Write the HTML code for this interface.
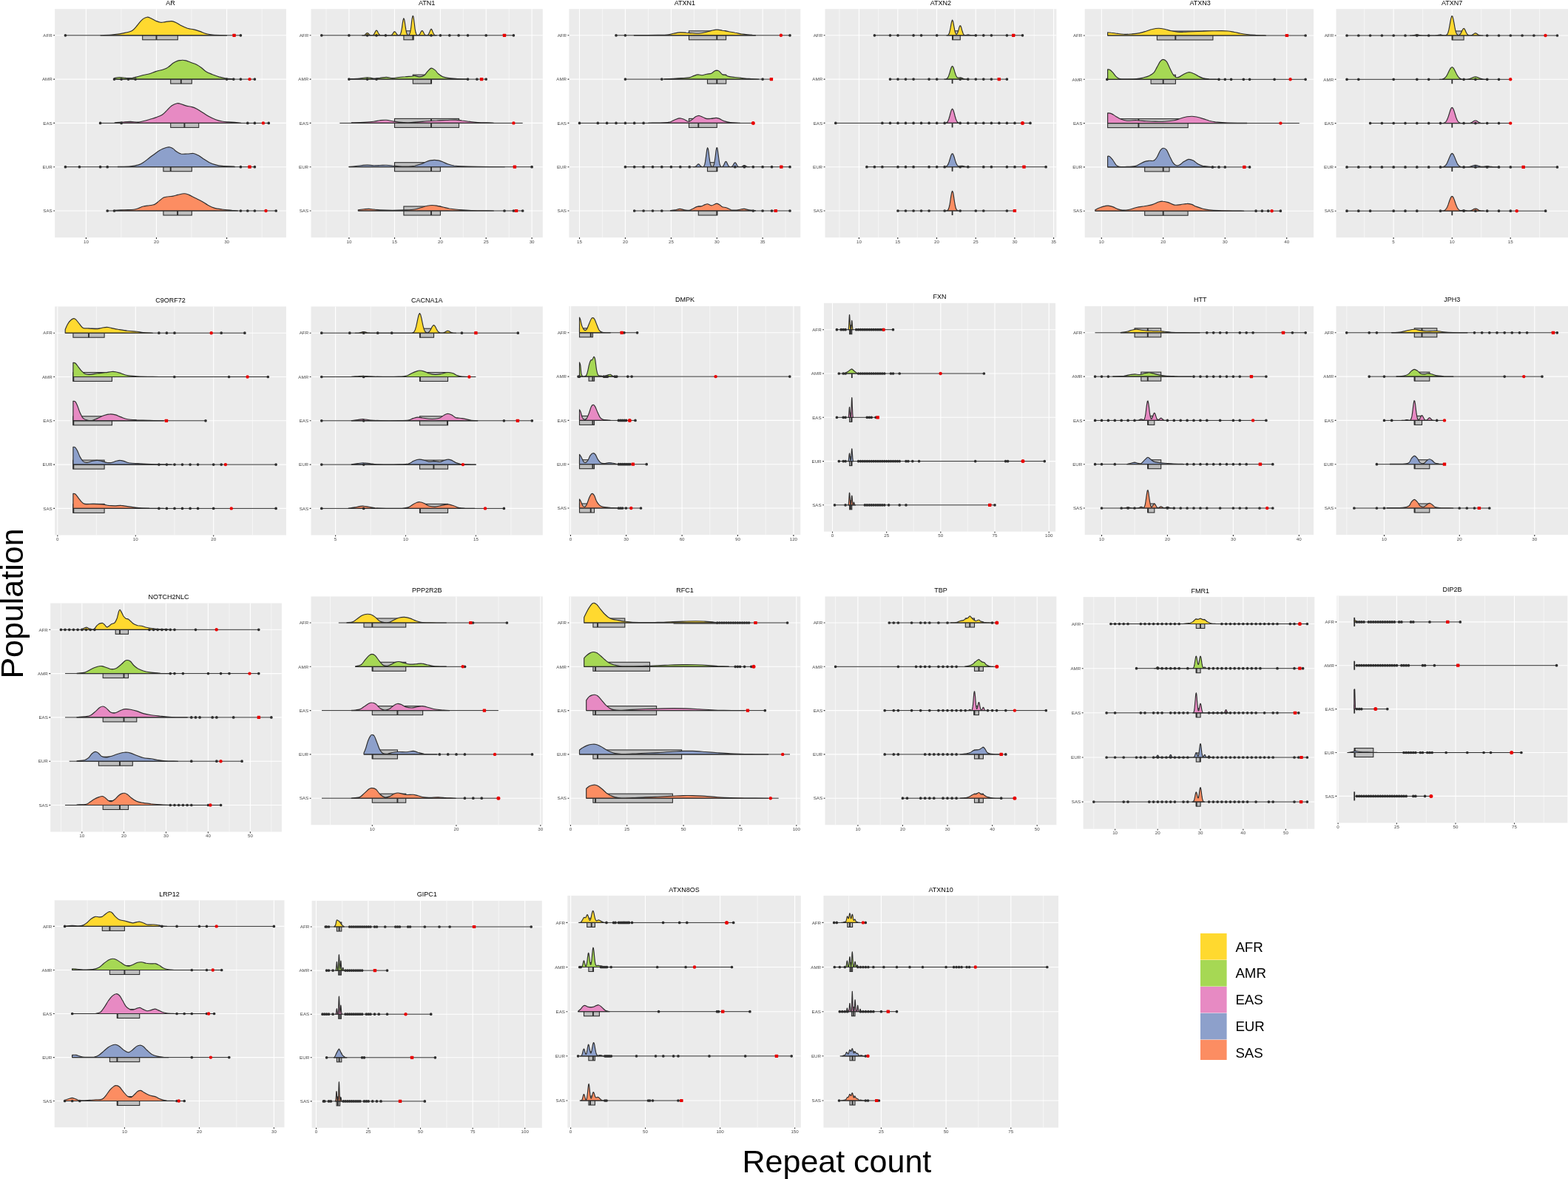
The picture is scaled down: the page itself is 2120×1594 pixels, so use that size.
<!DOCTYPE html>
<html lang="en"><head><meta charset="utf-8"><title>Repeat count by population</title>
<style>html,body{margin:0;padding:0;background:#fff}svg{display:block}</style></head>
<body>
<svg width="2120" height="1594" viewBox="0 0 2120 1594" font-family="'Liberation Sans', Arial, Helvetica, sans-serif">
<rect width="2120" height="1594" fill="#fff"/>
<g>
<rect x="74.1" y="12.2" width="312.9" height="308.9" fill="#EBEBEB"/>
<path d="M163.9 12.2V321.1M259 12.2V321.1M354.2 12.2V321.1" stroke="#fff" stroke-opacity=".9" stroke-width=".6" fill="none"/>
<path d="M116.4 12.2V321.1M211.5 12.2V321.1M306.6 12.2V321.1M74.1 47.8H387M74.1 107.1H387M74.1 166.4H387M74.1 225.7H387M74.1 285H387" stroke="#fff" stroke-width="1.1" fill="none"/>
<path d="M116.4 321.1v1.8M211.5 321.1v1.8M306.6 321.1v1.8M74.1 47.8h-1.8M74.1 107.1h-1.8M74.1 166.4h-1.8M74.1 225.7h-1.8M74.1 285h-1.8" stroke="#2E2E2E" stroke-width="1.1" fill="none"/>
<g font-size="6.2" fill="#4D4D4D" text-anchor="middle">
<text x="116.4" y="328.7">10</text>
<text x="211.5" y="328.7">20</text>
<text x="306.6" y="328.7">30</text>
</g>
<g font-size="6.2" fill="#4D4D4D" text-anchor="end">
<text x="70.7" y="50">AFR</text>
<text x="70.7" y="109.3">AMR</text>
<text x="70.7" y="168.6">EAS</text>
<text x="70.7" y="227.9">EUR</text>
<text x="70.7" y="287.2">SAS</text>
</g>
<text x="230.6" y="7" font-size="9" text-anchor="middle" fill="#000">AR</text>
<rect x="192.7" y="41.8" width="47.6" height="12" fill="#BEBEBE" stroke="#2E2E2E" stroke-width="1.1"/>
<path d="M211.5 41.8v12" stroke="#2E2E2E" stroke-width="1.9"/>
<path d="M136 47.8L136 47.8C138.8 47.6 147.7 47.2 153 46.7C158.4 46.2 163.7 45.5 168 44.6C172.2 43.7 175.8 43 178.6 41.4C181.5 39.8 183.3 36.9 185 35C186.8 33 187.9 31.2 189.3 29.6C190.7 28 192 26.4 193.6 25.4C195.2 24.3 197.1 23.4 198.9 23.2C200.7 23.1 202.3 23.9 204.2 24.7C206.2 25.6 208.5 27.2 210.6 28.2C212.8 29.1 214.9 30 217 30.3C219.2 30.5 220.9 29.9 223.4 29.6C225.9 29.4 229.5 28.4 232 28.6C234.4 28.8 236.2 29.7 238.4 30.7C240.5 31.7 242.3 33.3 244.8 34.6C247.2 35.8 250.4 37.3 253.3 38.2C256.1 39.1 259 39.2 261.8 39.9C264.7 40.6 267.5 41.5 270.4 42.4C273.2 43.4 276 44.9 278.9 45.6C281.7 46.4 282.8 46.8 287.4 47.1C292 47.5 303.4 47.7 306.6 47.8L306.6 47.8Z" fill="#FFD92F" stroke="#2E2E2E" stroke-width="1.15" stroke-linejoin="round"/>
<path d="M88.4 47.8H325.4" stroke="#2E2E2E" stroke-width="1"/>
<path d="M88.4 47.8h0M325.4 47.8h0" stroke="#2E2E2E" stroke-width="3.7" stroke-linecap="round" fill="none"/>
<rect x="314.4" y="45.7" width="4.4" height="4.2" rx=".6" fill="#EA0000"/>
<rect x="230.7" y="101.1" width="28.6" height="12" fill="#BEBEBE" stroke="#2E2E2E" stroke-width="1.1"/>
<path d="M244.8 101.1v12" stroke="#2E2E2E" stroke-width="1.9"/>
<path d="M154.5 107.1L154.5 105.6C155.7 105.4 159 104.5 161.6 104.5C164.2 104.5 167.3 105.2 170.1 105.4C172.9 105.5 176.1 105.8 178.6 105.6C181.1 105.3 182.5 104.5 185 103.9C187.5 103.2 190.7 102.2 193.6 101.5C196.4 100.8 199.3 100.6 202.1 99.8C204.9 99 207.4 97.6 210.6 96.6C213.8 95.6 218.5 94.8 221.3 93.8C224.1 92.9 225.6 92.1 227.7 90.6C229.8 89.2 232 86.7 234.1 85.3C236.2 83.9 238.5 82.8 240.5 82.1C242.4 81.4 244 81.3 245.8 81.3C247.6 81.2 249.2 81.4 251.2 81.9C253.1 82.4 255.1 83.3 257.6 84.2C260 85.2 263.6 86.2 266.1 87.4C268.6 88.7 270.4 90.1 272.5 91.7C274.6 93.3 276.4 95.6 278.9 97C281.4 98.5 284.6 99.5 287.4 100.7C290.3 101.8 293.1 103 295.9 103.9C298.8 104.7 301.3 105.3 304.5 105.8C307.7 106.3 313.4 106.7 315.1 106.9L315.1 107.1Z" fill="#A6D854" stroke="#2E2E2E" stroke-width="1.15" stroke-linejoin="round"/>
<path d="M154.5 107.1H344.4" stroke="#2E2E2E" stroke-width="1"/>
<path d="M154.5 107.1h0M164.1 107.1h0M173.5 107.1h0M183.1 107.1h0M306.6 107.1h0M315.8 107.1h0M325.4 107.1h0M344.4 107.1h0" stroke="#2E2E2E" stroke-width="3.7" stroke-linecap="round" fill="none"/>
<circle cx="337.5" cy="107.1" r="2.2" fill="#EA0000"/>
<rect x="230.7" y="160.4" width="38" height="12" fill="#BEBEBE" stroke="#2E2E2E" stroke-width="1.1"/>
<path d="M249.4 160.4v12" stroke="#2E2E2E" stroke-width="1.9"/>
<path d="M155.2 166.4L155.2 165.9C157.3 165.7 164.4 164.9 168 164.7C171.5 164.4 173.3 164.4 176.5 164.4C179.7 164.5 184.3 165.2 187.2 165.1C190 165 191.1 164.4 193.6 163.8C196.1 163.2 199.3 162.3 202.1 161.5C204.9 160.6 207.8 159.9 210.6 158.9C213.5 157.9 216.7 156.9 219.2 155.3C221.7 153.7 223.4 151.4 225.6 149.3C227.7 147.2 229.6 144.5 232 142.9C234.3 141.3 237.3 140.1 239.4 139.7C241.6 139.3 242.8 140 244.8 140.6C246.7 141.1 248.7 142.2 251.2 142.9C253.6 143.6 257.2 143.9 259.7 144.6C262.2 145.3 263.6 145.9 266.1 147.2C268.6 148.5 271.8 150.7 274.6 152.5C277.5 154.3 280.3 156.3 283.1 157.8C286 159.4 288.8 160.6 291.7 161.7C294.5 162.7 297.4 163.5 300.2 164C303.1 164.6 305.9 164.7 308.7 164.9C311.6 165.1 314.4 165.1 317.3 165.3C320.1 165.5 324.4 166 325.8 166.2L325.8 166.4Z" fill="#E78AC3" stroke="#2E2E2E" stroke-width="1.15" stroke-linejoin="round"/>
<path d="M135.6 166.4H363.3" stroke="#2E2E2E" stroke-width="1"/>
<path d="M135.6 166.4h0M164.1 166.4h0M334.8 166.4h0M344.4 166.4h0M363.3 166.4h0" stroke="#2E2E2E" stroke-width="3.7" stroke-linecap="round" fill="none"/>
<circle cx="355.9" cy="166.4" r="2.2" fill="#EA0000"/>
<rect x="220.9" y="219.7" width="38.4" height="12" fill="#BEBEBE" stroke="#2E2E2E" stroke-width="1.1"/>
<path d="M230.7 219.7v12" stroke="#2E2E2E" stroke-width="1.9"/>
<path d="M159.4 225.7L159.4 225.4C162.3 225.3 171.9 225.2 176.5 224.8C181.1 224.4 184.3 223.7 187.2 222.9C190 222 191.1 221.3 193.6 219.7C196.1 218.1 199.3 215.4 202.1 213.3C204.9 211.2 207.8 208.8 210.6 206.9C213.5 204.9 216.7 202.8 219.2 201.6C221.7 200.3 223.8 199.6 225.6 199.2C227.3 198.8 228.4 198.7 229.8 199C231.2 199.3 232.7 200 234.1 200.9C235.5 201.9 236.6 203.6 238.4 204.8C240.1 205.9 242.3 207.4 244.8 208C247.2 208.5 250.4 208 253.3 208C256.1 207.9 259.3 207.2 261.8 207.5C264.3 207.9 266.1 209 268.2 210.1C270.4 211.2 272.1 212.8 274.6 214.4C277.1 216 280.3 218.3 283.1 219.7C286 221.1 288.8 222.1 291.7 222.9C294.5 223.7 295.9 224 300.2 224.4C304.5 224.8 314.4 225.1 317.3 225.2L317.3 225.7Z" fill="#8DA0CB" stroke="#2E2E2E" stroke-width="1.15" stroke-linejoin="round"/>
<path d="M88.4 225.7H344.4" stroke="#2E2E2E" stroke-width="1"/>
<path d="M88.4 225.7h0M107.4 225.7h0M135.6 225.7h0M145.2 225.7h0M325.4 225.7h0M344.4 225.7h0" stroke="#2E2E2E" stroke-width="3.7" stroke-linecap="round" fill="none"/>
<rect x="335.3" y="223.6" width="4.4" height="4.2" rx=".6" fill="#EA0000"/>
<rect x="220.9" y="279" width="38.4" height="12" fill="#BEBEBE" stroke="#2E2E2E" stroke-width="1.1"/>
<path d="M240.1 279v12" stroke="#2E2E2E" stroke-width="1.9"/>
<path d="M155.2 285L155.2 284.3C157.3 284.2 163.7 283.9 168 283.7C172.2 283.5 177.6 283.6 180.8 283.2C184 282.9 185 282.3 187.2 281.5C189.3 280.8 191.1 279.6 193.6 279C196.1 278.3 199.6 278.1 202.1 277.7C204.6 277.3 206.4 277.6 208.5 276.6C210.6 275.7 212.8 273.5 214.9 271.9C217 270.3 219.2 268.1 221.3 267C223.4 266 225.6 266.1 227.7 265.8C229.8 265.4 232 265.5 234.1 265.1C236.2 264.7 238 264 240.5 263.4C243 262.8 246.5 261.7 249 261.7C251.5 261.7 252.9 262.4 255.4 263.4C257.9 264.4 261.1 266.3 264 267.7C266.8 269.1 269.6 270.3 272.5 271.9C275.3 273.5 278.2 275.7 281 277.3C283.9 278.8 286.3 280.2 289.5 281.1C292.7 282.1 296.3 282.5 300.2 283C304.1 283.6 309.5 284 313 284.3C316.6 284.6 320.1 284.8 321.5 285L321.5 285Z" fill="#FC8D62" stroke="#2E2E2E" stroke-width="1.15" stroke-linejoin="round"/>
<path d="M145.2 285H373.2" stroke="#2E2E2E" stroke-width="1"/>
<path d="M145.2 285h0M154.5 285h0M325.4 285h0M334.8 285h0M344.4 285h0M373.2 285h0" stroke="#2E2E2E" stroke-width="3.7" stroke-linecap="round" fill="none"/>
<circle cx="359.5" cy="285" r="2.2" fill="#EA0000"/>
</g>
<g>
<rect x="420.5" y="12.2" width="313.3" height="308.9" fill="#EBEBEB"/>
<path d="M441 12.2V321.1M502.6 12.2V321.1M564.5 12.2V321.1M626.3 12.2V321.1M688.2 12.2V321.1" stroke="#fff" stroke-opacity=".9" stroke-width=".6" fill="none"/>
<path d="M471.9 12.2V321.1M533.5 12.2V321.1M595.4 12.2V321.1M657.2 12.2V321.1M719.1 12.2V321.1M420.5 47.8H733.8M420.5 107.1H733.8M420.5 166.4H733.8M420.5 225.7H733.8M420.5 285H733.8" stroke="#fff" stroke-width="1.1" fill="none"/>
<path d="M471.9 321.1v1.8M533.5 321.1v1.8M595.4 321.1v1.8M657.2 321.1v1.8M719.1 321.1v1.8M420.5 47.8h-1.8M420.5 107.1h-1.8M420.5 166.4h-1.8M420.5 225.7h-1.8M420.5 285h-1.8" stroke="#2E2E2E" stroke-width="1.1" fill="none"/>
<g font-size="6.2" fill="#4D4D4D" text-anchor="middle">
<text x="471.9" y="328.7">10</text>
<text x="533.5" y="328.7">15</text>
<text x="595.4" y="328.7">20</text>
<text x="657.2" y="328.7">25</text>
<text x="719.1" y="328.7">30</text>
</g>
<g font-size="6.2" fill="#4D4D4D" text-anchor="end">
<text x="417.1" y="50">AFR</text>
<text x="417.1" y="109.3">AMR</text>
<text x="417.1" y="168.6">EAS</text>
<text x="417.1" y="227.9">EUR</text>
<text x="417.1" y="287.2">SAS</text>
</g>
<text x="577.2" y="7" font-size="9" text-anchor="middle" fill="#000">ATN1</text>
<rect x="545.9" y="41.8" width="13.2" height="12" fill="#BEBEBE" stroke="#2E2E2E" stroke-width="1.1"/>
<path d="M558.3 41.8v12" stroke="#2E2E2E" stroke-width="1.9"/>
<path d="M489.7 47.8L489.7 47.8L490.5 47.8L491.3 47.7L492 47.6L492.8 47.3L493.6 46.9L494.3 46.2L495.1 45.5L495.9 44.8L496.6 44.6L497.4 44.8L498.2 45.5L498.9 46.2L499.7 46.9L500.5 47.3L501.3 47.6L502 47.7L502.8 47.7L503.6 47.7L504.3 47.4L505.1 46.9L505.9 46L506.6 44.6L507.4 43L508.2 41.6L508.9 41L509.7 41.4L510.5 42.6L511.2 44.3L512 45.7L512.8 46.8L513.5 47.4L514.3 47.6L515.1 47.7L527.4 47.7L528.1 47.7L528.9 47.5L529.7 47.1L530.4 46.4L531.2 45.4L532 44.1L532.7 43.1L533.5 42.7L534.3 43L535 44L535.8 45.2L536.6 46.3L537.3 47.1L538.1 47.5L538.9 47.6L539.6 47.6L540.4 47.4L541.2 46.7L541.9 45.1L542.7 42L543.5 37.4L544.2 32L545 27.1L545.8 24.8L546.6 26L547.3 30.2L548.1 35.7L548.9 40.7L549.6 44.2L550.4 46.3L551.2 47.2L551.9 47.5L552.7 47.3L553.5 46.6L554.2 44.9L555 41.6L555.8 36.5L556.5 30.2L557.3 24.4L558.1 21.3L558.8 22.2L559.6 26.7L560.4 33L561.1 39L561.9 43.3L562.7 45.8L563.4 47.1L564.2 47.5L565 47.6L565.7 47.5L566.5 47.1L567.3 46.4L568.1 45.2L568.8 43.7L569.6 42.3L570.4 41.5L571.1 41.6L571.9 42.6L572.7 44.1L573.4 45.5L574.2 46.6L575 47.3L575.7 47.6L576.5 47.7L577.3 47.7L578 47.5L578.8 47L579.6 46.1L580.3 44.6L581.1 42.6L581.9 40.7L582.6 39.4L583.4 39.4L584.2 40.7L584.9 42.6L585.7 44.6L586.5 46.1L587.2 47L588 47.5L588.8 47.7L589.6 47.8L590.3 47.8L590.3 47.8Z" fill="#FFD92F" stroke="#2E2E2E" stroke-width="1.15" stroke-linejoin="round"/>
<path d="M434.8 47.8H694.4" stroke="#2E2E2E" stroke-width="1"/>
<path d="M434.8 47.8h0M471.9 47.8h0M496.6 47.8h0M509 47.8h0M521.4 47.8h0M583 47.8h0M595.4 47.8h0M607.8 47.8h0M620.1 47.8h0M632.5 47.8h0M657.2 47.8h0M694.4 47.8h0" stroke="#2E2E2E" stroke-width="3.7" stroke-linecap="round" fill="none"/>
<rect x="679.8" y="45.7" width="4.4" height="4.2" rx=".6" fill="#EA0000"/>
<rect x="558.3" y="101.1" width="25.2" height="12" fill="#BEBEBE" stroke="#2E2E2E" stroke-width="1.1"/>
<path d="M583 101.1v12" stroke="#2E2E2E" stroke-width="1.9"/>
<path d="M473.2 107.1L473.2 106.6C475 106.6 479.9 106.5 483.8 106.2C487.8 105.9 493.1 104.8 496.6 104.7C500.2 104.7 502.3 105.9 505.2 106C508 106.1 510.9 105.6 513.7 105.4C516.6 105.1 519.4 104.3 522.2 104.3C525.1 104.3 527.9 105.5 530.8 105.6C533.6 105.6 536.5 104.8 539.3 104.5C542.1 104.2 545 103.9 547.8 103.7C550.7 103.4 554.2 103.4 556.4 103.2C558.5 103 558.9 102.3 560.6 102.4C562.4 102.5 564.9 103.9 567 103.9C569.2 103.8 571.7 103.1 573.4 102C575.2 100.8 576.1 98.7 577.7 97C579.3 95.4 581.2 92.5 583 92.1C584.8 91.8 586.8 93.6 588.4 94.9C590 96.2 590.8 98.3 592.6 99.8C594.4 101.3 596.9 102.9 599 103.9C601.2 104.8 602.6 105 605.4 105.4C608.3 105.8 611.5 106 616.1 106.2C620.7 106.5 630.3 106.8 633.1 106.9L633.1 107.1Z" fill="#A6D854" stroke="#2E2E2E" stroke-width="1.15" stroke-linejoin="round"/>
<path d="M471.9 107.1H657.2" stroke="#2E2E2E" stroke-width="1"/>
<path d="M471.9 107.1h0M496.6 107.1h0M509 107.1h0M632.5 107.1h0M644.9 107.1h0M657.2 107.1h0" stroke="#2E2E2E" stroke-width="3.7" stroke-linecap="round" fill="none"/>
<rect x="648.9" y="105" width="4.4" height="4.2" rx=".6" fill="#EA0000"/>
<rect x="533.5" y="160.4" width="87" height="12" fill="#BEBEBE" stroke="#2E2E2E" stroke-width="1.1"/>
<path d="M583 160.4v12" stroke="#2E2E2E" stroke-width="1.9"/>
<path d="M475.3 166.4L475.3 165.9C478.2 165.8 487.4 165.6 492.4 165.3C497.4 165 501.6 164.7 505.2 164.2C508.7 163.8 510.9 163.1 513.7 162.7C516.6 162.4 519.4 162.1 522.2 162.3C525.1 162.5 527.9 163.3 530.8 163.8C533.6 164.3 535.7 164.8 539.3 165.1C542.9 165.4 547.8 165.8 552.1 165.7C556.4 165.7 560.6 165.2 564.9 164.9C569.2 164.6 573.4 164.1 577.7 163.8C582 163.5 586.2 163.2 590.5 163C594.8 162.7 599 162.7 603.3 162.5C607.6 162.4 612.5 162 616.1 162.1C619.6 162.2 621.4 162.6 624.6 163C627.8 163.3 631.7 164 635.3 164.4C638.8 164.9 640.6 165.2 645.9 165.5C651.3 165.8 663.7 166 667.3 166.2L667.3 166.4Z" fill="#E78AC3" stroke="#2E2E2E" stroke-width="1.15" stroke-linejoin="round"/>
<path d="M459.3 166.4H706.7" stroke="#2E2E2E" stroke-width="1"/>
<circle cx="694.4" cy="166.4" r="2.2" fill="#EA0000"/>
<rect x="533.5" y="219.7" width="61.9" height="12" fill="#BEBEBE" stroke="#2E2E2E" stroke-width="1.1"/>
<path d="M583 219.7v12" stroke="#2E2E2E" stroke-width="1.9"/>
<path d="M471.9 225.7L471.9 225.4C473.2 225.3 476.9 225.1 479.6 224.8C482.3 224.5 485.3 224 488.1 223.7C491 223.5 493.8 223.1 496.6 223.1C499.5 223.1 502.3 223.7 505.2 223.7C508 223.8 510.9 223.6 513.7 223.5C516.6 223.5 519.4 223.2 522.2 223.3C525.1 223.4 527.9 223.7 530.8 224C533.6 224.2 535.7 224.6 539.3 224.8C542.9 225 548.5 225.1 552.1 225C555.7 224.9 557.8 224.7 560.6 224.2C563.5 223.6 566.7 222.7 569.2 221.8C571.7 221 573.4 219.9 575.6 219C577.7 218.2 580 217.4 582 216.9C583.9 216.5 585.5 216.3 587.3 216.3C589.1 216.3 590.7 216.5 592.6 216.9C594.6 217.4 596.9 218.2 599 219C601.2 219.9 602.9 221 605.4 221.8C607.9 222.6 610.8 223.5 614 224C617.2 224.4 619.3 224.6 624.6 224.8C629.9 225 636.3 225.1 645.9 225.2C655.5 225.4 676.2 225.6 682.2 225.7L682.2 225.7Z" fill="#8DA0CB" stroke="#2E2E2E" stroke-width="1.15" stroke-linejoin="round"/>
<path d="M471.9 225.7H719.1" stroke="#2E2E2E" stroke-width="1"/>
<path d="M719.1 225.7h0" stroke="#2E2E2E" stroke-width="3.7" stroke-linecap="round" fill="none"/>
<rect x="693.7" y="223.6" width="4.4" height="4.2" rx=".6" fill="#EA0000"/>
<rect x="545.9" y="279" width="49.5" height="12" fill="#BEBEBE" stroke="#2E2E2E" stroke-width="1.1"/>
<path d="M583 279v12" stroke="#2E2E2E" stroke-width="1.9"/>
<path d="M484.3 285L484.3 283.7C485.6 283.5 490 283 492.4 282.8C494.8 282.6 496.6 282.4 498.8 282.4C500.9 282.4 502.7 282.8 505.2 283C507.7 283.3 509.4 283.7 513.7 283.9C518 284.1 525.1 284.3 530.8 284.3C536.5 284.3 542.9 284.1 547.8 283.9C552.8 283.7 557.1 283.6 560.6 283C564.2 282.5 566.3 281.5 569.2 280.7C572 279.9 575.2 278.9 577.7 278.3C580.2 277.8 582 277.5 584.1 277.5C586.2 277.5 588 277.7 590.5 278.1C593 278.6 596.2 279.4 599 280C601.9 280.7 604 281.4 607.6 282C611.1 282.5 615.4 283 620.4 283.5C625.3 283.9 629.6 284.3 637.4 284.5C645.2 284.8 662.3 284.9 667.3 285L667.3 285Z" fill="#FC8D62" stroke="#2E2E2E" stroke-width="1.15" stroke-linejoin="round"/>
<path d="M484.3 285H706.7" stroke="#2E2E2E" stroke-width="1"/>
<path d="M682 285h0M694.4 285h0M706.7 285h0" stroke="#2E2E2E" stroke-width="3.7" stroke-linecap="round" fill="none"/>
<rect x="695.8" y="282.9" width="4.4" height="4.2" rx=".6" fill="#EA0000"/>
</g>
<g>
<rect x="769.4" y="12.2" width="312.9" height="308.9" fill="#EBEBEB"/>
<path d="M814.4 12.2V321.1M876.5 12.2V321.1M938.4 12.2V321.1M1000.2 12.2V321.1M1062.1 12.2V321.1" stroke="#fff" stroke-opacity=".9" stroke-width=".6" fill="none"/>
<path d="M783.5 12.2V321.1M845.4 12.2V321.1M907.4 12.2V321.1M969.3 12.2V321.1M1031.1 12.2V321.1M769.4 47.8H1082.3M769.4 107.1H1082.3M769.4 166.4H1082.3M769.4 225.7H1082.3M769.4 285H1082.3" stroke="#fff" stroke-width="1.1" fill="none"/>
<path d="M783.5 321.1v1.8M845.4 321.1v1.8M907.4 321.1v1.8M969.3 321.1v1.8M1031.1 321.1v1.8M769.4 47.8h-1.8M769.4 107.1h-1.8M769.4 166.4h-1.8M769.4 225.7h-1.8M769.4 285h-1.8" stroke="#2E2E2E" stroke-width="1.1" fill="none"/>
<g font-size="6.2" fill="#4D4D4D" text-anchor="middle">
<text x="783.5" y="328.7">15</text>
<text x="845.4" y="328.7">20</text>
<text x="907.4" y="328.7">25</text>
<text x="969.3" y="328.7">30</text>
<text x="1031.1" y="328.7">35</text>
</g>
<g font-size="6.2" fill="#4D4D4D" text-anchor="end">
<text x="766" y="50">AFR</text>
<text x="766" y="109.3">AMR</text>
<text x="766" y="168.6">EAS</text>
<text x="766" y="227.9">EUR</text>
<text x="766" y="287.2">SAS</text>
</g>
<text x="925.9" y="7" font-size="9" text-anchor="middle" fill="#000">ATXN1</text>
<rect x="931.5" y="41.8" width="50.1" height="12" fill="#BEBEBE" stroke="#2E2E2E" stroke-width="1.1"/>
<path d="M969.3 41.8v12" stroke="#2E2E2E" stroke-width="1.9"/>
<path d="M857.3 47.8L857.3 47.6C862.6 47.5 881.5 47.5 889.3 47.3C897.1 47.2 900.7 47.1 904.2 46.7C907.8 46.4 908.1 45.7 910.6 45.2C913.1 44.8 916.3 44.1 919.2 43.9C922 43.8 924.8 44 927.7 44.2C930.5 44.3 933.4 44.6 936.2 44.8C939.1 45 941.9 45.4 944.8 45.2C947.6 45 950.4 44.4 953.3 43.7C956.1 43.1 959.2 42 961.8 41.4C964.5 40.8 966.8 40.1 969.3 40.1C971.8 40.1 974.1 40.7 976.7 41.2C979.4 41.6 982.4 42.2 985.3 42.7C988.1 43.2 991 43.6 993.8 44.2C996.7 44.7 999.5 45.4 1002.3 45.9C1005.2 46.3 1007.7 46.6 1010.9 46.9C1014.1 47.2 1019.8 47.5 1021.5 47.6L1021.5 47.8Z" fill="#FFD92F" stroke="#2E2E2E" stroke-width="1.15" stroke-linejoin="round"/>
<path d="M833 47.8H1068" stroke="#2E2E2E" stroke-width="1"/>
<path d="M833 47.8h0M845.4 47.8h0M1068 47.8h0" stroke="#2E2E2E" stroke-width="3.7" stroke-linecap="round" fill="none"/>
<circle cx="1055.9" cy="47.8" r="2.2" fill="#EA0000"/>
<rect x="956.5" y="101.1" width="25.2" height="12" fill="#BEBEBE" stroke="#2E2E2E" stroke-width="1.1"/>
<path d="M969.3 101.1v12" stroke="#2E2E2E" stroke-width="1.9"/>
<path d="M897.8 107.1L897.8 106.9C900 106.8 906.7 106.4 910.6 106.2C914.5 106 917.7 105.8 921.3 105.6C924.8 105.4 929.1 105.5 932 104.9C934.8 104.4 936.4 103.1 938.4 102.4C940.3 101.7 941.9 101 943.7 100.9C945.5 100.8 947.1 101.8 949 101.7C951 101.6 953.3 100.7 955.4 100.2C957.6 99.8 960 99.9 961.8 99.2C963.6 98.5 964.8 96.7 966.1 96C967.3 95.3 968.2 95.1 969.3 95.1C970.4 95.2 971.2 95.5 972.5 96.4C973.7 97.3 975.3 99.8 976.7 100.7C978.2 101.5 979.6 101.1 981 101.5C982.4 102 983.1 102.9 985.3 103.4C987.4 103.9 991 104.2 993.8 104.5C996.7 104.8 999.1 105 1002.3 105.4C1005.5 105.7 1009.1 106.1 1013 106.4C1016.9 106.7 1023.7 107 1025.8 107.1L1025.8 107.1Z" fill="#A6D854" stroke="#2E2E2E" stroke-width="1.15" stroke-linejoin="round"/>
<path d="M845.4 107.1H1043.5" stroke="#2E2E2E" stroke-width="1"/>
<path d="M845.4 107.1h0M894.8 107.1h0M1031.1 107.1h0" stroke="#2E2E2E" stroke-width="3.7" stroke-linecap="round" fill="none"/>
<rect x="1040.7" y="105" width="4.4" height="4.2" rx=".6" fill="#EA0000"/>
<rect x="931.5" y="160.4" width="37.8" height="12" fill="#BEBEBE" stroke="#2E2E2E" stroke-width="1.1"/>
<path d="M944.3 160.4v12" stroke="#2E2E2E" stroke-width="1.9"/>
<path d="M876.5 166.4L876.5 166.2C880.1 166.1 892.9 166 897.8 165.7C902.8 165.5 903.9 165.3 906.4 164.7C908.9 164 910.6 162.5 912.8 161.7C914.9 160.9 917 159.8 919.2 159.8C921.3 159.8 923.6 160.9 925.6 161.7C927.5 162.4 929.3 164.2 930.9 164.2C932.5 164.3 933.6 163.2 935.2 162.1C936.8 161 938.9 158.8 940.5 157.8C942.1 156.9 943.2 156.3 944.8 156.3C946.4 156.4 948.3 157.5 950.1 158.3C951.9 159 953.5 160.3 955.4 160.6C957.4 161 959.7 160.6 961.8 160.4C964 160.2 966.4 159.3 968.2 159.3C970 159.3 970.7 159.7 972.5 160.4C974.3 161.1 976.4 162.7 978.9 163.6C981.4 164.4 983.9 165.1 987.4 165.5C991 165.9 998.1 166 1000.2 166.2L1000.2 166.4Z" fill="#E78AC3" stroke="#2E2E2E" stroke-width="1.15" stroke-linejoin="round"/>
<path d="M783.5 166.4H1018.3" stroke="#2E2E2E" stroke-width="1"/>
<path d="M783.5 166.4h0M808.3 166.4h0M820.6 166.4h0M833 166.4h0M845.4 166.4h0M857.7 166.4h0M870.1 166.4h0" stroke="#2E2E2E" stroke-width="3.7" stroke-linecap="round" fill="none"/>
<circle cx="1018.3" cy="166.4" r="2.5" fill="#EA0000"/>
<rect x="956.5" y="219.7" width="13.2" height="12" fill="#BEBEBE" stroke="#2E2E2E" stroke-width="1.1"/>
<path d="M969.3 219.7v12" stroke="#2E2E2E" stroke-width="1.9"/>
<path d="M937.4 225.7L937.4 225.7L938.2 225.6L939 225.6L939.7 225.4L940.5 225.1L941.3 224.6L942 223.8L942.8 222.9L943.6 222.1L944.3 221.8L945.1 222.1L945.9 222.9L946.6 223.8L947.4 224.6L948.2 225.1L948.9 225.4L949.7 225.5L950.5 225.5L951.2 225.2L952 224.3L952.8 222.4L953.5 218.9L954.3 213.7L955.1 207.4L955.8 202.1L956.6 199.7L957.4 201.2L958.2 206.1L958.9 212.3L959.7 217.9L960.5 221.8L961.2 224L962 225.1L962.8 225.4L963.5 225.3L964.3 224.7L965.1 223.3L965.8 220.4L966.6 215.7L967.4 209.6L968.1 203.6L968.9 199.7L969.7 199.7L970.4 203.6L971.2 209.6L972 215.7L972.7 220.4L973.5 223.3L974.3 224.8L975 225.3L975.8 225.5L976.6 225.3L977.3 224.9L978.1 224L978.9 222.6L979.7 220.8L980.4 219.2L981.2 218.3L982 218.5L982.7 219.7L983.5 221.4L984.3 223.1L985 224.4L985.8 225.1L986.6 225.4L987.3 225.6L988.1 225.6L988.9 225.4L989.6 225.1L990.4 224.4L991.2 223.3L991.9 222L992.7 220.6L993.5 219.8L994.2 219.8L995 220.7L995.8 222.1L996.5 223.5L997.3 224.5L998.1 225.2L998.8 225.5L999.6 225.6L1000.4 225.6L1001.1 225.6L1001.9 225.5L1002.7 225.3L1003.5 225L1004.2 224.5L1005 224L1005.8 223.6L1006.5 223.5L1007.3 223.7L1008.1 224.2L1008.8 224.7L1009.6 225.1L1010.4 225.4L1011.1 225.6L1011.9 225.6L1013.4 225.7L1013.4 225.7Z" fill="#8DA0CB" stroke="#2E2E2E" stroke-width="1.15" stroke-linejoin="round"/>
<path d="M845.4 225.7H1068" stroke="#2E2E2E" stroke-width="1"/>
<path d="M845.4 225.7h0M857.7 225.7h0M870.1 225.7h0M882.5 225.7h0M894.8 225.7h0M907.4 225.7h0M919.8 225.7h0M932.2 225.7h0M993.8 225.7h0M1006.4 225.7h0M1018.3 225.7h0M1031.1 225.7h0M1043.5 225.7h0M1068 225.7h0" stroke="#2E2E2E" stroke-width="3.7" stroke-linecap="round" fill="none"/>
<rect x="1054.1" y="223.6" width="4.4" height="4.2" rx=".6" fill="#EA0000"/>
<rect x="944.3" y="279" width="25.4" height="12" fill="#BEBEBE" stroke="#2E2E2E" stroke-width="1.1"/>
<path d="M969.3 279v12" stroke="#2E2E2E" stroke-width="1.9"/>
<path d="M906.4 285L906.4 284.7C907.4 284.6 910.6 284.3 912.8 283.9C914.9 283.5 917 282.4 919.2 282.4C921.3 282.4 923.4 283.4 925.6 283.7C927.7 284 930 284.6 932 284.3C933.9 284 935.5 282.8 937.3 282C939.1 281.1 940.8 279.9 942.6 279.4C944.4 278.9 946.2 279.4 948 279C949.7 278.5 951.8 277.2 953.3 276.6C954.7 276.1 955.3 275.6 956.7 275.8C958.1 276 960.3 277.8 961.8 277.9C963.4 278 964.8 276.7 966.1 276.2C967.3 275.7 968 275 969.3 275.1C970.5 275.3 972.3 276.5 973.6 277.3C974.8 278.1 975.3 279.3 976.7 279.8C978.2 280.4 980.1 280 982.1 280.7C984 281.3 986.2 283.1 988.5 283.7C990.8 284.2 993.6 284.2 995.9 284.1C998.3 284 1000.6 283.1 1002.3 282.8C1004.1 282.5 1004.8 282.2 1006.6 282.4C1008.4 282.6 1010.5 283.5 1013 283.9C1015.5 284.3 1020.1 284.6 1021.5 284.7L1021.5 285Z" fill="#FC8D62" stroke="#2E2E2E" stroke-width="1.15" stroke-linejoin="round"/>
<path d="M857.7 285H1068" stroke="#2E2E2E" stroke-width="1"/>
<path d="M857.7 285h0M870.1 285h0M882.5 285h0M894.8 285h0M1018.3 285h0M1031.1 285h0M1043.5 285h0M1068 285h0" stroke="#2E2E2E" stroke-width="3.7" stroke-linecap="round" fill="none"/>
<rect x="1046.6" y="282.9" width="4.4" height="4.2" rx=".6" fill="#EA0000"/>
</g>
<g>
<rect x="1115.5" y="12.2" width="312.9" height="308.9" fill="#EBEBEB"/>
<path d="M1134.9 12.2V321.1M1187.6 12.2V321.1M1240.3 12.2V321.1M1293 12.2V321.1M1345.6 12.2V321.1M1398.3 12.2V321.1" stroke="#fff" stroke-opacity=".9" stroke-width=".6" fill="none"/>
<path d="M1161.4 12.2V321.1M1213.8 12.2V321.1M1266.5 12.2V321.1M1319.2 12.2V321.1M1371.9 12.2V321.1M1424.6 12.2V321.1M1115.5 47.8H1428.4M1115.5 107.1H1428.4M1115.5 166.4H1428.4M1115.5 225.7H1428.4M1115.5 285H1428.4" stroke="#fff" stroke-width="1.1" fill="none"/>
<path d="M1161.4 321.1v1.8M1213.8 321.1v1.8M1266.5 321.1v1.8M1319.2 321.1v1.8M1371.9 321.1v1.8M1424.6 321.1v1.8M1115.5 47.8h-1.8M1115.5 107.1h-1.8M1115.5 166.4h-1.8M1115.5 225.7h-1.8M1115.5 285h-1.8" stroke="#2E2E2E" stroke-width="1.1" fill="none"/>
<g font-size="6.2" fill="#4D4D4D" text-anchor="middle">
<text x="1161.4" y="328.7">10</text>
<text x="1213.8" y="328.7">15</text>
<text x="1266.5" y="328.7">20</text>
<text x="1319.2" y="328.7">25</text>
<text x="1371.9" y="328.7">30</text>
<text x="1424.6" y="328.7">35</text>
</g>
<g font-size="6.2" fill="#4D4D4D" text-anchor="end">
<text x="1112.1" y="50">AFR</text>
<text x="1112.1" y="109.3">AMR</text>
<text x="1112.1" y="168.6">EAS</text>
<text x="1112.1" y="227.9">EUR</text>
<text x="1112.1" y="287.2">SAS</text>
</g>
<text x="1271.9" y="7" font-size="9" text-anchor="middle" fill="#000">ATXN2</text>
<rect x="1287.6" y="41.8" width="10.7" height="12" fill="#BEBEBE" stroke="#2E2E2E" stroke-width="1.1"/>
<path d="M1288.1 41.8v12" stroke="#2E2E2E" stroke-width="1.9"/>
<path d="M1279.9 47.8L1279.9 47.7L1280.8 47.7L1281.7 47.4L1282.5 46.6L1283.4 45L1284.2 42L1285.1 37.7L1285.9 32.8L1286.8 28.7L1287.6 27.1L1288.5 28.7L1289.3 32.8L1290.2 37.7L1291 42L1291.9 44.8L1292.7 46.2L1293.6 46.2L1294.4 45L1295.3 42.8L1296.2 39.7L1297 36.7L1297.9 34.8L1298.7 34.8L1299.6 36.7L1300.4 39.8L1301.3 42.8L1302.1 45.2L1303 46.6L1303.8 47.3L1304.7 47.5L1305.5 47.5L1306.4 47.4L1307.2 47.2L1308.1 47L1309 46.9L1309.8 47L1310.7 47.2L1311.5 47.4L1312.4 47.5L1313.2 47.7L1314.1 47.7L1317.5 47.8L1317.5 47.8Z" fill="#FFD92F" stroke="#2E2E2E" stroke-width="1.15" stroke-linejoin="round"/>
<path d="M1182.3 47.8H1382.5" stroke="#2E2E2E" stroke-width="1"/>
<path d="M1182.4 47.8h0M1203.5 47.8h0M1214 47.8h0M1235.1 47.8h0M1245.6 47.8h0M1266.7 47.8h0M1319.3 47.8h0M1329.8 47.8h0M1340.4 47.8h0M1361.4 47.8h0M1382.5 47.8h0" stroke="#2E2E2E" stroke-width="3.7" stroke-linecap="round" fill="none"/>
<rect x="1368" y="45.7" width="4.4" height="4.2" rx=".6" fill="#EA0000"/>
<path d="M1287.6 101.1v12" stroke="#2E2E2E" stroke-width="1.8"/>
<path d="M1276.9 107.1L1276.9 107L1278.1 107L1279.3 106.7L1280.5 106.1L1281.7 104.7L1282.8 102.1L1284 98.5L1285.2 94.2L1286.4 90.7L1287.6 89.4L1288.8 90.7L1290 94.2L1291.2 98.3L1292.4 101.8L1293.6 104.1L1294.8 105L1296 105.1L1297.2 105L1298.4 104.9L1299.6 105.1L1300.8 105.6L1302 106.1L1303.2 106.5L1304.3 106.8L1305.5 107L1306.7 107L1309.1 107.1L1309.1 107.1Z" fill="#A6D854" stroke="#2E2E2E" stroke-width="1.15" stroke-linejoin="round"/>
<path d="M1203.4 107.1H1361.4" stroke="#2E2E2E" stroke-width="1"/>
<path d="M1203.5 107.1h0M1214 107.1h0M1224.5 107.1h0M1235.1 107.1h0M1256.1 107.1h0M1266.7 107.1h0M1298.2 107.1h0M1308.8 107.1h0M1319.3 107.1h0M1329.8 107.1h0M1340.4 107.1h0M1361.4 107.1h0" stroke="#2E2E2E" stroke-width="3.7" stroke-linecap="round" fill="none"/>
<rect x="1348.6" y="105" width="4.4" height="4.2" rx=".6" fill="#EA0000"/>
<path d="M1287.6 160.4v12" stroke="#2E2E2E" stroke-width="1.8"/>
<path d="M1276.9 166.4L1276.9 166.3L1278.1 166.2L1279.3 166L1280.5 165.3L1281.7 163.8L1282.8 161L1284 157L1285.2 152.4L1286.4 148.6L1287.6 147.2L1288.8 148.6L1290 152.4L1291.2 157L1292.4 161L1293.6 163.8L1294.8 165.3L1296 166L1297.2 166.2L1298.4 166.3L1298.4 166.4Z" fill="#E78AC3" stroke="#2E2E2E" stroke-width="1.15" stroke-linejoin="round"/>
<path d="M1129.6 166.4H1393" stroke="#2E2E2E" stroke-width="1"/>
<path d="M1129.8 166.4h0M1192.9 166.4h0M1203.5 166.4h0M1214 166.4h0M1224.5 166.4h0M1235.1 166.4h0M1245.6 166.4h0M1256.1 166.4h0M1266.7 166.4h0M1277.2 166.4h0M1298.2 166.4h0M1308.8 166.4h0M1319.3 166.4h0M1329.8 166.4h0M1340.4 166.4h0M1350.9 166.4h0M1361.4 166.4h0M1372 166.4h0M1393 166.4h0" stroke="#2E2E2E" stroke-width="3.7" stroke-linecap="round" fill="none"/>
<circle cx="1382.5" cy="166.4" r="2.5" fill="#EA0000"/>
<path d="M1287.6 219.7v12" stroke="#2E2E2E" stroke-width="1.8"/>
<path d="M1276.1 225.7L1276.1 225.6L1277.3 225.6L1278.5 225.3L1279.7 224.8L1280.9 223.7L1282.1 221.6L1283.3 218.5L1284.5 214.5L1285.7 210.6L1286.9 208L1288.1 207.7L1289.2 209.7L1290.4 213.3L1291.6 217.4L1292.8 220.8L1294 223.1L1295.2 224.3L1296.4 224.7L1297.6 224.7L1298.8 224.5L1300 224.4L1301.2 224.4L1302.4 224.6L1303.6 224.9L1304.8 225.2L1306 225.4L1307.2 225.6L1308.4 225.6L1311.9 225.7L1311.9 225.7Z" fill="#8DA0CB" stroke="#2E2E2E" stroke-width="1.15" stroke-linejoin="round"/>
<path d="M1171.6 225.7H1414.1" stroke="#2E2E2E" stroke-width="1"/>
<path d="M1171.9 225.7h0M1182.4 225.7h0M1192.9 225.7h0M1214 225.7h0M1224.5 225.7h0M1235.1 225.7h0M1256.1 225.7h0M1266.7 225.7h0M1277.2 225.7h0M1298.2 225.7h0M1308.8 225.7h0M1329.8 225.7h0M1340.4 225.7h0M1361.4 225.7h0M1372 225.7h0M1414.1 225.7h0" stroke="#2E2E2E" stroke-width="3.7" stroke-linecap="round" fill="none"/>
<rect x="1382.3" y="223.6" width="4.4" height="4.2" rx=".6" fill="#EA0000"/>
<path d="M1287.6 279v12" stroke="#2E2E2E" stroke-width="1.8"/>
<path d="M1279.2 285L1279.2 284.9L1280.1 284.8L1281.1 284.4L1282 283.5L1282.9 281.3L1283.9 277.5L1284.8 272L1285.7 265.6L1286.7 260.3L1287.6 258.3L1288.6 260.3L1289.5 265.6L1290.4 272L1291.4 277.5L1292.3 281.3L1293.3 283.5L1294.2 284.4L1295.1 284.8L1296.1 284.9L1296.1 285Z" fill="#FC8D62" stroke="#2E2E2E" stroke-width="1.15" stroke-linejoin="round"/>
<path d="M1213.8 285H1371.9" stroke="#2E2E2E" stroke-width="1"/>
<path d="M1214 285h0M1224.5 285h0M1235.1 285h0M1245.6 285h0M1256.1 285h0M1277.2 285h0M1298.2 285h0M1319.3 285h0M1329.8 285h0M1361.4 285h0" stroke="#2E2E2E" stroke-width="3.7" stroke-linecap="round" fill="none"/>
<rect x="1369.7" y="282.9" width="4.4" height="4.2" rx=".6" fill="#EA0000"/>
</g>
<g>
<rect x="1466.7" y="12.2" width="309.3" height="308.9" fill="#EBEBEB"/>
<path d="M1531.1 12.2V321.1M1614.5 12.2V321.1M1698.1 12.2V321.1" stroke="#fff" stroke-opacity=".9" stroke-width=".6" fill="none"/>
<path d="M1489.3 12.2V321.1M1572.7 12.2V321.1M1656.3 12.2V321.1M1739.7 12.2V321.1M1466.7 48H1776M1466.7 107.3H1776M1466.7 166.6H1776M1466.7 225.9H1776M1466.7 285.2H1776" stroke="#fff" stroke-width="1.1" fill="none"/>
<path d="M1489.3 321.1v1.8M1572.7 321.1v1.8M1656.3 321.1v1.8M1739.7 321.1v1.8M1466.7 48h-1.8M1466.7 107.3h-1.8M1466.7 166.6h-1.8M1466.7 225.9h-1.8M1466.7 285.2h-1.8" stroke="#2E2E2E" stroke-width="1.1" fill="none"/>
<g font-size="6.2" fill="#4D4D4D" text-anchor="middle">
<text x="1489.3" y="328.7">10</text>
<text x="1572.7" y="328.7">20</text>
<text x="1656.3" y="328.7">30</text>
<text x="1739.7" y="328.7">40</text>
</g>
<g font-size="6.2" fill="#4D4D4D" text-anchor="end">
<text x="1463.3" y="50.2">AFR</text>
<text x="1463.3" y="109.5">AMR</text>
<text x="1463.3" y="168.8">EAS</text>
<text x="1463.3" y="228.1">EUR</text>
<text x="1463.3" y="287.4">SAS</text>
</g>
<text x="1622.7" y="7" font-size="9" text-anchor="middle" fill="#000">ATXN3</text>
<rect x="1564.4" y="42" width="75.5" height="12" fill="#BEBEBE" stroke="#2E2E2E" stroke-width="1.1"/>
<path d="M1589.3 42v12" stroke="#2E2E2E" stroke-width="1.9"/>
<path d="M1497.6 48L1497.6 43.9C1498.4 44 1500.3 43.9 1502.5 44.2C1504.8 44.4 1508.2 45.1 1511 45.4C1513.9 45.8 1516.4 46.2 1519.6 46.3C1522.8 46.4 1526.7 46.1 1530.2 45.9C1533.8 45.6 1537.7 45.2 1540.9 44.6C1544.1 44 1546.6 43.1 1549.4 42.2C1552.3 41.4 1555.1 40.1 1558 39.5C1560.8 38.8 1563.7 38.2 1566.5 38.2C1569.3 38.2 1572.2 38.9 1575 39.5C1577.9 40.1 1580.7 41.2 1583.6 41.8C1586.4 42.4 1589.3 42.8 1592.1 43.1C1594.9 43.3 1597.1 43.4 1600.6 43.3C1604.2 43.2 1609.2 42.8 1613.4 42.7C1617.7 42.5 1622 42.4 1626.2 42.2C1630.5 42.1 1634.8 41.9 1639 41.8C1643.3 41.7 1648.3 41.6 1651.8 41.6C1655.4 41.6 1657.5 41.7 1660.4 42C1663.2 42.3 1666 43 1668.9 43.5C1671.7 44 1674.6 44.7 1677.4 45.2C1680.3 45.7 1682.7 46.1 1685.9 46.5C1689.1 46.9 1692.3 47.1 1696.6 47.3C1700.9 47.6 1709.1 47.9 1711.5 48L1711.5 48Z" fill="#FFD92F" stroke="#2E2E2E" stroke-width="1.15" stroke-linejoin="round"/>
<path d="M1497.6 48H1765.1" stroke="#2E2E2E" stroke-width="1"/>
<path d="M1765.1 48h0" stroke="#2E2E2E" stroke-width="3.7" stroke-linecap="round" fill="none"/>
<rect x="1737.7" y="45.9" width="4.4" height="4.2" rx=".6" fill="#EA0000"/>
<rect x="1556.1" y="101.3" width="33.3" height="12" fill="#BEBEBE" stroke="#2E2E2E" stroke-width="1.1"/>
<path d="M1572.7 101.3v12" stroke="#2E2E2E" stroke-width="1.9"/>
<path d="M1497.6 107.3L1497.6 93.8C1498.1 93.9 1499.2 93.6 1500.4 94.3C1501.6 95 1503.2 96.6 1504.7 98.1C1506.1 99.6 1507.5 102.1 1508.9 103.4C1510.3 104.8 1511 105.6 1513.2 106.2C1515.3 106.8 1517.8 106.8 1521.7 106.9C1525.6 106.9 1532.7 106.9 1536.6 106.6C1540.6 106.4 1542.3 105.9 1545.2 105.2C1548 104.4 1551.2 103.6 1553.7 102.4C1556.2 101.2 1558.3 100.1 1560.1 98.1C1561.9 96.2 1562.9 93.1 1564.4 90.6C1565.8 88.2 1567.3 84.9 1568.6 83.2C1570 81.5 1571.1 80.4 1572.5 80.4C1573.9 80.4 1575.7 81.3 1577.2 83.2C1578.7 85.1 1580 88.9 1581.4 91.7C1582.9 94.6 1584.3 98.1 1585.7 100.2C1587.1 102.4 1588.5 103.9 1590 104.5C1591.4 105.2 1592.5 104.8 1594.2 104.1C1596 103.4 1598.5 101.3 1600.6 100.2C1602.8 99.2 1604.9 97.9 1607 97.7C1609.2 97.5 1611.3 98.3 1613.4 99.2C1615.6 100 1617.7 101.7 1619.8 102.8C1622 103.9 1623.7 104.9 1626.2 105.6C1628.7 106.3 1631.2 106.6 1634.8 106.9C1638.3 107.1 1645.4 107.2 1647.6 107.3L1647.6 107.3Z" fill="#A6D854" stroke="#2E2E2E" stroke-width="1.15" stroke-linejoin="round"/>
<path d="M1497.6 107.3H1765.1" stroke="#2E2E2E" stroke-width="1"/>
<path d="M1496.8 107.3h0M1648 107.3h0M1656.3 107.3h0M1664.6 107.3h0M1681.3 107.3h0M1689.6 107.3h0M1723.1 107.3h0M1765.1 107.3h0" stroke="#2E2E2E" stroke-width="3.7" stroke-linecap="round" fill="none"/>
<circle cx="1744.6" cy="107.3" r="2.2" fill="#EA0000"/>
<rect x="1497.6" y="160.6" width="108.6" height="12" fill="#BEBEBE" stroke="#2E2E2E" stroke-width="1.1"/>
<path d="M1539.4 160.6v12" stroke="#2E2E2E" stroke-width="1.9"/>
<path d="M1497.6 166.6L1497.6 152.7C1498.4 152.9 1500.6 152.8 1502.5 153.6C1504.4 154.3 1506.8 156.2 1508.9 157.4C1511 158.7 1512.8 160.1 1515.3 161C1517.8 162 1520.3 162.9 1523.8 163.2C1527.4 163.4 1532.4 162.6 1536.6 162.7C1540.9 162.8 1545.2 163.5 1549.4 163.8C1553.7 164.1 1558 164.4 1562.2 164.4C1566.5 164.5 1570.8 164.5 1575 164.2C1579.3 163.9 1584.3 163.4 1587.8 162.7C1591.4 162 1593.5 160.8 1596.4 160C1599.2 159.1 1602.4 158.3 1604.9 157.8C1607.4 157.4 1609.2 157.2 1611.3 157.2C1613.4 157.2 1615.2 157.5 1617.7 158C1620.2 158.6 1623.4 159.5 1626.2 160.4C1629.1 161.2 1631.9 162.4 1634.8 163.2C1637.6 163.9 1639.7 164.4 1643.3 164.9C1646.8 165.3 1649 165.5 1656.1 165.7C1663.2 166 1681 166.3 1685.9 166.4L1685.9 166.6Z" fill="#E78AC3" stroke="#2E2E2E" stroke-width="1.15" stroke-linejoin="round"/>
<path d="M1497.6 166.6H1756.8" stroke="#2E2E2E" stroke-width="1"/>
<circle cx="1731.4" cy="166.6" r="2.2" fill="#EA0000"/>
<rect x="1547.7" y="219.9" width="33.3" height="12" fill="#BEBEBE" stroke="#2E2E2E" stroke-width="1.1"/>
<path d="M1572.7 219.9v12" stroke="#2E2E2E" stroke-width="1.9"/>
<path d="M1497.6 225.9L1497.6 211.2C1498.1 211.2 1499.2 210.7 1500.4 211.6C1501.6 212.5 1503.2 214.6 1504.7 216.5C1506.1 218.4 1507.5 221.4 1508.9 222.9C1510.3 224.3 1510.7 224.8 1513.2 225.2C1515.7 225.7 1520.3 225.6 1523.8 225.4C1527.4 225.3 1531.7 225.2 1534.5 224.6C1537.4 224 1538.8 222.8 1540.9 221.8C1543 220.8 1545.2 219.4 1547.3 218.6C1549.4 217.9 1551.6 217.6 1553.7 217.3C1555.8 217.1 1558.3 218 1560.1 217.1C1561.9 216.3 1562.9 214.5 1564.4 212.2C1565.8 210 1567.3 205.7 1568.6 203.7C1570 201.7 1571.1 200.5 1572.5 200.3C1573.9 200.1 1575.7 200.8 1577.2 202.6C1578.7 204.4 1580 208.3 1581.4 211.2C1582.9 214 1584.3 217.6 1585.7 219.7C1587.1 221.7 1588.5 222.9 1590 223.5C1591.4 224.1 1592.5 224.1 1594.2 223.3C1596 222.5 1598.5 219.9 1600.6 218.6C1602.8 217.3 1604.9 215.7 1607 215.4C1609.2 215.2 1611.3 216.1 1613.4 217.1C1615.6 218.2 1617.7 220.6 1619.8 221.8C1622 223 1623.7 223.8 1626.2 224.4C1628.7 224.9 1631.9 225 1634.8 225.2C1637.6 225.5 1641.9 225.8 1643.3 225.9L1643.3 225.9Z" fill="#8DA0CB" stroke="#2E2E2E" stroke-width="1.15" stroke-linejoin="round"/>
<path d="M1497.6 225.9H1689.6" stroke="#2E2E2E" stroke-width="1"/>
<path d="M1639.4 225.9h0M1648 225.9h0M1656.3 225.9h0M1689.6 225.9h0" stroke="#2E2E2E" stroke-width="3.7" stroke-linecap="round" fill="none"/>
<rect x="1680.1" y="223.8" width="4.4" height="4.2" rx=".6" fill="#EA0000"/>
<rect x="1547.7" y="279.2" width="58.4" height="12" fill="#BEBEBE" stroke="#2E2E2E" stroke-width="1.1"/>
<path d="M1572.7 279.2v12" stroke="#2E2E2E" stroke-width="1.9"/>
<path d="M1480.8 285.2L1480.8 283.7C1481.9 283.1 1485.4 281.3 1487.6 280.5C1489.8 279.6 1492.2 278.9 1494 278.6C1495.8 278.2 1496.5 277.9 1498.3 278.1C1500 278.3 1502.5 278.9 1504.7 279.6C1506.8 280.4 1508.9 281.9 1511 282.6C1513.2 283.4 1515 284 1517.4 284.1C1519.9 284.2 1522.8 284.1 1526 283.5C1529.2 282.9 1533.1 281.3 1536.6 280.5C1540.2 279.7 1543.8 279.4 1547.3 278.8C1550.9 278.1 1554.8 277.6 1558 276.6C1561.2 275.7 1564.1 273.8 1566.5 273C1568.9 272.3 1570.3 272 1572.5 272.2C1574.6 272.3 1576.7 272.8 1579.3 273.6C1581.9 274.5 1585 276.6 1587.8 277.1C1590.7 277.6 1593.5 276.9 1596.4 276.6C1599.2 276.3 1602.4 275.4 1604.9 275.4C1607.4 275.3 1609.2 275.7 1611.3 276.4C1613.4 277.1 1615.2 278.4 1617.7 279.4C1620.2 280.4 1623.4 281.5 1626.2 282.2C1629.1 282.9 1631.2 283.3 1634.8 283.7C1638.3 284.1 1639.7 284.3 1647.6 284.5C1655.4 284.8 1676 285.1 1681.7 285.2L1681.7 285.2Z" fill="#FC8D62" stroke="#2E2E2E" stroke-width="1.15" stroke-linejoin="round"/>
<path d="M1480.8 285.2H1731.4" stroke="#2E2E2E" stroke-width="1"/>
<path d="M1698.1 285.2h0M1706.4 285.2h0M1714.7 285.2h0M1731.4 285.2h0" stroke="#2E2E2E" stroke-width="3.7" stroke-linecap="round" fill="none"/>
<circle cx="1719.6" cy="285.2" r="2.2" fill="#EA0000"/>
</g>
<g>
<rect x="1806.5" y="12.2" width="313.5" height="308.9" fill="#EBEBEB"/>
<path d="M1844.7 12.2V321.1M1923.6 12.2V321.1M2002.7 12.2V321.1M2081.6 12.2V321.1" stroke="#fff" stroke-opacity=".9" stroke-width=".6" fill="none"/>
<path d="M1884.1 12.2V321.1M1963.3 12.2V321.1M2042.2 12.2V321.1M1806.5 48H2120M1806.5 107.3H2120M1806.5 166.6H2120M1806.5 225.9H2120M1806.5 285.2H2120" stroke="#fff" stroke-width="1.1" fill="none"/>
<path d="M1884.1 321.1v1.8M1963.3 321.1v1.8M2042.2 321.1v1.8M1806.5 48h-1.8M1806.5 107.3h-1.8M1806.5 166.6h-1.8M1806.5 225.9h-1.8M1806.5 285.2h-1.8" stroke="#2E2E2E" stroke-width="1.1" fill="none"/>
<g font-size="6.2" fill="#4D4D4D" text-anchor="middle">
<text x="1884.1" y="328.7">5</text>
<text x="1963.3" y="328.7">10</text>
<text x="2042.2" y="328.7">15</text>
</g>
<g font-size="6.2" fill="#4D4D4D" text-anchor="end">
<text x="1803.1" y="50.2">AFR</text>
<text x="1803.1" y="109.5">AMR</text>
<text x="1803.1" y="168.8">EAS</text>
<text x="1803.1" y="228.1">EUR</text>
<text x="1803.1" y="287.4">SAS</text>
</g>
<text x="1963.2" y="7" font-size="9" text-anchor="middle" fill="#000">ATXN7</text>
<rect x="1963.3" y="42" width="15.8" height="12" fill="#BEBEBE" stroke="#2E2E2E" stroke-width="1.1"/>
<path d="M1963.7 42v12" stroke="#2E2E2E" stroke-width="1.9"/>
<path d="M1906.5 48L1906.5 48L1908.5 48L1909.6 47.9L1910.6 47.8L1911.6 47.6L1912.6 47.4L1913.7 47.1L1914.7 46.8L1915.7 46.7L1916.7 46.8L1917.7 47.1L1918.8 47.4L1919.8 47.6L1920.8 47.8L1921.8 47.9L1922.9 48L1940.3 48L1941.3 47.9L1942.3 47.8L1943.3 47.7L1944.4 47.4L1945.4 47.2L1946.4 47L1947.4 46.9L1948.5 47L1949.5 47.3L1950.5 47.5L1951.5 47.7L1952.6 47.8L1953.6 47.9L1954.6 47.8L1955.6 47.4L1956.7 46.4L1957.7 44.5L1958.7 41.1L1959.7 36.2L1960.7 30.3L1961.8 24.9L1962.8 21.7L1963.8 21.9L1964.8 25.3L1965.9 30.8L1966.9 36.7L1967.9 41.5L1968.9 44.7L1970 46.5L1971 47.4L1972 47.6L1973 47.3L1974.1 46.5L1975.1 45.1L1976.1 43L1977.1 40.7L1978.2 39L1979.2 38.4L1980.2 39.3L1981.2 41.3L1982.2 43.6L1983.3 45.5L1984.3 46.8L1985.3 47.5L1986.3 47.8L1987.4 47.9L1988.4 47.8L1989.4 47.6L1990.4 47.3L1991.5 46.6L1992.5 45.9L1993.5 45.2L1994.5 44.8L1995.6 44.9L1996.6 45.5L1997.6 46.2L1998.6 46.9L1999.7 47.4L2000.7 47.8L2001.7 47.9L2002.7 48L2004.8 48L2004.8 48Z" fill="#FFD92F" stroke="#2E2E2E" stroke-width="1.15" stroke-linejoin="round"/>
<path d="M1821 48H2105.3" stroke="#2E2E2E" stroke-width="1"/>
<path d="M1821 48h0M1836.8 48h0M1852.6 48h0M1868.4 48h0M1884.2 48h0M1900 48h0M1915.8 48h0M1931.7 48h0M2010.7 48h0M2026.5 48h0M2042.3 48h0M2058.1 48h0M2073.9 48h0M2105.5 48h0" stroke="#2E2E2E" stroke-width="3.7" stroke-linecap="round" fill="none"/>
<circle cx="2089.5" cy="48" r="2.2" fill="#EA0000"/>
<path d="M1963.3 101.3v12" stroke="#2E2E2E" stroke-width="1.8"/>
<path d="M1946.4 107.3L1946.4 107.3L1948.2 107.2L1950.1 107L1952 106.3L1953.9 105L1955.8 102.7L1957.6 99.2L1959.5 95.2L1961.4 91.9L1963.3 90.6L1965.1 91.9L1967 95.2L1968.9 99.2L1970.8 102.7L1972.6 105L1974.5 106.3L1976.4 107L1978.3 107.2L1980.2 107.2L1982 107.2L1983.9 107.1L1985.8 106.8L1987.7 106.2L1989.5 105.5L1991.4 104.7L1993.3 104L1995.2 103.9L1997 104.2L1998.9 105L2000.8 105.8L2002.7 106.4L2004.6 106.9L2006.4 107.1L2008.3 107.2L2010.2 107.3L2012.1 107.3L2012.1 107.3Z" fill="#A6D854" stroke="#2E2E2E" stroke-width="1.15" stroke-linejoin="round"/>
<path d="M1821 107.3H2042.2" stroke="#2E2E2E" stroke-width="1"/>
<path d="M1821 107.3h0M1836.8 107.3h0M1884.2 107.3h0M1915.8 107.3h0M1931.7 107.3h0M1979.1 107.3h0M1994.9 107.3h0M2010.7 107.3h0M2026.5 107.3h0" stroke="#2E2E2E" stroke-width="3.7" stroke-linecap="round" fill="none"/>
<circle cx="2042.2" cy="107.3" r="2.2" fill="#EA0000"/>
<path d="M1963.3 160.6v12" stroke="#2E2E2E" stroke-width="1.8"/>
<path d="M1949.4 166.6L1949.4 166.5L1950.7 166.5L1952 166.3L1953.3 165.9L1954.6 164.9L1955.8 163.3L1957.1 160.6L1958.4 157L1959.7 152.8L1961 148.8L1962.2 146L1963.5 145.3L1964.8 146.9L1966.1 150.3L1967.4 154.5L1968.6 158.6L1969.9 161.8L1971.2 164.1L1972.5 165.4L1973.8 166.1L1975 166.4L1976.3 166.5L1977.6 166.6L1985.3 166.5L1986.6 166.5L1987.8 166.2L1989.1 165.8L1990.4 165.2L1991.7 164.3L1993 163.5L1994.2 163L1995.5 163L1996.8 163.6L1998.1 164.4L1999.4 165.2L2000.6 165.9L2001.9 166.3L2003.2 166.5L2004.5 166.5L2007 166.6L2007 166.6Z" fill="#E78AC3" stroke="#2E2E2E" stroke-width="1.15" stroke-linejoin="round"/>
<path d="M1852.6 166.6H2042.2" stroke="#2E2E2E" stroke-width="1"/>
<path d="M1852.6 166.6h0M1868.4 166.6h0M1884.2 166.6h0M1900 166.6h0M1915.8 166.6h0M1931.7 166.6h0M1947.5 166.6h0M1979.1 166.6h0M1994.9 166.6h0M2010.7 166.6h0M2026.5 166.6h0" stroke="#2E2E2E" stroke-width="3.7" stroke-linecap="round" fill="none"/>
<circle cx="2042.2" cy="166.6" r="2.2" fill="#EA0000"/>
<path d="M1963.3 219.9v12" stroke="#2E2E2E" stroke-width="1.8"/>
<path d="M1947.9 225.9L1947.9 225.8L1949.6 225.8L1951.3 225.5L1953 224.8L1954.7 223.4L1956.4 220.7L1958.1 216.8L1959.9 212.4L1961.6 208.7L1963.3 207.3L1965 208.7L1966.7 212.4L1968.4 216.8L1970.1 220.7L1971.8 223.4L1973.5 224.8L1975.2 225.5L1976.9 225.8L1978.6 225.8L1982 225.8L1983.7 225.8L1985.4 225.6L1987.2 225.4L1988.9 224.9L1990.6 224.3L1992.3 223.7L1994 223.4L1995.7 223.4L1997.4 223.7L1999.1 224.3L2000.8 224.8L2002.5 225.2L2004.2 225.3L2005.9 225.2L2007.6 225L2009.3 224.8L2011 224.8L2012.7 224.9L2014.5 225.2L2016.2 225.4L2017.9 225.6L2019.6 225.8L2021.3 225.8L2026.4 225.9L2026.4 225.9Z" fill="#8DA0CB" stroke="#2E2E2E" stroke-width="1.15" stroke-linejoin="round"/>
<path d="M1821 225.9H2105.3" stroke="#2E2E2E" stroke-width="1"/>
<path d="M1821 225.9h0M1836.8 225.9h0M1852.6 225.9h0M1868.4 225.9h0M1884.2 225.9h0M1900 225.9h0M1915.8 225.9h0M1931.7 225.9h0M1947.5 225.9h0M1979.1 225.9h0M1994.9 225.9h0M2010.7 225.9h0M2026.5 225.9h0M2042.3 225.9h0M2105.5 225.9h0" stroke="#2E2E2E" stroke-width="3.7" stroke-linecap="round" fill="none"/>
<rect x="2057.5" y="223.8" width="4.4" height="4.2" rx=".6" fill="#EA0000"/>
<path d="M1963.3 279.2v12" stroke="#2E2E2E" stroke-width="1.8"/>
<path d="M1948.7 285.2L1948.7 285.1L1949.7 285.1L1950.7 285L1951.7 284.8L1952.8 284.5L1953.8 283.9L1954.8 282.9L1955.8 281.5L1956.9 279.5L1957.9 276.9L1958.9 274L1959.9 271L1961 268.3L1962 266.3L1963 265.4L1964 265.7L1965.1 267.2L1966.1 269.6L1967.1 272.5L1968.1 275.5L1969.2 278.3L1970.2 280.5L1971.2 282.2L1972.2 283.4L1973.2 284.1L1974.3 284.5L1975.3 284.6L1976.3 284.5L1977.3 284.3L1978.4 284.1L1979.4 284.1L1980.4 284.2L1981.4 284.5L1982.5 284.7L1983.5 284.9L1984.5 285L1985.5 285.1L1986.6 285L1987.6 284.9L1988.6 284.7L1989.6 284.3L1990.6 283.8L1991.7 283.2L1992.7 282.6L1993.7 282.2L1994.7 282L1995.8 282.1L1996.8 282.5L1997.8 283.1L1998.8 283.7L1999.9 284.2L2000.9 284.6L2001.9 284.9L2002.9 285L2004 285.1L2005 285.1L2007 285.2L2007 285.2Z" fill="#FC8D62" stroke="#2E2E2E" stroke-width="1.15" stroke-linejoin="round"/>
<path d="M1821 285.2H2089.5" stroke="#2E2E2E" stroke-width="1"/>
<path d="M1821 285.2h0M1836.8 285.2h0M1852.6 285.2h0M1884.2 285.2h0M1900 285.2h0M1915.8 285.2h0M1947.5 285.2h0M1979.1 285.2h0M1994.9 285.2h0M2010.7 285.2h0M2026.5 285.2h0M2042.3 285.2h0M2089.7 285.2h0" stroke="#2E2E2E" stroke-width="3.7" stroke-linecap="round" fill="none"/>
<circle cx="2050.7" cy="285.2" r="2.2" fill="#EA0000"/>
</g>
<g>
<rect x="74.1" y="414.4" width="312.9" height="309.1" fill="#EBEBEB"/>
<path d="M130.4 414.4V723.5M236 414.4V723.5M341.4 414.4V723.5" stroke="#fff" stroke-opacity=".9" stroke-width=".6" fill="none"/>
<path d="M77.8 414.4V723.5M183.3 414.4V723.5M288.7 414.4V723.5M74.1 450.2H387M74.1 509.5H387M74.1 568.8H387M74.1 628.1H387M74.1 687.4H387" stroke="#fff" stroke-width="1.1" fill="none"/>
<path d="M77.8 723.5v1.8M183.3 723.5v1.8M288.7 723.5v1.8M74.1 450.2h-1.8M74.1 509.5h-1.8M74.1 568.8h-1.8M74.1 628.1h-1.8M74.1 687.4h-1.8" stroke="#2E2E2E" stroke-width="1.1" fill="none"/>
<g font-size="6.2" fill="#4D4D4D" text-anchor="middle">
<text x="77.8" y="731.1">0</text>
<text x="183.3" y="731.1">10</text>
<text x="288.7" y="731.1">20</text>
</g>
<g font-size="6.2" fill="#4D4D4D" text-anchor="end">
<text x="70.7" y="452.4">AFR</text>
<text x="70.7" y="511.7">AMR</text>
<text x="70.7" y="571">EAS</text>
<text x="70.7" y="630.3">EUR</text>
<text x="70.7" y="689.6">SAS</text>
</g>
<text x="230.6" y="409" font-size="9" text-anchor="middle" fill="#000">C9ORF72</text>
<rect x="98.9" y="444.2" width="42.2" height="12" fill="#BEBEBE" stroke="#2E2E2E" stroke-width="1.1"/>
<path d="M120 444.2v12" stroke="#2E2E2E" stroke-width="1.9"/>
<path d="M88.2 450.2L88.2 445.5C88.7 444.4 90 440.8 91.2 438.7C92.4 436.6 94 434.3 95.5 433C96.9 431.6 98.5 430.7 99.7 430.6C101 430.5 101.7 431.2 102.9 432.3C104.2 433.5 105.6 435.8 107.2 437.7C108.8 439.5 110.2 442.3 112.5 443.4C114.8 444.5 117.9 443.8 121 444.1C124.2 444.3 128.9 444.8 131.7 444.7C134.6 444.6 136 443.6 138.1 443.2C140.2 442.8 142.4 442.3 144.5 442.3C146.6 442.4 148.4 443.1 150.9 443.6C153.4 444.1 155.9 444.7 159.4 445.3C163 445.9 168 446.8 172.2 447.3C176.5 447.8 181.5 447.9 185 448.3C188.6 448.7 190 449.3 193.6 449.6C197.1 449.9 204.2 450.1 206.4 450.2L206.4 450.2Z" fill="#FFD92F" stroke="#2E2E2E" stroke-width="1.15" stroke-linejoin="round"/>
<path d="M88.2 450.2H330.5" stroke="#2E2E2E" stroke-width="1"/>
<path d="M214.9 450.2h0M225.4 450.2h0M236 450.2h0M299.2 450.2h0M330.9 450.2h0" stroke="#2E2E2E" stroke-width="3.7" stroke-linecap="round" fill="none"/>
<circle cx="285.7" cy="450.2" r="2.2" fill="#EA0000"/>
<rect x="98.9" y="503.5" width="52.5" height="12" fill="#BEBEBE" stroke="#2E2E2E" stroke-width="1.1"/>
<path d="M99.3 503.5v12" stroke="#2E2E2E" stroke-width="1.9"/>
<path d="M98.9 509.5L98.9 490.3C99.4 490.4 100.6 490 101.9 491C103.1 492 104.7 494.5 106.1 496.3C107.5 498.1 109 500.2 110.4 501.6C111.8 503.1 112.9 504.5 114.7 505.3C116.4 506.1 118.2 506.4 121 506.3C123.9 506.3 128.2 505.3 131.7 504.8C135.3 504.4 139.2 504.2 142.4 503.8C145.6 503.4 148.6 502.7 150.9 502.5C153.2 502.3 154.1 502.3 156.2 502.7C158.4 503.1 161 504 163.7 504.8C166.4 505.7 168.7 507 172.2 507.6C175.8 508.3 179.3 508.4 185 508.7C190.7 509 199.3 509.2 206.4 509.3C213.5 509.5 224.1 509.5 227.7 509.5L227.7 509.5Z" fill="#A6D854" stroke="#2E2E2E" stroke-width="1.15" stroke-linejoin="round"/>
<path d="M98.9 509.5H362.3" stroke="#2E2E2E" stroke-width="1"/>
<path d="M235.8 509.5h0M309.6 509.5h0M362.3 509.5h0" stroke="#2E2E2E" stroke-width="3.7" stroke-linecap="round" fill="none"/>
<circle cx="334.6" cy="509.5" r="2.2" fill="#EA0000"/>
<rect x="98.9" y="562.8" width="52.5" height="12" fill="#BEBEBE" stroke="#2E2E2E" stroke-width="1.1"/>
<path d="M99.3 562.8v12" stroke="#2E2E2E" stroke-width="1.9"/>
<path d="M98.9 568.8L98.9 542.2C99.4 542.3 100.8 542 101.9 543.2C102.9 544.5 104 547.1 105.1 549.6C106.1 552.1 107 555.5 108.3 558.2C109.5 560.8 110.7 564 112.5 565.6C114.3 567.3 116.8 567.8 118.9 568.2C121 568.6 123.2 568.6 125.3 568.2C127.4 567.8 129.2 566.7 131.7 565.6C134.2 564.6 137.4 562.8 140.2 561.8C143.1 560.8 146.1 560 148.8 559.9C151.4 559.7 153.8 560.3 156.2 560.9C158.7 561.6 161 563 163.7 563.9C166.4 564.9 168.7 566.1 172.2 566.7C175.8 567.3 180.1 567.5 185 567.8C190 568 196.1 568.2 202.1 568.4C208.1 568.6 218.1 568.8 221.3 568.8L221.3 568.8Z" fill="#E78AC3" stroke="#2E2E2E" stroke-width="1.15" stroke-linejoin="round"/>
<path d="M98.9 568.8H278" stroke="#2E2E2E" stroke-width="1"/>
<path d="M278 568.8h0" stroke="#2E2E2E" stroke-width="3.7" stroke-linecap="round" fill="none"/>
<rect x="222.7" y="566.7" width="4.4" height="4.2" rx=".6" fill="#EA0000"/>
<rect x="98.9" y="622.1" width="42.2" height="12" fill="#BEBEBE" stroke="#2E2E2E" stroke-width="1.1"/>
<path d="M99.3 622.1v12" stroke="#2E2E2E" stroke-width="1.9"/>
<path d="M98.9 628.1L98.9 604.2C99.4 604.4 100.8 604.1 101.9 605.1C102.9 606.1 104 608.3 105.1 610.4C106.1 612.6 107 615.6 108.3 617.9C109.5 620.1 110.9 622.6 112.5 623.9C114.1 625.1 115.7 625.5 117.9 625.4C120 625.2 123 623.7 125.3 623.2C127.6 622.7 129.6 622.3 131.7 622.4C133.8 622.4 136 623.1 138.1 623.6C140.2 624.1 142.4 625.1 144.5 625.4C146.6 625.6 148.8 625.7 150.9 625.4C153 625 155.4 623.7 157.3 623.2C159.3 622.7 160.9 622.3 162.6 622.4C164.4 622.4 166 623.1 168 623.6C169.9 624.2 170.8 625.2 174.4 625.8C177.9 626.3 183.3 626.5 189.3 626.8C195.3 627.2 203.5 627.5 210.6 627.7C217.7 627.9 228.4 628.1 232 628.1L232 628.1Z" fill="#8DA0CB" stroke="#2E2E2E" stroke-width="1.15" stroke-linejoin="round"/>
<path d="M98.9 628.1H372.7" stroke="#2E2E2E" stroke-width="1"/>
<path d="M214.9 628.1h0M225.4 628.1h0M236 628.1h0M246.5 628.1h0M257.1 628.1h0M267.6 628.1h0M288.7 628.1h0M299.2 628.1h0M373.1 628.1h0" stroke="#2E2E2E" stroke-width="3.7" stroke-linecap="round" fill="none"/>
<circle cx="304.9" cy="628.1" r="2.2" fill="#EA0000"/>
<rect x="98.9" y="681.4" width="42.2" height="12" fill="#BEBEBE" stroke="#2E2E2E" stroke-width="1.1"/>
<path d="M99.3 681.4v12" stroke="#2E2E2E" stroke-width="1.9"/>
<path d="M98.9 687.4L98.9 667.2C99.4 667.3 100.6 667 101.9 668C103.1 669 104.7 671.6 106.1 673.3C107.5 675.1 109 677.3 110.4 678.7C111.8 680 112.2 681 114.7 681.4C117.1 681.9 121.4 681.4 125.3 681.4C129.2 681.5 134.6 681.6 138.1 681.9C141.7 682.2 143.8 683 146.6 683.4C149.5 683.7 152.3 683.8 155.2 683.8C158 683.8 160.9 683.2 163.7 683.4C166.6 683.5 168.7 684.1 172.2 684.6C175.8 685.1 180.1 685.9 185 686.4C190 686.8 196.1 687 202.1 687.2C208.1 687.4 218.1 687.4 221.3 687.4L221.3 687.4Z" fill="#FC8D62" stroke="#2E2E2E" stroke-width="1.15" stroke-linejoin="round"/>
<path d="M98.9 687.4H372.7" stroke="#2E2E2E" stroke-width="1"/>
<path d="M214.9 687.4h0M225.4 687.4h0M236 687.4h0M246.5 687.4h0M257.1 687.4h0M267.6 687.4h0M288.7 687.4h0M373.1 687.4h0" stroke="#2E2E2E" stroke-width="3.7" stroke-linecap="round" fill="none"/>
<circle cx="312.8" cy="687.4" r="2.2" fill="#EA0000"/>
</g>
<g>
<rect x="420.5" y="414.4" width="313.3" height="309.1" fill="#EBEBEB"/>
<path d="M501.1 414.4V723.5M596 414.4V723.5M690.9 414.4V723.5" stroke="#fff" stroke-opacity=".9" stroke-width=".6" fill="none"/>
<path d="M453.6 414.4V723.5M548.5 414.4V723.5M643.4 414.4V723.5M420.5 450.2H733.8M420.5 509.5H733.8M420.5 568.8H733.8M420.5 628.1H733.8M420.5 687.4H733.8" stroke="#fff" stroke-width="1.1" fill="none"/>
<path d="M453.6 723.5v1.8M548.5 723.5v1.8M643.4 723.5v1.8M420.5 450.2h-1.8M420.5 509.5h-1.8M420.5 568.8h-1.8M420.5 628.1h-1.8M420.5 687.4h-1.8" stroke="#2E2E2E" stroke-width="1.1" fill="none"/>
<g font-size="6.2" fill="#4D4D4D" text-anchor="middle">
<text x="453.6" y="731.1">5</text>
<text x="548.5" y="731.1">10</text>
<text x="643.4" y="731.1">15</text>
</g>
<g font-size="6.2" fill="#4D4D4D" text-anchor="end">
<text x="417.1" y="452.4">AFR</text>
<text x="417.1" y="511.7">AMR</text>
<text x="417.1" y="571">EAS</text>
<text x="417.1" y="630.3">EUR</text>
<text x="417.1" y="689.6">SAS</text>
</g>
<text x="577.2" y="409" font-size="9" text-anchor="middle" fill="#000">CACNA1A</text>
<rect x="567.5" y="444.2" width="19" height="12" fill="#BEBEBE" stroke="#2E2E2E" stroke-width="1.1"/>
<path d="M567.9 444.2v12" stroke="#2E2E2E" stroke-width="1.9"/>
<path d="M480.2 450.2L480.2 450.2L482.6 450.2L483.8 450.2L485 450.1L486.2 449.9L487.4 449.6L488.6 449.2L489.8 448.8L491 448.6L492.2 448.6L493.4 448.7L494.6 449.1L495.7 449.5L496.9 449.8L498.1 450L499.3 450.1L500.5 450.2L555.5 450.2L556.7 450.2L557.9 449.9L559.1 449.4L560.2 448.1L561.4 445.7L562.6 441.7L563.8 436.2L565 430.3L566.2 425.5L567.4 423.6L568.6 425.3L569.8 429.9L571 435.8L572.2 441.3L573.4 445.5L574.6 448L575.8 449.3L577 449.8L578.2 449.8L579.4 449.3L580.6 448.3L581.7 446.6L582.9 444.4L584.1 442L585.3 440.2L586.5 439.6L587.7 440.4L588.9 442.3L590.1 444.7L591.3 446.9L592.5 448.5L593.7 449.4L594.9 449.9L596.1 450.1L597.3 450.1L598.5 450L599.7 449.8L600.9 449.3L602.1 448.7L603.2 448L604.4 447.4L605.6 447.3L606.8 447.6L608 448.2L609.2 448.9L610.4 449.5L611.6 449.9L612.8 450.1L614 450.2L616.4 450.2L616.4 450.2Z" fill="#FFD92F" stroke="#2E2E2E" stroke-width="1.15" stroke-linejoin="round"/>
<path d="M434.8 450.2H700.3" stroke="#2E2E2E" stroke-width="1"/>
<path d="M434.8 450.2h0M472.8 450.2h0M491.7 450.2h0M510.7 450.2h0M529.7 450.2h0M624.4 450.2h0M700.3 450.2h0" stroke="#2E2E2E" stroke-width="3.7" stroke-linecap="round" fill="none"/>
<rect x="641.2" y="448.1" width="4.4" height="4.2" rx=".6" fill="#EA0000"/>
<rect x="567.5" y="503.5" width="38" height="12" fill="#BEBEBE" stroke="#2E2E2E" stroke-width="1.1"/>
<path d="M567.9 503.5v12" stroke="#2E2E2E" stroke-width="1.9"/>
<path d="M475.3 509.5L475.3 509.3C476.7 509.2 481.1 508.9 483.8 508.7C486.6 508.5 488.9 508.2 491.7 508.3C494.6 508.3 496.5 508.7 500.9 508.9C505.3 509.1 511.6 509.3 518 509.3C524.4 509.4 534 509.3 539.3 509.1C544.6 508.9 547.1 508.8 550 508C552.8 507.3 554.2 505.8 556.4 504.8C558.5 503.8 560.9 502.7 562.8 502.1C564.6 501.4 565.7 501 567.5 501C569.2 501 571.4 501.4 573.4 502.1C575.5 502.7 577.3 504.1 579.8 504.8C582.3 505.6 585.5 506.3 588.4 506.3C591.2 506.4 594.4 505.7 596.9 505.3C599.4 504.8 601.5 504.1 603.3 503.8C605.1 503.5 606 503.4 607.6 503.6C609.2 503.7 611.1 504.2 612.9 504.8C614.7 505.5 616.3 506.9 618.2 507.6C620.2 508.3 621.8 508.8 624.6 509.1C627.5 509.4 633.5 509.5 635.3 509.5L635.3 509.5Z" fill="#A6D854" stroke="#2E2E2E" stroke-width="1.15" stroke-linejoin="round"/>
<path d="M434.8 509.5H643.4" stroke="#2E2E2E" stroke-width="1"/>
<path d="M434.8 509.5h0M491.7 509.5h0" stroke="#2E2E2E" stroke-width="3.7" stroke-linecap="round" fill="none"/>
<circle cx="634.4" cy="509.5" r="2.2" fill="#EA0000"/>
<rect x="567.5" y="562.8" width="38" height="12" fill="#BEBEBE" stroke="#2E2E2E" stroke-width="1.1"/>
<path d="M605 562.8v12" stroke="#2E2E2E" stroke-width="1.9"/>
<path d="M475.3 568.8L475.3 568.6C476.7 568.4 481.1 567.9 483.8 567.5C486.6 567.2 488.9 566.6 491.7 566.7C494.6 566.8 497.2 567.7 500.9 568C504.6 568.3 507.3 568.5 513.7 568.6C520.1 568.7 532.9 568.7 539.3 568.6C545.7 568.5 548.9 568.5 552.1 568C555.3 567.5 556.4 566.3 558.5 565.6C560.6 565 562.8 564.2 564.9 564.1C567 564 568.8 564.6 571.3 565C573.8 565.3 577 566.1 579.8 566.3C582.7 566.5 585.9 566.5 588.4 566.3C590.8 566.1 592.8 565.8 594.8 565C596.7 564.2 598.3 562.3 600.1 561.4C601.9 560.4 603.6 559.3 605.4 559.2C607.2 559.2 609 560 610.8 560.9C612.5 561.8 613.8 563.8 616.1 564.6C618.4 565.3 622.1 565.2 624.6 565.6C627.1 566 628.9 566.4 631 566.9C633.1 567.4 634.9 568.1 637.4 568.4C639.9 568.7 644.5 568.8 645.9 568.8L645.9 568.8Z" fill="#E78AC3" stroke="#2E2E2E" stroke-width="1.15" stroke-linejoin="round"/>
<path d="M434.8 568.8H719.3" stroke="#2E2E2E" stroke-width="1"/>
<path d="M434.8 568.8h0M491.7 568.8h0M681.4 568.8h0M719.3 568.8h0" stroke="#2E2E2E" stroke-width="3.7" stroke-linecap="round" fill="none"/>
<rect x="697.7" y="566.7" width="4.4" height="4.2" rx=".6" fill="#EA0000"/>
<rect x="567.5" y="622.1" width="38" height="12" fill="#BEBEBE" stroke="#2E2E2E" stroke-width="1.1"/>
<path d="M586.4 622.1v12" stroke="#2E2E2E" stroke-width="1.9"/>
<path d="M475.3 628.1L475.3 627.9C476.7 627.7 481.1 627 483.8 626.6C486.6 626.3 488.9 625.7 491.7 625.8C494.6 625.8 497.6 626.5 500.9 626.8C504.2 627.2 505.2 627.7 511.6 627.9C518 628.1 532.5 628.1 539.3 627.9C546.1 627.8 548.9 627.8 552.1 627.1C555.3 626.3 556.5 624.6 558.5 623.6C560.5 622.7 562.3 621.9 563.8 621.5C565.3 621.1 565.9 621 567.5 621.1C569.1 621.2 571.4 621.7 573.4 622.2C575.5 622.6 577.3 623.8 579.8 624.1C582.3 624.3 585.9 623.6 588.4 623.6C590.8 623.7 592.6 624.7 594.8 624.5C596.9 624.2 599.4 622.7 601.2 622.2C602.9 621.6 604 621.1 605.4 621.1C606.8 621 607.9 621.2 609.7 621.9C611.5 622.6 614 624.5 616.1 625.4C618.2 626.2 619.6 626.8 622.5 627.3C625.3 627.7 629.7 627.8 633.1 627.9C636.6 628.1 641.7 628.1 643.4 628.1L643.4 628.1Z" fill="#8DA0CB" stroke="#2E2E2E" stroke-width="1.15" stroke-linejoin="round"/>
<path d="M434.8 628.1H643.4" stroke="#2E2E2E" stroke-width="1"/>
<path d="M434.8 628.1h0M491.7 628.1h0" stroke="#2E2E2E" stroke-width="3.7" stroke-linecap="round" fill="none"/>
<circle cx="625.9" cy="628.1" r="2.2" fill="#EA0000"/>
<rect x="567.5" y="681.4" width="38" height="12" fill="#BEBEBE" stroke="#2E2E2E" stroke-width="1.1"/>
<path d="M567.9 681.4v12" stroke="#2E2E2E" stroke-width="1.9"/>
<path d="M471 687.4L471 687.2C472.5 687 477.1 686.4 479.6 685.9C482.1 685.5 484 684.9 486 684.6C488 684.4 489.6 684.1 491.7 684.2C493.9 684.3 496.2 684.9 498.8 685.3C501.4 685.7 503.4 686.4 507.3 686.8C511.2 687.1 516.2 687.3 522.2 687.4C528.3 687.4 538.6 687.4 543.6 687.2C548.5 687 549.6 686.8 552.1 685.9C554.6 685 556.5 683 558.5 681.9C560.5 680.8 562.3 679.8 563.8 679.3C565.3 678.8 565.9 678.5 567.5 678.7C569.1 678.9 571.4 679.5 573.4 680.4C575.5 681.3 577.3 683.2 579.8 684C582.3 684.8 585.5 685.2 588.4 685.1C591.2 685 594.4 683.9 596.9 683.4C599.4 682.9 601.5 682.3 603.3 682.1C605.1 681.9 605.8 681.8 607.6 682.1C609.3 682.4 611.8 683.3 614 684C616.1 684.7 617.9 685.8 620.4 686.4C622.8 686.9 625.3 687 628.9 687.2C632.4 687.4 639.5 687.4 641.7 687.4L641.7 687.4Z" fill="#FC8D62" stroke="#2E2E2E" stroke-width="1.15" stroke-linejoin="round"/>
<path d="M434.8 687.4H681.4" stroke="#2E2E2E" stroke-width="1"/>
<path d="M434.8 687.4h0M491.7 687.4h0M681.4 687.4h0" stroke="#2E2E2E" stroke-width="3.7" stroke-linecap="round" fill="none"/>
<circle cx="656" cy="687.4" r="2.2" fill="#EA0000"/>
</g>
<g>
<rect x="769.4" y="414" width="312.9" height="309.1" fill="#EBEBEB"/>
<path d="M808.9 414V723.1M884.4 414V723.1M959.7 414V723.1M1035.2 414V723.1" stroke="#fff" stroke-opacity=".9" stroke-width=".6" fill="none"/>
<path d="M771.4 414V723.1M846.6 414V723.1M922.1 414V723.1M997.4 414V723.1M1072.9 414V723.1M769.4 449.8H1082.3M769.4 509.1H1082.3M769.4 568.4H1082.3M769.4 627.7H1082.3M769.4 687H1082.3" stroke="#fff" stroke-width="1.1" fill="none"/>
<path d="M771.4 723.1v1.8M846.6 723.1v1.8M922.1 723.1v1.8M997.4 723.1v1.8M1072.9 723.1v1.8M769.4 449.8h-1.8M769.4 509.1h-1.8M769.4 568.4h-1.8M769.4 627.7h-1.8M769.4 687h-1.8" stroke="#2E2E2E" stroke-width="1.1" fill="none"/>
<g font-size="6.2" fill="#4D4D4D" text-anchor="middle">
<text x="771.4" y="730.7">0</text>
<text x="846.6" y="730.7">30</text>
<text x="922.1" y="730.7">60</text>
<text x="997.4" y="730.7">90</text>
<text x="1072.9" y="730.7">120</text>
</g>
<g font-size="6.2" fill="#4D4D4D" text-anchor="end">
<text x="766" y="452">AFR</text>
<text x="766" y="511.3">AMR</text>
<text x="766" y="570.6">EAS</text>
<text x="766" y="629.9">EUR</text>
<text x="766" y="689.2">SAS</text>
</g>
<text x="925.9" y="408" font-size="9" text-anchor="middle" fill="#000">DMPK</text>
<rect x="783.5" y="443.8" width="17.9" height="12" fill="#BEBEBE" stroke="#2E2E2E" stroke-width="1.1"/>
<path d="M798.7 443.8v12" stroke="#2E2E2E" stroke-width="1.9"/>
<path d="M783.5 449.8L783.5 429.1C783.7 429.7 784.2 430.4 784.8 432.3C785.4 434.3 786 438.5 786.9 440.9C787.8 443.2 789.1 445.5 790.1 446.2C791.2 446.9 792.3 446.5 793.3 445.1C794.4 443.7 795.5 440 796.5 437.7C797.5 435.3 798.5 432.6 799.3 431.3C800.1 429.9 800.6 429.5 801.4 429.6C802.2 429.6 803 430 804 431.7C804.9 433.4 806.1 437.3 807.2 439.8C808.3 442.3 809.1 445.3 810.4 446.8C811.6 448.4 812.2 448.7 814.7 449.2C817.1 449.7 823.5 449.7 825.3 449.8L825.3 449.8Z" fill="#FFD92F" stroke="#2E2E2E" stroke-width="1.15" stroke-linejoin="round"/>
<path d="M783.5 449.8H861.6" stroke="#2E2E2E" stroke-width="1"/>
<path d="M843.9 449.8h0M861.6 449.8h0" stroke="#2E2E2E" stroke-width="3.7" stroke-linecap="round" fill="none"/>
<rect x="838.5" y="447.7" width="4.4" height="4.2" rx=".6" fill="#EA0000"/>
<rect x="796.1" y="503.1" width="7.5" height="12" fill="#BEBEBE" stroke="#2E2E2E" stroke-width="1.1"/>
<path d="M801.4 503.1v12" stroke="#2E2E2E" stroke-width="1.9"/>
<path d="M783.5 509.1L783.5 489.9C783.7 490.6 784.4 491.5 784.8 494.2C785.2 496.8 785.5 503.5 786.1 505.9C786.6 508.3 787 508.3 788 508.7C789 509 791.2 509 792.3 508C793.3 507 793.7 505.2 794.4 502.7C795.1 500.2 795.8 495.7 796.5 493.1C797.2 490.5 797.9 488.3 798.7 487.1C799.4 486 800.1 487.1 800.8 486.3C801.5 485.5 802.3 482.6 802.9 482.4C803.6 482.3 804 482.8 804.6 485.6C805.2 488.5 805.9 496 806.5 499.5C807.2 503.1 807.7 505.6 808.7 507C809.7 508.4 811 507.8 812.5 508C814 508.3 816.3 508.7 817.9 508.5C819.4 508.3 820.9 507.1 822.1 506.8C823.4 506.4 824.4 506.1 825.3 506.3C826.3 506.5 826.8 507.6 827.9 508C828.9 508.5 831.1 508.8 831.7 508.9L831.7 509.1Z" fill="#A6D854" stroke="#2E2E2E" stroke-width="1.15" stroke-linejoin="round"/>
<path d="M782 509.1H1067.8" stroke="#2E2E2E" stroke-width="1"/>
<path d="M782 509.1h0M783.5 509.1h0M816.4 509.1h0M818.9 509.1h0M821.5 509.1h0M831.3 509.1h0M833.8 509.1h0M848.8 509.1h0M854.1 509.1h0M1067.8 509.1h0" stroke="#2E2E2E" stroke-width="3.7" stroke-linecap="round" fill="none"/>
<circle cx="967.6" cy="509.1" r="2.2" fill="#EA0000"/>
<rect x="783.5" y="562.4" width="20" height="12" fill="#BEBEBE" stroke="#2E2E2E" stroke-width="1.1"/>
<path d="M801.4 562.4v12" stroke="#2E2E2E" stroke-width="1.9"/>
<path d="M783.5 568.4L783.5 553.9C783.8 554.4 784.6 555.3 785.2 557.1C785.9 558.9 786.5 562.9 787.3 564.6C788.2 566.3 789.1 567.2 790.1 567.3C791.1 567.5 792.3 567.2 793.3 565.6C794.4 564.1 795.5 560.8 796.5 558.2C797.5 555.6 798.4 551.9 799.3 550.1C800.2 548.2 801 547.1 801.9 547.1C802.7 547 803.6 548 804.6 549.6C805.6 551.3 806.7 554.6 807.8 557.1C809 559.6 810.1 562.9 811.5 564.6C812.8 566.3 813.4 566.7 815.7 567.3C818 567.9 823.7 568 825.3 568.2L825.3 568.4Z" fill="#E78AC3" stroke="#2E2E2E" stroke-width="1.15" stroke-linejoin="round"/>
<path d="M783.5 568.4H859" stroke="#2E2E2E" stroke-width="1"/>
<path d="M836.4 568.4h0M839 568.4h0M841.5 568.4h0M844.1 568.4h0M846.6 568.4h0M859 568.4h0" stroke="#2E2E2E" stroke-width="3.7" stroke-linecap="round" fill="none"/>
<circle cx="851.3" cy="568.4" r="2.5" fill="#EA0000"/>
<rect x="783.5" y="621.7" width="20" height="12" fill="#BEBEBE" stroke="#2E2E2E" stroke-width="1.1"/>
<path d="M801.4 621.7v12" stroke="#2E2E2E" stroke-width="1.9"/>
<path d="M783.5 627.7L783.5 614.3C783.9 614.9 784.9 616.2 785.9 617.9C786.8 619.6 788.1 623 789.1 624.3C790.1 625.5 790.8 625.7 791.8 625.4C792.8 625 794 623.8 795 622.2C796.1 620.6 796.9 617.4 798 615.8C799.2 614.2 800.7 612.7 801.9 612.6C803 612.4 804 613.3 805.1 614.7C806.1 616.1 807 619.2 808.3 621.1C809.5 622.9 811.1 624.9 812.5 625.8C813.9 626.7 815 626.7 816.8 626.6C818.6 626.6 821.4 625.7 823.2 625.6C825 625.5 825.7 625.7 827.4 626C829.2 626.3 832.8 627.1 833.8 627.3L833.8 627.7Z" fill="#8DA0CB" stroke="#2E2E2E" stroke-width="1.15" stroke-linejoin="round"/>
<path d="M783.5 627.7H874.2" stroke="#2E2E2E" stroke-width="1"/>
<path d="M836.4 627.7h0M839 627.7h0M841.5 627.7h0M844.1 627.7h0M846.6 627.7h0M849.2 627.7h0M851.8 627.7h0M874.2 627.7h0" stroke="#2E2E2E" stroke-width="3.7" stroke-linecap="round" fill="none"/>
<rect x="853.6" y="625.6" width="4.4" height="4.2" rx=".6" fill="#EA0000"/>
<rect x="783.5" y="681" width="20" height="12" fill="#BEBEBE" stroke="#2E2E2E" stroke-width="1.1"/>
<path d="M798.7 681v12" stroke="#2E2E2E" stroke-width="1.9"/>
<path d="M783.5 687L783.5 674.8C783.8 675.3 784.5 676.1 785.2 677.6C786 679.1 787.1 682.8 788 684C788.9 685.2 789.9 685.4 790.8 685.1C791.7 684.7 792.4 683.8 793.3 681.9C794.3 679.9 795.6 675.6 796.5 673.3C797.5 671.1 798.3 669.4 799.1 668.4C799.8 667.4 800.3 667.1 801 667.4C801.7 667.7 802.6 668.4 803.6 670.1C804.5 671.8 805.4 675.5 806.5 677.6C807.7 679.7 809 681.7 810.4 682.9C811.7 684.2 812.2 684.5 814.7 685.1C817.1 685.6 821.8 686 825.3 686.4C828.9 686.7 834.2 686.9 836 687L836 687Z" fill="#FC8D62" stroke="#2E2E2E" stroke-width="1.15" stroke-linejoin="round"/>
<path d="M783.5 687H866.5" stroke="#2E2E2E" stroke-width="1"/>
<path d="M836.4 687h0M839 687h0M841.5 687h0M846.4 687h0M866.5 687h0" stroke="#2E2E2E" stroke-width="3.7" stroke-linecap="round" fill="none"/>
<circle cx="853.3" cy="687" r="2.2" fill="#EA0000"/>
</g>
<g>
<rect x="1114" y="409.8" width="313.1" height="308.9" fill="#EBEBEB"/>
<path d="M1162 409.8V718.7M1235.2 409.8V718.7M1308.3 409.8V718.7M1381.5 409.8V718.7" stroke="#fff" stroke-opacity=".9" stroke-width=".6" fill="none"/>
<path d="M1125.5 409.8V718.7M1198.7 409.8V718.7M1271.8 409.8V718.7M1345 409.8V718.7M1418.2 409.8V718.7M1114 445.7H1427.1M1114 505H1427.1M1114 564.3H1427.1M1114 623.6H1427.1M1114 682.8H1427.1" stroke="#fff" stroke-width="1.1" fill="none"/>
<path d="M1125.5 718.7v1.8M1198.7 718.7v1.8M1271.8 718.7v1.8M1345 718.7v1.8M1418.2 718.7v1.8M1114 445.7h-1.8M1114 505h-1.8M1114 564.3h-1.8M1114 623.6h-1.8M1114 682.8h-1.8" stroke="#2E2E2E" stroke-width="1.1" fill="none"/>
<g font-size="6.2" fill="#4D4D4D" text-anchor="middle">
<text x="1125.5" y="726.3">0</text>
<text x="1198.7" y="726.3">25</text>
<text x="1271.8" y="726.3">50</text>
<text x="1345" y="726.3">75</text>
<text x="1418.2" y="726.3">100</text>
</g>
<g font-size="6.2" fill="#4D4D4D" text-anchor="end">
<text x="1110.6" y="447.9">AFR</text>
<text x="1110.6" y="507.2">AMR</text>
<text x="1110.6" y="566.5">EAS</text>
<text x="1110.6" y="625.8">EUR</text>
<text x="1110.6" y="685">SAS</text>
</g>
<text x="1270.6" y="404" font-size="9" text-anchor="middle" fill="#000">FXN</text>
<rect x="1148.6" y="439.7" width="3.2" height="12" fill="#BEBEBE" stroke="#2E2E2E" stroke-width="1.1"/>
<path d="M1150.1 439.7v12" stroke="#2E2E2E" stroke-width="1.9"/>
<path d="M1146.6 445.7L1146.6 445.6L1146.8 445.6L1147 445.3L1147.2 444.8L1147.4 443.5L1147.6 441.3L1147.8 437.9L1148 433.6L1148.2 429.2L1148.4 426.2L1148.6 425.5L1148.8 427.5L1149 431.3L1149.2 435.8L1149.4 439.8L1149.6 442.6L1149.8 444.2L1150 445.1L1150.2 445.3L1150.5 445.1L1150.7 444.4L1150.9 443L1151.1 440.7L1151.3 437.8L1151.5 435L1151.7 433.4L1151.9 433.7L1152.1 435.7L1152.3 438.5L1152.5 441.3L1152.7 443.4L1152.9 444.7L1153.1 445.3L1153.3 445.5L1153.5 445.6L1153.7 445.7L1153.7 445.7Z" fill="#FFD92F" stroke="#2E2E2E" stroke-width="1.15" stroke-linejoin="round"/>
<path d="M1131.3 445.7H1207.4" stroke="#2E2E2E" stroke-width="1"/>
<path d="M1131.4 445.7h0M1137.2 445.7h0M1140.2 445.7h0M1143.1 445.7h0M1157.7 445.7h0M1160.6 445.7h0M1163.6 445.7h0M1166.5 445.7h0M1169.4 445.7h0M1172.3 445.7h0M1175.3 445.7h0M1178.2 445.7h0M1181.1 445.7h0M1184.1 445.7h0M1187 445.7h0M1189.9 445.7h0M1192.8 445.7h0M1207.5 445.7h0" stroke="#2E2E2E" stroke-width="3.7" stroke-linecap="round" fill="none"/>
<circle cx="1194.8" cy="445.7" r="2.2" fill="#EA0000"/>
<path d="M1151.8 499v12" stroke="#2E2E2E" stroke-width="1.8"/>
<path d="M1142.6 505L1142.6 505C1142.9 504.7 1146.1 502.5 1146.9 502C1147.6 501.5 1150.8 498.8 1151.5 498.8C1152.3 498.8 1154.7 501.5 1155.4 502C1156.1 502.5 1159.3 504.7 1159.7 505L1159.7 505Z" fill="#A6D854" stroke="#2E2E2E" stroke-width="1.15" stroke-linejoin="round"/>
<path d="M1134.1 505H1330.3" stroke="#2E2E2E" stroke-width="1"/>
<path d="M1134.3 505h0M1140.2 505h0M1143.1 505h0M1160.6 505h0M1163.6 505h0M1166.5 505h0M1169.4 505h0M1172.3 505h0M1175.3 505h0M1178.2 505h0M1181.1 505h0M1184.1 505h0M1187 505h0M1189.9 505h0M1192.8 505h0M1195.8 505h0M1204.5 505h0M1207.5 505h0M1216.2 505h0M1330.4 505h0" stroke="#2E2E2E" stroke-width="3.7" stroke-linecap="round" fill="none"/>
<circle cx="1271.6" cy="505" r="2.2" fill="#EA0000"/>
<rect x="1148.6" y="558.3" width="3.2" height="12" fill="#BEBEBE" stroke="#2E2E2E" stroke-width="1.1"/>
<path d="M1151.3 558.3v12" stroke="#2E2E2E" stroke-width="1.9"/>
<path d="M1146.6 564.3L1146.6 564.2L1146.8 564.2L1147 564L1147.2 563.5L1147.5 562.4L1147.7 560.4L1147.9 557.5L1148.1 554.2L1148.3 551.5L1148.6 550.4L1148.8 551.5L1149 554.2L1149.2 557.5L1149.4 560.4L1149.7 562.4L1149.9 563.4L1150.1 563.7L1150.3 563.2L1150.6 561.7L1150.8 558.6L1151 553.6L1151.2 547.3L1151.4 541.2L1151.7 537.6L1151.9 537.9L1152.1 542.1L1152.3 548.3L1152.6 554.5L1152.8 559.2L1153 562L1153.2 563.4L1153.4 564L1153.7 564.2L1153.9 564.2L1153.9 564.3Z" fill="#E78AC3" stroke="#2E2E2E" stroke-width="1.15" stroke-linejoin="round"/>
<path d="M1131.3 564.3H1187.4" stroke="#2E2E2E" stroke-width="1"/>
<path d="M1131.4 564.3h0M1140.2 564.3h0M1143.1 564.3h0M1172.3 564.3h0M1175.3 564.3h0M1178.2 564.3h0M1184.1 564.3h0" stroke="#2E2E2E" stroke-width="3.7" stroke-linecap="round" fill="none"/>
<rect x="1184.5" y="562.2" width="4.4" height="4.2" rx=".6" fill="#EA0000"/>
<rect x="1148.6" y="617.6" width="3.2" height="12" fill="#BEBEBE" stroke="#2E2E2E" stroke-width="1.1"/>
<path d="M1151.3 617.6v12" stroke="#2E2E2E" stroke-width="1.9"/>
<path d="M1146.3 623.6L1146.3 623.5L1146.5 623.5L1146.8 623.3L1147 623L1147.3 622.1L1147.5 620.6L1147.8 618.4L1148 615.8L1148.3 613.7L1148.6 612.9L1148.8 613.7L1149.1 615.8L1149.3 618.3L1149.6 620.5L1149.8 621.9L1150.1 622.4L1150.4 621.8L1150.6 620.1L1150.9 617.1L1151.1 613.2L1151.4 609.3L1151.6 606.8L1151.9 606.8L1152.1 609.3L1152.4 613.2L1152.7 617.1L1152.9 620.2L1153.2 622L1153.4 623L1153.7 623.4L1153.9 623.5L1154.2 623.5L1154.2 623.6Z" fill="#8DA0CB" stroke="#2E2E2E" stroke-width="1.15" stroke-linejoin="round"/>
<path d="M1134.1 623.6H1412.6" stroke="#2E2E2E" stroke-width="1"/>
<path d="M1134.3 623.6h0M1140.2 623.6h0M1143.1 623.6h0M1160.6 623.6h0M1163.6 623.6h0M1166.5 623.6h0M1169.4 623.6h0M1172.3 623.6h0M1175.3 623.6h0M1178.2 623.6h0M1181.1 623.6h0M1184.1 623.6h0M1187 623.6h0M1189.9 623.6h0M1192.8 623.6h0M1195.8 623.6h0M1198.7 623.6h0M1201.6 623.6h0M1204.5 623.6h0M1207.5 623.6h0M1210.4 623.6h0M1213.3 623.6h0M1216.2 623.6h0M1225 623.6h0M1227.9 623.6h0M1233.8 623.6h0M1242.6 623.6h0M1318.7 623.6h0M1359.6 623.6h0M1362.6 623.6h0M1412.3 623.6h0" stroke="#2E2E2E" stroke-width="3.7" stroke-linecap="round" fill="none"/>
<circle cx="1383" cy="623.6" r="2.5" fill="#EA0000"/>
<rect x="1148.6" y="676.8" width="3.2" height="12" fill="#BEBEBE" stroke="#2E2E2E" stroke-width="1.1"/>
<path d="M1150.1 676.8v12" stroke="#2E2E2E" stroke-width="1.9"/>
<path d="M1146.4 682.8L1146.4 682.8L1146.6 682.8L1146.8 682.6L1147 682.2L1147.3 681.3L1147.5 679.6L1147.7 677.1L1147.9 673.8L1148.1 670.2L1148.3 667.4L1148.5 666.2L1148.8 667.1L1149 669.7L1149.2 673.2L1149.4 676.6L1149.6 679.3L1149.8 681L1150 681.9L1150.2 682L1150.5 681.5L1150.7 680.3L1150.9 678.4L1151.1 675.9L1151.3 673.1L1151.5 671L1151.7 670.1L1152 670.7L1152.2 672.7L1152.4 675.4L1152.6 678L1152.8 680.1L1153 681.4L1153.2 682L1153.4 682.1L1153.7 681.8L1153.9 681L1154.1 680.1L1154.3 679.3L1154.5 679L1154.7 679.3L1154.9 680L1155.2 680.9L1155.4 681.7L1155.6 682.3L1155.8 682.6L1156 682.8L1156.2 682.8L1156.6 682.8L1156.6 682.8Z" fill="#FC8D62" stroke="#2E2E2E" stroke-width="1.15" stroke-linejoin="round"/>
<path d="M1128.3 682.8H1345" stroke="#2E2E2E" stroke-width="1"/>
<path d="M1128.5 682.8h0M1143.1 682.8h0M1169.4 682.8h0M1172.3 682.8h0M1175.3 682.8h0M1178.2 682.8h0M1181.1 682.8h0M1184.1 682.8h0M1187 682.8h0M1189.9 682.8h0M1192.8 682.8h0M1195.8 682.8h0M1201.6 682.8h0M1216.2 682.8h0M1225 682.8h0M1345 682.8h0" stroke="#2E2E2E" stroke-width="3.7" stroke-linecap="round" fill="none"/>
<rect x="1336" y="680.7" width="4.4" height="4.2" rx=".6" fill="#EA0000"/>
</g>
<g>
<rect x="1466.7" y="414" width="309.3" height="309.1" fill="#EBEBEB"/>
<path d="M1534.1 414V723.1M1623 414V723.1M1712 414V723.1" stroke="#fff" stroke-opacity=".9" stroke-width=".6" fill="none"/>
<path d="M1489.5 414V723.1M1578.4 414V723.1M1667.4 414V723.1M1756.3 414V723.1M1466.7 449.8H1776M1466.7 509.1H1776M1466.7 568.4H1776M1466.7 627.7H1776M1466.7 687H1776" stroke="#fff" stroke-width="1.1" fill="none"/>
<path d="M1489.5 723.1v1.8M1578.4 723.1v1.8M1667.4 723.1v1.8M1756.3 723.1v1.8M1466.7 449.8h-1.8M1466.7 509.1h-1.8M1466.7 568.4h-1.8M1466.7 627.7h-1.8M1466.7 687h-1.8" stroke="#2E2E2E" stroke-width="1.1" fill="none"/>
<g font-size="6.2" fill="#4D4D4D" text-anchor="middle">
<text x="1489.5" y="730.7">10</text>
<text x="1578.4" y="730.7">20</text>
<text x="1667.4" y="730.7">30</text>
<text x="1756.3" y="730.7">40</text>
</g>
<g font-size="6.2" fill="#4D4D4D" text-anchor="end">
<text x="1463.3" y="452">AFR</text>
<text x="1463.3" y="511.3">AMR</text>
<text x="1463.3" y="570.6">EAS</text>
<text x="1463.3" y="629.9">EUR</text>
<text x="1463.3" y="689.2">SAS</text>
</g>
<text x="1622.8" y="408" font-size="9" text-anchor="middle" fill="#000">HTT</text>
<rect x="1534.1" y="443.8" width="35.6" height="12" fill="#BEBEBE" stroke="#2E2E2E" stroke-width="1.1"/>
<path d="M1551.8 443.8v12" stroke="#2E2E2E" stroke-width="1.9"/>
<path d="M1515.3 449.8L1515.3 449.6C1516.7 449.4 1521.4 448.9 1523.8 448.3C1526.3 447.8 1528.1 446.7 1530.2 446.2C1532.4 445.7 1534.5 445.1 1536.6 445.1C1538.8 445.1 1540.9 445.9 1543 446.2C1545.2 446.5 1547 446.9 1549.4 447C1551.9 447.2 1555.1 447.2 1558 447.3C1560.8 447.3 1563.7 447.3 1566.5 447.5C1569.3 447.6 1572.2 448 1575 448.3C1577.9 448.6 1579.3 449 1583.6 449.2C1587.8 449.4 1594.2 449.5 1600.6 449.6C1607 449.7 1618.4 449.8 1622 449.8L1622 449.8Z" fill="#FFD92F" stroke="#2E2E2E" stroke-width="1.15" stroke-linejoin="round"/>
<path d="M1480.5 449.8H1765.3" stroke="#2E2E2E" stroke-width="1"/>
<path d="M1631.8 449.8h0M1640.7 449.8h0M1649.6 449.8h0M1658.5 449.8h0M1676.3 449.8h0M1685.2 449.8h0M1694.1 449.8h0M1747.4 449.8h0M1765.2 449.8h0" stroke="#2E2E2E" stroke-width="3.7" stroke-linecap="round" fill="none"/>
<rect x="1732.8" y="447.7" width="4.4" height="4.2" rx=".6" fill="#EA0000"/>
<rect x="1542.8" y="503.1" width="26.9" height="12" fill="#BEBEBE" stroke="#2E2E2E" stroke-width="1.1"/>
<path d="M1551.8 503.1v12" stroke="#2E2E2E" stroke-width="1.9"/>
<path d="M1504.7 509.1L1504.7 508.9C1507.1 508.8 1515.7 508.6 1519.6 508.3C1523.5 507.9 1525.6 506.9 1528.1 506.5C1530.6 506.2 1532.4 505.9 1534.5 505.9C1536.6 505.9 1538.8 506.7 1540.9 506.5C1543 506.4 1545.4 505.3 1547.3 504.8C1549.3 504.4 1550.9 503.8 1552.6 503.8C1554.4 503.7 1555.7 504.1 1558 504.6C1560.3 505.1 1563.7 506.2 1566.5 506.8C1569.3 507.3 1571.5 507.7 1575 508C1578.6 508.4 1581.8 508.5 1587.8 508.7C1593.9 508.9 1607.4 509 1611.3 509.1L1611.3 509.1Z" fill="#A6D854" stroke="#2E2E2E" stroke-width="1.15" stroke-linejoin="round"/>
<path d="M1480.5 509.1H1712" stroke="#2E2E2E" stroke-width="1"/>
<path d="M1480.6 509.1h0M1489.5 509.1h0M1498.4 509.1h0M1614 509.1h0M1622.9 509.1h0M1631.8 509.1h0M1640.7 509.1h0M1649.6 509.1h0M1658.5 509.1h0M1667.4 509.1h0M1676.3 509.1h0M1711.9 509.1h0" stroke="#2E2E2E" stroke-width="3.7" stroke-linecap="round" fill="none"/>
<rect x="1689.7" y="507" width="4.4" height="4.2" rx=".6" fill="#EA0000"/>
<rect x="1551.8" y="562.4" width="9" height="12" fill="#BEBEBE" stroke="#2E2E2E" stroke-width="1.1"/>
<path d="M1552.2 562.4v12" stroke="#2E2E2E" stroke-width="1.9"/>
<path d="M1535.9 568.4L1535.9 568.4L1537.5 568.4L1538.2 568.3L1539 568.2L1539.8 567.9L1540.5 567.6L1541.3 567.2L1542.1 566.8L1542.8 566.7L1543.6 566.8L1544.4 567.1L1545.1 567.5L1545.9 567.7L1546.7 567.4L1547.4 566.3L1548.2 563.7L1549 559.3L1549.7 553.3L1550.5 547.1L1551.3 542.7L1552 542L1552.8 545.3L1553.6 551.1L1554.3 557.4L1555.1 562.3L1555.9 565.3L1556.7 566.3L1557.4 565.8L1558.2 564.1L1559 561.8L1559.7 559.5L1560.5 558.3L1561.3 558.5L1562 560.2L1562.8 562.6L1563.6 564.9L1564.3 566.5L1565.1 567.4L1565.9 567.7L1566.6 567.4L1567.4 566.8L1568.2 566.1L1568.9 565.4L1569.7 565.2L1570.5 565.4L1571.2 566.1L1572 566.8L1572.8 567.5L1573.5 568L1574.3 568.2L1575.1 568.3L1575.8 568.4L1576.6 568.4L1576.6 568.4Z" fill="#E78AC3" stroke="#2E2E2E" stroke-width="1.15" stroke-linejoin="round"/>
<path d="M1480.5 568.4H1712" stroke="#2E2E2E" stroke-width="1"/>
<path d="M1480.6 568.4h0M1489.5 568.4h0M1498.4 568.4h0M1507.3 568.4h0M1516.2 568.4h0M1525.1 568.4h0M1534 568.4h0M1578.4 568.4h0M1587.3 568.4h0M1596.2 568.4h0M1605.1 568.4h0M1614 568.4h0M1622.9 568.4h0M1631.8 568.4h0M1649.6 568.4h0M1667.4 568.4h0M1676.3 568.4h0M1711.9 568.4h0" stroke="#2E2E2E" stroke-width="3.7" stroke-linecap="round" fill="none"/>
<circle cx="1694.1" cy="568.4" r="2.2" fill="#EA0000"/>
<rect x="1551.8" y="621.7" width="17.9" height="12" fill="#BEBEBE" stroke="#2E2E2E" stroke-width="1.1"/>
<path d="M1552.2 621.7v12" stroke="#2E2E2E" stroke-width="1.9"/>
<path d="M1523.8 627.7L1523.8 627.5C1524.7 627.3 1527.5 626.6 1529.2 626.2C1530.9 625.8 1532.5 625.1 1534.1 625.1C1535.7 625.2 1537.3 626.2 1538.8 626.4C1540.3 626.6 1541.6 627.1 1543 626.4C1544.5 625.7 1545.9 623.5 1547.3 622.2C1548.8 620.8 1550.4 618.5 1551.8 618.3C1553.2 618.1 1554.5 620.1 1555.8 621.1C1557.2 622 1558.3 623.4 1560.1 624.1C1561.9 624.8 1564 625 1566.5 625.4C1569 625.7 1572.2 626 1575 626.2C1577.9 626.5 1579.3 626.6 1583.6 626.8C1587.8 627.1 1597.8 627.4 1600.6 627.5L1600.6 627.7Z" fill="#8DA0CB" stroke="#2E2E2E" stroke-width="1.15" stroke-linejoin="round"/>
<path d="M1480.5 627.7H1720.7" stroke="#2E2E2E" stroke-width="1"/>
<path d="M1480.6 627.7h0M1489.5 627.7h0M1507.3 627.7h0M1605.1 627.7h0M1614 627.7h0M1622.9 627.7h0M1631.8 627.7h0M1640.7 627.7h0M1649.6 627.7h0M1658.5 627.7h0M1667.4 627.7h0M1676.3 627.7h0M1685.2 627.7h0M1720.8 627.7h0" stroke="#2E2E2E" stroke-width="3.7" stroke-linecap="round" fill="none"/>
<rect x="1701.7" y="625.6" width="4.4" height="4.2" rx=".6" fill="#EA0000"/>
<rect x="1551.8" y="681" width="9" height="12" fill="#BEBEBE" stroke="#2E2E2E" stroke-width="1.1"/>
<path d="M1552.2 681v12" stroke="#2E2E2E" stroke-width="1.9"/>
<path d="M1518.2 687L1518.2 687L1519.8 687L1520.5 686.9L1521.3 686.8L1522.1 686.6L1522.8 686.4L1523.6 686.1L1524.4 685.8L1525.1 685.7L1525.9 685.8L1526.7 686.1L1527.4 686.4L1528.2 686.6L1529 686.8L1529.7 686.9L1530.5 687L1537.4 687L1538.2 686.9L1538.9 686.8L1539.7 686.5L1540.5 686.2L1541.3 685.8L1542 685.4L1542.8 685.3L1543.6 685.4L1544.3 685.7L1545.1 686.1L1545.9 686.3L1546.6 686.1L1547.4 685.1L1548.2 682.8L1548.9 678.9L1549.7 673.4L1550.5 667.6L1551.2 663.5L1552 662.6L1552.8 665.5L1553.5 670.8L1554.3 676.6L1555.1 681.2L1555.8 684.1L1556.6 685.4L1557.4 685.4L1558.1 684.5L1558.9 683.2L1559.7 681.9L1560.4 681.1L1561.2 681.2L1562 682.1L1562.8 683.5L1563.5 684.9L1564.3 685.9L1565.1 686.4L1565.8 686.5L1566.6 686.4L1567.4 686L1568.1 685.5L1568.9 685L1569.7 684.9L1570.4 685L1571.2 685.4L1572 685.9L1572.7 686.4L1573.5 686.6L1574.3 686.7L1575 686.6L1575.8 686.3L1576.6 685.9L1577.3 685.5L1578.1 685.3L1578.9 685.3L1579.6 685.6L1580.4 686L1581.2 686.4L1581.9 686.7L1582.7 686.8L1583.5 686.9L1584.2 687L1585.8 687L1585.8 687Z" fill="#FC8D62" stroke="#2E2E2E" stroke-width="1.15" stroke-linejoin="round"/>
<path d="M1489.5 687H1720.7" stroke="#2E2E2E" stroke-width="1"/>
<path d="M1489.5 687h0M1516.2 687h0M1525.1 687h0M1534 687h0M1578.4 687h0M1587.3 687h0M1596.2 687h0M1605.1 687h0M1614 687h0M1622.9 687h0M1631.8 687h0M1649.6 687h0M1667.4 687h0M1676.3 687h0M1685.2 687h0M1703 687h0M1720.8 687h0" stroke="#2E2E2E" stroke-width="3.7" stroke-linecap="round" fill="none"/>
<circle cx="1713.2" cy="687" r="2.2" fill="#EA0000"/>
</g>
<g>
<rect x="1806.5" y="414" width="313.5" height="309.1" fill="#EBEBEB"/>
<path d="M1820.8 414V723.1M1922.5 414V723.1M2024.1 414V723.1" stroke="#fff" stroke-opacity=".9" stroke-width=".6" fill="none"/>
<path d="M1871.5 414V723.1M1973.3 414V723.1M2074.8 414V723.1M1806.5 449.8H2120M1806.5 509.1H2120M1806.5 568.4H2120M1806.5 627.7H2120M1806.5 687H2120" stroke="#fff" stroke-width="1.1" fill="none"/>
<path d="M1871.5 723.1v1.8M1973.3 723.1v1.8M2074.8 723.1v1.8M1806.5 449.8h-1.8M1806.5 509.1h-1.8M1806.5 568.4h-1.8M1806.5 627.7h-1.8M1806.5 687h-1.8" stroke="#2E2E2E" stroke-width="1.1" fill="none"/>
<g font-size="6.2" fill="#4D4D4D" text-anchor="middle">
<text x="1871.5" y="730.7">10</text>
<text x="1973.3" y="730.7">20</text>
<text x="2074.8" y="730.7">30</text>
</g>
<g font-size="6.2" fill="#4D4D4D" text-anchor="end">
<text x="1803.1" y="452">AFR</text>
<text x="1803.1" y="511.3">AMR</text>
<text x="1803.1" y="570.6">EAS</text>
<text x="1803.1" y="629.9">EUR</text>
<text x="1803.1" y="689.2">SAS</text>
</g>
<text x="1963.2" y="408" font-size="9" text-anchor="middle" fill="#000">JPH3</text>
<rect x="1912.3" y="443.8" width="30.5" height="12" fill="#BEBEBE" stroke="#2E2E2E" stroke-width="1.1"/>
<path d="M1922.5 443.8v12" stroke="#2E2E2E" stroke-width="1.9"/>
<path d="M1881.6 449.8L1881.6 449.6C1883.7 449.5 1890.8 449.2 1894.4 448.7C1897.9 448.3 1900.4 447.4 1902.9 446.8C1905.4 446.3 1907.5 445.8 1909.3 445.5C1911.1 445.3 1911.8 445.2 1913.6 445.3C1915.3 445.5 1917.5 446.2 1920 446.6C1922.5 447 1925.7 447.5 1928.5 447.7C1931.3 447.8 1934.5 447.5 1937 447.5C1939.5 447.4 1940.9 447.3 1943.4 447.5C1945.9 447.7 1948.4 448.4 1952 448.7C1955.5 449.1 1959.4 449.4 1964.8 449.6C1970.1 449.8 1980.8 449.8 1984 449.8L1984 449.8Z" fill="#FFD92F" stroke="#2E2E2E" stroke-width="1.15" stroke-linejoin="round"/>
<path d="M1820.8 449.8H2105.3" stroke="#2E2E2E" stroke-width="1"/>
<path d="M1820.7 449.8h0M1851.2 449.8h0M1861.4 449.8h0M1993.5 449.8h0M2003.7 449.8h0M2013.8 449.8h0M2024 449.8h0M2034.2 449.8h0M2044.3 449.8h0M2054.5 449.8h0M2064.6 449.8h0M2105.3 449.8h0" stroke="#2E2E2E" stroke-width="3.7" stroke-linecap="round" fill="none"/>
<rect x="2097.8" y="447.7" width="4.4" height="4.2" rx=".6" fill="#EA0000"/>
<rect x="1912.3" y="503.1" width="20.5" height="12" fill="#BEBEBE" stroke="#2E2E2E" stroke-width="1.1"/>
<path d="M1912.7 503.1v12" stroke="#2E2E2E" stroke-width="1.9"/>
<path d="M1888 509.1L1888 508.9C1889.8 508.8 1896 508.5 1898.6 508C1901.3 507.5 1902.4 507 1904 505.9C1905.6 504.8 1906.8 502.7 1908.2 501.6C1909.6 500.5 1910.9 499.3 1912.3 499.3C1913.7 499.3 1915.3 500.6 1916.8 501.6C1918.2 502.6 1919.4 504.6 1921 505.3C1922.6 506 1924.8 506 1926.4 505.9C1928 505.8 1929.2 504.9 1930.6 504.8C1932.1 504.8 1933.1 505 1934.9 505.5C1936.7 505.9 1938.5 507.1 1941.3 507.6C1944.1 508.1 1948 508.4 1952 508.7C1955.9 508.9 1962.6 509 1964.8 509.1L1964.8 509.1Z" fill="#A6D854" stroke="#2E2E2E" stroke-width="1.15" stroke-linejoin="round"/>
<path d="M1851.3 509.1H2085.1" stroke="#2E2E2E" stroke-width="1"/>
<path d="M1851.2 509.1h0M1871.5 509.1h0M2034.2 509.1h0M2085 509.1h0" stroke="#2E2E2E" stroke-width="3.7" stroke-linecap="round" fill="none"/>
<circle cx="2060.3" cy="509.1" r="2.2" fill="#EA0000"/>
<rect x="1912.3" y="562.4" width="10.2" height="12" fill="#BEBEBE" stroke="#2E2E2E" stroke-width="1.1"/>
<path d="M1912.7 562.4v12" stroke="#2E2E2E" stroke-width="1.9"/>
<path d="M1895.1 568.4L1895.1 568.4L1897.4 568.4L1898.2 568.3L1899 568.2L1899.7 568L1900.5 567.8L1901.3 567.6L1902 567.5L1902.8 567.6L1903.6 567.8L1904.4 568L1905.1 568.1L1905.9 568.2L1906.7 568L1907.4 567.3L1908.2 565.6L1909 562.4L1909.7 557.3L1910.5 550.9L1911.3 544.9L1912 541.6L1912.8 542.3L1913.6 546.7L1914.3 553.1L1915.1 559.2L1915.9 563.6L1916.6 566.3L1917.4 567.4L1918.2 567.6L1918.9 567.1L1919.7 566.1L1920.5 564.5L1921.2 562.9L1922 561.8L1922.8 561.6L1923.5 562.5L1924.3 564L1925.1 565.6L1925.9 566.9L1926.6 567.7L1927.4 568.1L1928.2 568.1L1928.9 567.9L1929.7 567.4L1930.5 566.6L1931.2 565.8L1932 565.1L1932.8 564.8L1933.5 565.1L1934.3 565.8L1935.1 566.6L1935.8 567.4L1936.6 567.9L1937.4 568.2L1938.1 568.3L1938.9 568.4L1939.7 568.4L1939.7 568.4Z" fill="#E78AC3" stroke="#2E2E2E" stroke-width="1.15" stroke-linejoin="round"/>
<path d="M1871.5 568.4H1953" stroke="#2E2E2E" stroke-width="1"/>
<path d="M1871.5 568.4h0M1881.7 568.4h0M1942.7 568.4h0" stroke="#2E2E2E" stroke-width="3.7" stroke-linecap="round" fill="none"/>
<circle cx="1953" cy="568.4" r="2.2" fill="#EA0000"/>
<rect x="1912.3" y="621.7" width="20.5" height="12" fill="#BEBEBE" stroke="#2E2E2E" stroke-width="1.1"/>
<path d="M1912.7 621.7v12" stroke="#2E2E2E" stroke-width="1.9"/>
<path d="M1879.4 627.7L1879.4 627.3C1882.3 627.3 1892.2 627.6 1896.5 627.3C1900.8 627 1903.1 626.6 1905 625.4C1907 624.1 1907 621.5 1908.2 620C1909.4 618.5 1910.9 616.5 1912.3 616.4C1913.6 616.3 1915.1 618.1 1916.3 619.6C1917.6 621.1 1918.5 624.2 1920 625.4C1921.5 626.5 1923.7 627 1925.3 626.4C1926.9 625.9 1928.3 623.1 1929.6 622.2C1930.8 621.2 1931.7 620.7 1932.8 620.7C1933.8 620.7 1934.7 621.3 1936 622.2C1937.2 623 1938.6 625.2 1940.2 626C1941.8 626.8 1943.4 626.8 1945.6 627.1C1947.7 627.3 1951.8 627.6 1953 627.7L1953 627.7Z" fill="#8DA0CB" stroke="#2E2E2E" stroke-width="1.15" stroke-linejoin="round"/>
<path d="M1861.5 627.7H1953" stroke="#2E2E2E" stroke-width="1"/>
<path d="M1861.4 627.7h0" stroke="#2E2E2E" stroke-width="3.7" stroke-linecap="round" fill="none"/>
<rect x="1950.8" y="625.6" width="4.4" height="4.2" rx=".6" fill="#EA0000"/>
<rect x="1912.3" y="681" width="20.5" height="12" fill="#BEBEBE" stroke="#2E2E2E" stroke-width="1.1"/>
<path d="M1912.7 681v12" stroke="#2E2E2E" stroke-width="1.9"/>
<path d="M1875.2 687L1875.2 686.6C1878.7 686.5 1891.5 686.8 1896.5 686.4C1901.5 685.9 1903.1 685.3 1905 684C1907 682.7 1907 680.1 1908.2 678.7C1909.4 677.2 1910.9 675.3 1912.3 675.3C1913.6 675.3 1915.1 677.2 1916.3 678.7C1917.6 680.1 1918.5 682.9 1920 684C1921.5 685.1 1923.7 685.4 1925.3 685.1C1926.9 684.7 1928.3 682.7 1929.6 681.9C1930.8 681.1 1931.7 680.4 1932.8 680.4C1933.8 680.4 1934.7 681 1936 681.9C1937.2 682.7 1938.3 684.7 1940.2 685.5C1942.2 686.3 1943.6 686.3 1947.7 686.6C1951.8 686.8 1961.9 686.9 1964.8 687L1964.8 687Z" fill="#FC8D62" stroke="#2E2E2E" stroke-width="1.15" stroke-linejoin="round"/>
<path d="M1831 687H2013.8" stroke="#2E2E2E" stroke-width="1"/>
<path d="M1830.9 687h0M1861.4 687h0M1871.5 687h0M1973.2 687h0M1983.3 687h0M1993.5 687h0M2013.8 687h0" stroke="#2E2E2E" stroke-width="3.7" stroke-linecap="round" fill="none"/>
<rect x="1997.7" y="684.9" width="4.4" height="4.2" rx=".6" fill="#EA0000"/>
</g>
<g>
<rect x="68.2" y="815.5" width="312.7" height="309.1" fill="#EBEBEB"/>
<path d="M82.4 815.5V1124.6M139.2 815.5V1124.6M196.1 815.5V1124.6M253.1 815.5V1124.6M310 815.5V1124.6M366.8 815.5V1124.6" stroke="#fff" stroke-opacity=".9" stroke-width=".6" fill="none"/>
<path d="M110.8 815.5V1124.6M167.5 815.5V1124.6M224.5 815.5V1124.6M281.4 815.5V1124.6M338.4 815.5V1124.6M68.2 851.3H380.8M68.2 910.6H380.8M68.2 969.9H380.8M68.2 1029.2H380.8M68.2 1088.5H380.8" stroke="#fff" stroke-width="1.1" fill="none"/>
<path d="M110.8 1124.6v1.8M167.5 1124.6v1.8M224.5 1124.6v1.8M281.4 1124.6v1.8M338.4 1124.6v1.8M68.2 851.3h-1.8M68.2 910.6h-1.8M68.2 969.9h-1.8M68.2 1029.2h-1.8M68.2 1088.5h-1.8" stroke="#2E2E2E" stroke-width="1.1" fill="none"/>
<g font-size="6.2" fill="#4D4D4D" text-anchor="middle">
<text x="110.8" y="1132.2">10</text>
<text x="167.5" y="1132.2">20</text>
<text x="224.5" y="1132.2">30</text>
<text x="281.4" y="1132.2">40</text>
<text x="338.4" y="1132.2">50</text>
</g>
<g font-size="6.2" fill="#4D4D4D" text-anchor="end">
<text x="64.8" y="853.5">AFR</text>
<text x="64.8" y="912.8">AMR</text>
<text x="64.8" y="972.1">EAS</text>
<text x="64.8" y="1031.4">EUR</text>
<text x="64.8" y="1090.7">SAS</text>
</g>
<text x="228" y="810" font-size="9" text-anchor="middle" fill="#000">NOTCH2NLC</text>
<rect x="156.2" y="845.3" width="17.3" height="12" fill="#BEBEBE" stroke="#2E2E2E" stroke-width="1.1"/>
<path d="M162 845.3v12" stroke="#2E2E2E" stroke-width="1.9"/>
<path d="M110.4 851.3L110.4 850.9C110.7 850.7 114.1 849 114.7 848.7C115.2 848.5 116.8 848 117.2 848.1C117.7 848.2 119.5 849.4 120 849.6C120.5 849.8 122.6 850.8 123.2 850.9C123.8 851 126.8 850.8 127.4 850.5C128.1 850.1 130.1 846.8 130.6 846.2C131.2 845.6 133.2 843.7 133.8 843.4C134.5 843.1 137.9 842.3 138.5 842.3C139.2 842.4 140.8 844 141.3 844.5C141.8 844.9 144 847.8 144.5 847.9C145 848 147.2 846.5 147.7 846.2C148.2 845.8 150.3 844 150.9 843.6C151.5 843.3 154.6 842.6 155.2 841.9C155.8 841.2 157.9 836.8 158.4 835.5C158.8 834.3 160.2 827.9 160.5 827C160.8 826.1 161.9 824.2 162.2 824.2C162.5 824.3 163.7 826.7 164.1 827.4C164.5 828.1 166.4 832.2 166.9 833C167.4 833.7 169.6 835.8 170.1 836.2C170.6 836.5 172.8 836.7 173.3 837C173.8 837.3 175.9 839.2 176.5 839.8C177.1 840.3 180 843.1 180.8 843.6C181.6 844.1 185.2 845.5 186.1 845.8C187 846 190.5 846 191.4 846.2C192.4 846.4 196.6 848 197.8 848.3C199.1 848.6 204.8 849.6 206.4 849.8C208 850 215.3 850.6 217 850.7C218.8 850.8 226.8 851.1 227.7 851.1L227.7 851.3Z" fill="#FFD92F" stroke="#2E2E2E" stroke-width="1.15" stroke-linejoin="round"/>
<path d="M82.4 851.3H349.7" stroke="#2E2E2E" stroke-width="1"/>
<path d="M82.4 851.3h0M88 851.3h0M93.7 851.3h0M99.4 851.3h0M105.1 851.3h0M110.8 851.3h0M116.5 851.3h0M122.2 851.3h0M127.9 851.3h0M201.9 851.3h0M207.6 851.3h0M213.2 851.3h0M218.9 851.3h0M224.6 851.3h0M230.3 851.3h0M236 851.3h0M264.5 851.3h0M349.8 851.3h0" stroke="#2E2E2E" stroke-width="3.7" stroke-linecap="round" fill="none"/>
<circle cx="292.7" cy="851.3" r="2.2" fill="#EA0000"/>
<rect x="139.2" y="904.6" width="34.3" height="12" fill="#BEBEBE" stroke="#2E2E2E" stroke-width="1.1"/>
<path d="M167.5 904.6v12" stroke="#2E2E2E" stroke-width="1.9"/>
<path d="M104 910.6L104 910.2C105.8 910 111.8 909.8 114.7 909.1C117.5 908.4 118.9 907 121 905.9C123.2 904.8 125.3 903.6 127.4 902.7C129.6 901.9 132.1 901.1 133.8 900.8C135.6 900.4 136.3 900.3 138.1 900.6C139.9 900.9 142.4 902 144.5 902.7C146.6 903.4 148.8 904.7 150.9 904.8C153 904.9 155.2 904.4 157.3 903.4C159.4 902.3 161.8 900.1 163.7 898.4C165.7 896.8 167.6 894.5 169 893.5C170.5 892.5 171 892.4 172.2 892.5C173.5 892.6 175.1 893 176.5 894.2C177.9 895.4 179.2 897.9 180.8 899.5C182.4 901.1 184 902.5 186.1 903.8C188.2 905 190.5 906.1 193.6 907C196.6 907.9 200.3 908.6 204.2 909.1C208.1 909.6 212.4 909.9 217 910.2C221.7 910.4 229.5 910.5 232 910.6L232 910.6Z" fill="#A6D854" stroke="#2E2E2E" stroke-width="1.15" stroke-linejoin="round"/>
<path d="M88 910.6H349.7" stroke="#2E2E2E" stroke-width="1"/>
<path d="M230.3 910.6h0M236 910.6h0M247.4 910.6h0M281.5 910.6h0M298.6 910.6h0M310 910.6h0M349.8 910.6h0" stroke="#2E2E2E" stroke-width="3.7" stroke-linecap="round" fill="none"/>
<circle cx="337.5" cy="910.6" r="2.2" fill="#EA0000"/>
<rect x="139.2" y="963.9" width="45.6" height="12" fill="#BEBEBE" stroke="#2E2E2E" stroke-width="1.1"/>
<path d="M167.5 963.9v12" stroke="#2E2E2E" stroke-width="1.9"/>
<path d="M104 969.9L104 969.5C106.1 969.3 113.6 969.1 116.8 968.6C120 968.2 121 967.9 123.2 966.7C125.3 965.5 127.6 963.1 129.6 961.4C131.5 959.7 133.3 957.5 134.9 956.5C136.5 955.4 137.8 954.9 139.2 955C140.6 955.1 141.8 955.9 143.4 957.1C145 958.3 147 961.3 148.8 962.4C150.6 963.6 152.3 964.1 154.1 964.1C155.9 964.1 157.7 963.2 159.4 962.4C161.2 961.7 163 960.3 164.8 959.7C166.6 959 168.2 958.7 170.1 958.6C172.1 958.5 174 958.8 176.5 959.2C179 959.7 182.2 960.5 185 961.4C187.9 962.3 190.4 963.7 193.6 964.6C196.8 965.5 200.3 966.1 204.2 966.7C208.1 967.3 212.4 967.7 217 968.2C221.7 968.7 225.9 969.2 232 969.5C238 969.8 249.7 969.8 253.3 969.9L253.3 969.9Z" fill="#E78AC3" stroke="#2E2E2E" stroke-width="1.15" stroke-linejoin="round"/>
<path d="M88 969.9H366.8" stroke="#2E2E2E" stroke-width="1"/>
<path d="M258.8 969.9h0M264.5 969.9h0M270.1 969.9h0M287.2 969.9h0M292.9 969.9h0M315.7 969.9h0M366.9 969.9h0" stroke="#2E2E2E" stroke-width="3.7" stroke-linecap="round" fill="none"/>
<rect x="347.7" y="967.8" width="4.4" height="4.2" rx=".6" fill="#EA0000"/>
<rect x="133.4" y="1023.2" width="45.9" height="12" fill="#BEBEBE" stroke="#2E2E2E" stroke-width="1.1"/>
<path d="M162 1023.2v12" stroke="#2E2E2E" stroke-width="1.9"/>
<path d="M104 1029.2L104 1028.8C105.8 1028.6 112 1028.2 114.7 1027.5C117.3 1026.7 118.4 1025.7 120 1024.3C121.6 1022.9 122.8 1020.3 124.2 1019C125.7 1017.6 127.1 1016.6 128.5 1016.4C129.9 1016.2 131.4 1016.9 132.8 1017.9C134.2 1018.8 135.4 1021.2 137 1022.2C138.6 1023.1 140.4 1023.8 142.4 1023.9C144.3 1024 146.3 1023.4 148.8 1022.8C151.3 1022.2 154.6 1020.9 157.3 1020C160 1019.2 162.6 1018.2 164.8 1017.7C166.9 1017.2 168.2 1017 170.1 1017C172.1 1017.1 174 1017.4 176.5 1018.1C179 1018.8 182.2 1020.4 185 1021.5C187.9 1022.6 190.4 1023.8 193.6 1024.5C196.8 1025.2 201 1025.3 204.2 1025.8C207.4 1026.3 209.6 1027 212.8 1027.5C216 1028 218.8 1028.5 223.4 1028.8C228 1029 237.6 1029.1 240.5 1029.2L240.5 1029.2Z" fill="#8DA0CB" stroke="#2E2E2E" stroke-width="1.15" stroke-linejoin="round"/>
<path d="M93.7 1029.2H326.9" stroke="#2E2E2E" stroke-width="1"/>
<path d="M258.8 1029.2h0M292.9 1029.2h0M327.1 1029.2h0" stroke="#2E2E2E" stroke-width="3.7" stroke-linecap="round" fill="none"/>
<circle cx="298.5" cy="1029.2" r="2.2" fill="#EA0000"/>
<rect x="139.2" y="1082.5" width="34.3" height="12" fill="#BEBEBE" stroke="#2E2E2E" stroke-width="1.1"/>
<path d="M162 1082.5v12" stroke="#2E2E2E" stroke-width="1.9"/>
<path d="M104 1088.5L104 1088.1C106.1 1087.9 113.8 1087.9 116.8 1087.2C119.8 1086.5 120.3 1085.1 122.1 1084C123.9 1082.9 125.5 1081.4 127.4 1080.4C129.4 1079.3 132 1078.2 133.8 1077.6C135.7 1077 137.1 1076.4 138.5 1076.5C140 1076.7 141 1077.7 142.4 1078.7C143.7 1079.7 145.3 1081.7 146.6 1082.5C148 1083.3 149.1 1083.9 150.5 1083.6C151.9 1083.3 153.5 1082.2 155.2 1080.8C156.8 1079.5 158.9 1076.8 160.5 1075.5C162.1 1074.2 163.5 1073.4 164.8 1072.9C166 1072.4 166.7 1072.1 168 1072.3C169.2 1072.5 170.6 1072.9 172.2 1074C173.8 1075 175.6 1077.2 177.6 1078.7C179.5 1080.2 181.7 1081.9 184 1082.9C186.3 1084 188.1 1084.4 191.4 1085.1C194.8 1085.7 200 1086.3 204.2 1086.8C208.5 1087.2 212.4 1087.6 217 1087.8C221.7 1088.1 229.5 1088.4 232 1088.5L232 1088.5Z" fill="#FC8D62" stroke="#2E2E2E" stroke-width="1.15" stroke-linejoin="round"/>
<path d="M88 1088.5H298.5" stroke="#2E2E2E" stroke-width="1"/>
<path d="M230.3 1088.5h0M236 1088.5h0M241.7 1088.5h0M247.4 1088.5h0M253.1 1088.5h0M258.8 1088.5h0M281.5 1088.5h0M298.6 1088.5h0" stroke="#2E2E2E" stroke-width="3.7" stroke-linecap="round" fill="none"/>
<circle cx="284.4" cy="1088.5" r="2.2" fill="#EA0000"/>
</g>
<g>
<rect x="420.5" y="806.4" width="313.3" height="308.9" fill="#EBEBEB"/>
<path d="M446.5 806.4V1115.3M560.2 806.4V1115.3M673.9 806.4V1115.3" stroke="#fff" stroke-opacity=".9" stroke-width=".6" fill="none"/>
<path d="M503.3 806.4V1115.3M616.9 806.4V1115.3M730.8 806.4V1115.3M420.5 842H733.8M420.5 901.3H733.8M420.5 960.6H733.8M420.5 1019.9H733.8M420.5 1079.2H733.8" stroke="#fff" stroke-width="1.1" fill="none"/>
<path d="M503.3 1115.3v1.8M616.9 1115.3v1.8M730.8 1115.3v1.8M420.5 842h-1.8M420.5 901.3h-1.8M420.5 960.6h-1.8M420.5 1019.9h-1.8M420.5 1079.2h-1.8" stroke="#2E2E2E" stroke-width="1.1" fill="none"/>
<g font-size="6.2" fill="#4D4D4D" text-anchor="middle">
<text x="503.3" y="1122.9">10</text>
<text x="616.9" y="1122.9">20</text>
<text x="730.8" y="1122.9">30</text>
</g>
<g font-size="6.2" fill="#4D4D4D" text-anchor="end">
<text x="417.1" y="844.2">AFR</text>
<text x="417.1" y="903.5">AMR</text>
<text x="417.1" y="962.8">EAS</text>
<text x="417.1" y="1022.1">EUR</text>
<text x="417.1" y="1081.4">SAS</text>
</g>
<text x="577.2" y="801" font-size="9" text-anchor="middle" fill="#000">PPP2R2B</text>
<rect x="492" y="836" width="56.7" height="12" fill="#BEBEBE" stroke="#2E2E2E" stroke-width="1.1"/>
<path d="M503.3 836v12" stroke="#2E2E2E" stroke-width="1.9"/>
<path d="M468.9 842L468.9 841.8C470.3 841.6 475 841.5 477.4 840.5C479.9 839.6 481.7 837.3 483.8 835.9C486 834.4 488.1 832.7 490.2 831.8C492.4 830.9 494.7 830.5 496.6 830.3C498.6 830.2 500.2 830.3 502 831C503.8 831.6 505.4 832.8 507.3 834.4C509.3 835.9 511.6 838.9 513.7 840.1C515.8 841.3 518 841.4 520.1 841.6C522.2 841.8 524.4 841.8 526.5 841.2C528.6 840.6 530.8 839 532.9 838C535 837 537 835.8 539.3 835.2C541.6 834.6 544.3 834.3 546.8 834.4C549.3 834.5 551.9 835.1 554.2 835.9C556.5 836.6 558.1 837.7 560.6 838.6C563.1 839.5 565.6 840.7 569.2 841.2C572.7 841.7 576.3 841.7 582 841.8C587.6 842 599.7 842 603.3 842L603.3 842Z" fill="#FFD92F" stroke="#2E2E2E" stroke-width="1.15" stroke-linejoin="round"/>
<path d="M457.8 842H685.4" stroke="#2E2E2E" stroke-width="1"/>
<path d="M639.5 842h0M685.4 842h0" stroke="#2E2E2E" stroke-width="3.7" stroke-linecap="round" fill="none"/>
<rect x="634.1" y="839.9" width="4.4" height="4.2" rx=".6" fill="#EA0000"/>
<rect x="503.3" y="895.3" width="45.4" height="12" fill="#BEBEBE" stroke="#2E2E2E" stroke-width="1.1"/>
<path d="M503.7 895.3v12" stroke="#2E2E2E" stroke-width="1.9"/>
<path d="M480.6 901.3L480.6 900.9C481.9 900.6 486 900.2 488.1 898.8C490.2 897.4 491.7 894.4 493.4 892.4C495.2 890.3 497.2 887.8 498.8 886.4C500.4 885.1 501.6 884.3 503 884.3C504.5 884.3 505.7 884.9 507.3 886.4C508.9 887.9 510.9 891.3 512.6 893.4C514.4 895.6 516.2 898.1 518 899.2C519.8 900.3 521.5 900.4 523.3 900.3C525.1 900.1 526.9 899.1 528.6 898.4C530.4 897.6 532.2 896.2 534 895.6C535.7 894.9 537.3 894.4 539.3 894.5C541.3 894.6 543.2 895.6 545.7 896.2C548.2 896.8 551.4 897.9 554.2 898.1C557.1 898.4 560.1 897.9 562.8 897.7C565.4 897.5 567.7 896.9 570.2 897.1C572.7 897.2 575 898.2 577.7 898.8C580.4 899.3 582 900.1 586.2 900.5C590.5 900.9 600.4 901 603.3 901.1L603.3 901.3Z" fill="#A6D854" stroke="#2E2E2E" stroke-width="1.15" stroke-linejoin="round"/>
<path d="M480.6 901.3H628.5" stroke="#2E2E2E" stroke-width="1"/>
<path d="M628.5 901.3h0" stroke="#2E2E2E" stroke-width="3.7" stroke-linecap="round" fill="none"/>
<circle cx="625.7" cy="901.3" r="2.2" fill="#EA0000"/>
<rect x="503.3" y="954.6" width="68.3" height="12" fill="#BEBEBE" stroke="#2E2E2E" stroke-width="1.1"/>
<path d="M537.4 954.6v12" stroke="#2E2E2E" stroke-width="1.9"/>
<path d="M475.3 960.6L475.3 960.4C477.1 960.2 483.1 960 486 959.1C488.8 958.3 490.2 956.6 492.4 955.3C494.5 953.9 497 951.9 498.8 951C500.6 950.1 501.7 949.8 503.3 950C504.9 950.1 506.6 950.9 508.4 952.1C510.1 953.3 511.8 956.1 513.7 957.4C515.7 958.7 518 959.8 520.1 960C522.2 960.2 524.5 959.5 526.5 958.5C528.5 957.5 530.1 955.4 531.8 954.2C533.6 953.1 535.4 951.7 537.2 951.5C538.9 951.2 540.5 951.8 542.5 952.5C544.5 953.3 546.6 955.2 548.9 955.9C551.2 956.7 554.1 957 556.4 957C558.7 957 560.5 956.3 562.8 955.9C565.1 955.5 567.9 954.7 570.2 954.7C572.5 954.6 574 955.1 576.6 955.7C579.3 956.4 582.8 957.8 586.2 958.5C589.6 959.2 593.3 959.4 596.9 959.8C600.4 960.1 605.8 960.5 607.6 960.6L607.6 960.6Z" fill="#E78AC3" stroke="#2E2E2E" stroke-width="1.15" stroke-linejoin="round"/>
<path d="M435 960.6H673.9" stroke="#2E2E2E" stroke-width="1"/>
<rect x="652.7" y="958.5" width="4.4" height="4.2" rx=".6" fill="#EA0000"/>
<rect x="503.3" y="1013.9" width="34.1" height="12" fill="#BEBEBE" stroke="#2E2E2E" stroke-width="1.1"/>
<path d="M503.7 1013.9v12" stroke="#2E2E2E" stroke-width="1.9"/>
<path d="M492 1019.9L492 1017.8C492.4 1016.8 493.6 1014.6 494.5 1011.8C495.5 1009 496.6 1004 497.7 1001.2C498.8 998.3 500 996.1 500.9 994.8C501.8 993.4 502.4 993.2 503.3 993.3C504.1 993.3 505.2 993.5 506.2 995.2C507.3 996.9 508.2 1000.2 509.4 1003.3C510.7 1006.4 512.3 1011.4 513.7 1014C515.1 1016.5 516.2 1017.8 518 1018.6C519.8 1019.5 522.1 1019.3 524.4 1019.1C526.7 1018.8 529.3 1017.6 531.8 1017.2C534.3 1016.7 536.3 1016.6 539.3 1016.5C542.3 1016.4 546.8 1016.9 550 1016.7C553.2 1016.5 556 1015.4 558.5 1015.4C561 1015.5 562.4 1016.5 564.9 1017.2C567.4 1017.8 569.2 1018.8 573.4 1019.3C577.7 1019.7 587.6 1019.8 590.5 1019.9L590.5 1019.9Z" fill="#8DA0CB" stroke="#2E2E2E" stroke-width="1.15" stroke-linejoin="round"/>
<path d="M492 1019.9H719.5" stroke="#2E2E2E" stroke-width="1"/>
<path d="M594.3 1019.9h0M605.7 1019.9h0M617 1019.9h0M628.4 1019.9h0M719.5 1019.9h0" stroke="#2E2E2E" stroke-width="3.7" stroke-linecap="round" fill="none"/>
<circle cx="669" cy="1019.9" r="2.2" fill="#EA0000"/>
<rect x="503.3" y="1073.2" width="45.4" height="12" fill="#BEBEBE" stroke="#2E2E2E" stroke-width="1.1"/>
<path d="M537.4 1073.2v12" stroke="#2E2E2E" stroke-width="1.9"/>
<path d="M475.3 1079.2L475.3 1079C477.1 1078.8 483.1 1079 486 1077.9C488.8 1076.9 490.2 1074.5 492.4 1072.6C494.5 1070.8 497 1068.1 498.8 1066.8C500.6 1065.6 501.7 1065.3 503.3 1065.4C504.9 1065.4 506.6 1065.9 508.4 1067.3C510.1 1068.7 511.8 1071.9 513.7 1073.7C515.7 1075.5 518 1077.4 520.1 1077.9C522.2 1078.5 524.4 1077.7 526.5 1076.9C528.6 1076.1 530.9 1074.1 532.9 1073.2C534.9 1072.4 536.5 1072 538.2 1072C540 1072 541.6 1072.8 543.6 1073.2C545.5 1073.7 547.5 1074.3 550 1074.5C552.5 1074.7 556 1074.1 558.5 1074.3C561 1074.5 562.4 1075.2 564.9 1075.8C567.4 1076.4 570.6 1077.5 573.4 1077.9C576.3 1078.3 578.8 1078.2 582 1078.2C585.2 1078.1 589.1 1077.7 592.6 1077.7C596.2 1077.8 599.4 1078.3 603.3 1078.6C607.2 1078.8 614 1079.1 616.1 1079.2L616.1 1079.2Z" fill="#FC8D62" stroke="#2E2E2E" stroke-width="1.15" stroke-linejoin="round"/>
<path d="M435 1079.2H673.9" stroke="#2E2E2E" stroke-width="1"/>
<path d="M628.4 1079.2h0M639.8 1079.2h0M651.2 1079.2h0" stroke="#2E2E2E" stroke-width="3.7" stroke-linecap="round" fill="none"/>
<circle cx="673.9" cy="1079.2" r="2.5" fill="#EA0000"/>
</g>
<g>
<rect x="769.4" y="806.4" width="312.9" height="308.9" fill="#EBEBEB"/>
<path d="M809.5 806.4V1115.3M885.9 806.4V1115.3M962.2 806.4V1115.3M1038.6 806.4V1115.3" stroke="#fff" stroke-opacity=".9" stroke-width=".6" fill="none"/>
<path d="M771.4 806.4V1115.3M847.7 806.4V1115.3M924.1 806.4V1115.3M1000.4 806.4V1115.3M1076.8 806.4V1115.3M769.4 842H1082.3M769.4 901.3H1082.3M769.4 960.6H1082.3M769.4 1019.9H1082.3M769.4 1079.2H1082.3" stroke="#fff" stroke-width="1.1" fill="none"/>
<path d="M771.4 1115.3v1.8M847.7 1115.3v1.8M924.1 1115.3v1.8M1000.4 1115.3v1.8M1076.8 1115.3v1.8M769.4 842h-1.8M769.4 901.3h-1.8M769.4 960.6h-1.8M769.4 1019.9h-1.8M769.4 1079.2h-1.8" stroke="#2E2E2E" stroke-width="1.1" fill="none"/>
<g font-size="6.2" fill="#4D4D4D" text-anchor="middle">
<text x="771.4" y="1122.9">0</text>
<text x="847.7" y="1122.9">25</text>
<text x="924.1" y="1122.9">50</text>
<text x="1000.4" y="1122.9">75</text>
<text x="1076.8" y="1122.9">100</text>
</g>
<g font-size="6.2" fill="#4D4D4D" text-anchor="end">
<text x="766" y="844.2">AFR</text>
<text x="766" y="903.5">AMR</text>
<text x="766" y="962.8">EAS</text>
<text x="766" y="1022.1">EUR</text>
<text x="766" y="1081.4">SAS</text>
</g>
<text x="925.9" y="801" font-size="9" text-anchor="middle" fill="#000">RFC1</text>
<rect x="801.9" y="836" width="42.9" height="12" fill="#BEBEBE" stroke="#2E2E2E" stroke-width="1.1"/>
<path d="M808 836v12" stroke="#2E2E2E" stroke-width="1.9"/>
<path d="M789.7 842L789.7 834.8C790.3 833.5 792 829.8 793.3 827.3C794.6 824.8 796.3 821.7 797.6 819.9C798.8 818 799.8 816.8 800.8 816C801.8 815.3 802.5 815.1 803.6 815.4C804.6 815.7 805.9 816.4 807.2 817.7C808.5 819 809.9 821.1 811.5 823.1C813.1 825 815 827.6 816.8 829.5C818.6 831.3 820.3 832.9 822.1 834.2C823.9 835.4 825.1 836.2 827.4 836.9C829.8 837.7 833.1 838.1 836 838.6C838.8 839.2 841.3 839.7 844.5 840.1C847.7 840.5 850.6 840.9 855.2 841.2C859.8 841.4 866.6 841.6 872.2 841.6C877.9 841.7 883.6 841.5 889.3 841.4C895 841.3 900.7 841 906.4 840.8C912.1 840.5 917.7 840.3 923.4 840.1C929.1 839.9 935.5 839.7 940.5 839.7C945.5 839.7 949 839.9 953.3 840.1C957.6 840.4 961.8 840.9 966.1 841.2C970.4 841.5 973.9 841.7 978.9 841.8C983.9 842 993.1 842 995.9 842L995.9 842Z" fill="#FFD92F" stroke="#2E2E2E" stroke-width="1.15" stroke-linejoin="round"/>
<path d="M789.7 842H1064.8" stroke="#2E2E2E" stroke-width="1"/>
<path d="M910.6 842.9H970.4" stroke="#2E2E2E" stroke-width="1.2"/>
<path d="M969.9 842h0M972.9 842h0M976 842h0M979 842h0M982.1 842h0M985.2 842h0M988.2 842h0M991.3 842h0M994.3 842h0M997.4 842h0M1000.4 842h0M1003.5 842h0M1006.5 842h0M1009.6 842h0M1012.6 842h0M1064.6 842h0" stroke="#2E2E2E" stroke-width="3.7" stroke-linecap="round" fill="none"/>
<rect x="1019.3" y="839.9" width="4.4" height="4.2" rx=".6" fill="#EA0000"/>
<rect x="801.9" y="895.3" width="76.6" height="12" fill="#BEBEBE" stroke="#2E2E2E" stroke-width="1.1"/>
<path d="M805.1 895.3v12" stroke="#2E2E2E" stroke-width="1.9"/>
<path d="M789.7 901.3L789.7 889.8C790.3 889.2 791.8 887.2 793.3 886C794.8 884.7 797.1 883.1 798.7 882.4C800.3 881.6 801.5 881.4 802.9 881.5C804.3 881.6 805.6 881.9 807.2 882.8C808.8 883.7 810.7 885.5 812.5 887C814.3 888.6 816.1 890.5 817.9 892C819.6 893.4 821.2 894.9 823.2 896C825.1 897.1 827.1 898 829.6 898.8C832.1 899.5 834.6 900.2 838.1 900.5C841.7 900.8 845.9 900.7 850.9 900.7C855.9 900.7 861.6 900.6 868 900.5C874.4 900.3 882.9 900.1 889.3 899.8C895.7 899.6 900.7 899.2 906.4 899C912.1 898.8 917.7 898.6 923.4 898.6C929.1 898.5 934.8 898.6 940.5 898.8C946.2 899 952.6 899.3 957.6 899.6C962.5 899.9 965.7 900.2 970.4 900.5C975 900.7 982.8 901 985.3 901.1L985.3 901.3Z" fill="#A6D854" stroke="#2E2E2E" stroke-width="1.15" stroke-linejoin="round"/>
<path d="M789.7 901.3H1019" stroke="#2E2E2E" stroke-width="1"/>
<path d="M994.2 901.3h0M997.4 901.3h0M1000.6 901.3h0M1006.6 901.3h0M1015.8 901.3h0" stroke="#2E2E2E" stroke-width="3.7" stroke-linecap="round" fill="none"/>
<circle cx="1019" cy="901.3" r="2.5" fill="#EA0000"/>
<rect x="801.9" y="954.6" width="85.7" height="12" fill="#BEBEBE" stroke="#2E2E2E" stroke-width="1.1"/>
<path d="M805.1 954.6v12" stroke="#2E2E2E" stroke-width="1.9"/>
<path d="M792.7 960.6L792.7 946.8C793.3 945.9 795.2 943 796.5 941.9C797.9 940.7 799.5 940.2 800.8 939.7C802 939.3 802.7 939.1 804 939.3C805.2 939.5 806.7 939.8 808.3 941C809.9 942.3 811.8 944.7 813.6 946.8C815.4 948.8 817.1 951.4 818.9 953.2C820.7 954.9 822.5 956.4 824.2 957.4C826 958.5 827.3 959.1 829.6 959.6C831.9 960.1 834.6 960.4 838.1 960.4C841.7 960.4 845.9 959.8 850.9 959.6C855.9 959.3 861.6 959 868 958.7C874.4 958.5 882.2 958.2 889.3 958.1C896.4 957.9 904.2 957.7 910.6 957.6C917 957.6 922 957.7 927.7 957.9C933.4 958 939.1 958.4 944.8 958.7C950.4 959 956.1 959.5 961.8 959.8C967.5 960.1 971.4 960.3 978.9 960.4C986.3 960.6 1002 960.6 1006.6 960.6L1006.6 960.6Z" fill="#E78AC3" stroke="#2E2E2E" stroke-width="1.15" stroke-linejoin="round"/>
<path d="M792.7 960.6H1034.3" stroke="#2E2E2E" stroke-width="1"/>
<path d="M1034.3 960.6h0" stroke="#2E2E2E" stroke-width="3.7" stroke-linecap="round" fill="none"/>
<rect x="1008.7" y="958.5" width="4.4" height="4.2" rx=".6" fill="#EA0000"/>
<rect x="801.9" y="1013.9" width="119.7" height="12" fill="#BEBEBE" stroke="#2E2E2E" stroke-width="1.1"/>
<path d="M808 1013.9v12" stroke="#2E2E2E" stroke-width="1.9"/>
<path d="M783.5 1019.9L783.5 1014C784.3 1013.4 786.2 1011.8 788 1010.8C789.8 1009.7 792.3 1008.3 794.4 1007.6C796.5 1006.8 798.8 1006.5 800.8 1006.3C802.7 1006.1 804.2 1006 806.1 1006.5C808.1 1007 810.4 1008.1 812.5 1009.3C814.7 1010.4 816.8 1012.1 818.9 1013.3C821 1014.5 823.2 1015.6 825.3 1016.5C827.4 1017.4 829.2 1018.1 831.7 1018.6C834.2 1019.1 836.3 1019.4 840.2 1019.5C844.2 1019.6 849.8 1019.3 855.2 1019.1C860.5 1018.9 866.6 1018.5 872.2 1018.2C877.9 1018 883.6 1017.9 889.3 1017.6C895 1017.3 900.7 1016.9 906.4 1016.5C912.1 1016.2 918.5 1015.6 923.4 1015.4C928.4 1015.3 931.2 1015.3 936.2 1015.4C941.2 1015.6 947.6 1016.1 953.3 1016.5C959 1016.9 964.7 1017.4 970.4 1017.8C976 1018.2 981.4 1018.6 987.4 1018.9C993.5 1019.1 998.1 1019.3 1006.6 1019.5C1015.1 1019.7 1033.3 1019.9 1038.6 1019.9L1038.6 1019.9Z" fill="#8DA0CB" stroke="#2E2E2E" stroke-width="1.15" stroke-linejoin="round"/>
<path d="M783.5 1019.9H1068" stroke="#2E2E2E" stroke-width="1"/>
<circle cx="1058.2" cy="1019.9" r="2.2" fill="#EA0000"/>
<rect x="801.9" y="1073.2" width="107.5" height="12" fill="#BEBEBE" stroke="#2E2E2E" stroke-width="1.1"/>
<path d="M805.1 1073.2v12" stroke="#2E2E2E" stroke-width="1.9"/>
<path d="M792.7 1079.2L792.7 1066.2C793.3 1065.7 795.2 1063.8 796.5 1063C797.9 1062.2 799.4 1061.8 800.8 1061.5C802.2 1061.2 803.6 1061.1 805.1 1061.3C806.5 1061.6 807.7 1062 809.3 1063C810.9 1064 812.9 1065.7 814.7 1067.3C816.4 1068.8 818.2 1070.8 820 1072.2C821.8 1073.5 823.4 1074.4 825.3 1075.4C827.3 1076.3 829.2 1077.3 831.7 1077.9C834.2 1078.5 836.3 1078.9 840.2 1079C844.2 1079.1 849.8 1078.8 855.2 1078.6C860.5 1078.4 866.6 1078.2 872.2 1077.9C877.9 1077.7 883.6 1077.5 889.3 1077.3C895 1077 900.7 1076.7 906.4 1076.4C912.1 1076.2 918.5 1075.7 923.4 1075.6C928.4 1075.5 931.2 1075.5 936.2 1075.6C941.2 1075.7 947.6 1076.1 953.3 1076.4C959 1076.8 964.7 1077.4 970.4 1077.7C976 1078.1 981.4 1078.4 987.4 1078.6C993.5 1078.8 998.1 1078.9 1006.6 1079C1015.1 1079.1 1033.3 1079.2 1038.6 1079.2L1038.6 1079.2Z" fill="#FC8D62" stroke="#2E2E2E" stroke-width="1.15" stroke-linejoin="round"/>
<path d="M792.7 1079.2H1052.7" stroke="#2E2E2E" stroke-width="1"/>
<circle cx="1041.8" cy="1079.2" r="2.2" fill="#EA0000"/>
</g>
<g>
<rect x="1115.5" y="806.4" width="312.9" height="308.9" fill="#EBEBEB"/>
<path d="M1129.6 806.4V1115.3M1190.2 806.4V1115.3M1250.7 806.4V1115.3M1311.3 806.4V1115.3M1371.9 806.4V1115.3" stroke="#fff" stroke-opacity=".9" stroke-width=".6" fill="none"/>
<path d="M1159.9 806.4V1115.3M1220.4 806.4V1115.3M1281 806.4V1115.3M1341.6 806.4V1115.3M1402.2 806.4V1115.3M1115.5 842H1428.4M1115.5 901.3H1428.4M1115.5 960.6H1428.4M1115.5 1019.9H1428.4M1115.5 1079.2H1428.4" stroke="#fff" stroke-width="1.1" fill="none"/>
<path d="M1159.9 1115.3v1.8M1220.4 1115.3v1.8M1281 1115.3v1.8M1341.6 1115.3v1.8M1402.2 1115.3v1.8M1115.5 842h-1.8M1115.5 901.3h-1.8M1115.5 960.6h-1.8M1115.5 1019.9h-1.8M1115.5 1079.2h-1.8" stroke="#2E2E2E" stroke-width="1.1" fill="none"/>
<g font-size="6.2" fill="#4D4D4D" text-anchor="middle">
<text x="1159.9" y="1122.9">10</text>
<text x="1220.4" y="1122.9">20</text>
<text x="1281" y="1122.9">30</text>
<text x="1341.6" y="1122.9">40</text>
<text x="1402.2" y="1122.9">50</text>
</g>
<g font-size="6.2" fill="#4D4D4D" text-anchor="end">
<text x="1112.1" y="844.2">AFR</text>
<text x="1112.1" y="903.5">AMR</text>
<text x="1112.1" y="962.8">EAS</text>
<text x="1112.1" y="1022.1">EUR</text>
<text x="1112.1" y="1081.4">SAS</text>
</g>
<text x="1271.9" y="801" font-size="9" text-anchor="middle" fill="#000">TBP</text>
<rect x="1305.3" y="836" width="12.2" height="12" fill="#BEBEBE" stroke="#2E2E2E" stroke-width="1.1"/>
<path d="M1311.3 836v12" stroke="#2E2E2E" stroke-width="1.9"/>
<path d="M1285.5 842L1285.5 841.8C1286.2 841.8 1293 841.4 1294 841.2C1295.1 841 1297.6 839.7 1298.3 839.5C1299 839.3 1301.9 838.9 1302.6 838.6C1303.2 838.4 1305.2 836.8 1305.8 836.5C1306.3 836.2 1308.5 835.5 1309 835.2C1309.4 834.9 1310.9 832.7 1311.3 832.7C1311.7 832.7 1313.2 834.8 1313.6 835.2C1314.1 835.7 1315.9 837.6 1316.4 838C1316.9 838.3 1319 839.5 1319.6 839.5C1320.2 839.5 1322.9 837.9 1323.5 838C1324 838 1325.4 839.9 1326 840.1C1326.6 840.4 1329.4 841 1330.3 841.2C1331.2 841.3 1335.8 841.8 1336.7 841.8C1337.6 841.9 1340.6 842 1340.9 842L1340.9 842Z" fill="#FFD92F" stroke="#2E2E2E" stroke-width="1.15" stroke-linejoin="round"/>
<path d="M1202.3 842H1347.8" stroke="#2E2E2E" stroke-width="1"/>
<path d="M1202.3 842h0M1208.3 842h0M1214.4 842h0M1232.6 842h0M1244.7 842h0M1250.7 842h0M1256.8 842h0M1268.9 842h0M1281 842h0M1341.6 842h0" stroke="#2E2E2E" stroke-width="3.7" stroke-linecap="round" fill="none"/>
<circle cx="1347.8" cy="842" r="2.5" fill="#EA0000"/>
<rect x="1317.5" y="895.3" width="11.9" height="12" fill="#BEBEBE" stroke="#2E2E2E" stroke-width="1.1"/>
<path d="M1323.5 895.3v12" stroke="#2E2E2E" stroke-width="1.9"/>
<path d="M1304.7 901.3L1304.7 901.1C1305.2 901 1310.2 900.1 1311.1 899.8C1312 899.6 1314.7 898.1 1315.4 897.7C1316 897.3 1318 895.4 1318.6 894.9C1319.1 894.5 1321.3 892.7 1321.7 892.4C1322.2 892.1 1323.1 891.4 1323.5 891.5C1323.8 891.6 1325.2 893.1 1325.6 893.4C1326 893.7 1327.7 895 1328.1 895.2C1328.6 895.3 1330.3 895.3 1330.7 895.6C1331.2 895.9 1332.9 898.4 1333.5 898.8C1334.1 899.2 1336.9 900.5 1337.7 900.7C1338.5 900.9 1342.6 901.3 1343.1 901.3L1343.1 901.3Z" fill="#A6D854" stroke="#2E2E2E" stroke-width="1.15" stroke-linejoin="round"/>
<path d="M1129.6 901.3H1347.8" stroke="#2E2E2E" stroke-width="1"/>
<path d="M1129.6 901.3h0M1214.4 901.3h0M1238.6 901.3h0M1244.7 901.3h0M1250.7 901.3h0M1256.8 901.3h0M1268.9 901.3h0M1275 901.3h0M1281 901.3h0M1287.1 901.3h0M1293.1 901.3h0" stroke="#2E2E2E" stroke-width="3.7" stroke-linecap="round" fill="none"/>
<circle cx="1347.8" cy="901.3" r="2.5" fill="#EA0000"/>
<rect x="1316.8" y="954.6" width="6.6" height="12" fill="#BEBEBE" stroke="#2E2E2E" stroke-width="1.1"/>
<path d="M1317.5 954.6v12" stroke="#2E2E2E" stroke-width="1.9"/>
<path d="M1307.5 960.6L1307.5 960.6L1308.3 960.6L1308.7 960.6L1309.2 960.5L1309.6 960.3L1310 960L1310.4 959.7L1310.9 959.4L1311.3 959.4L1311.7 959.4L1312.2 959.7L1312.6 960L1313 960.2L1313.4 960.3L1313.9 960.1L1314.3 959.5L1314.7 958.1L1315.1 955.7L1315.6 952.1L1316 947.3L1316.4 942.1L1316.8 937.5L1317.3 934.8L1317.7 934.8L1318.1 937.5L1318.6 942.1L1319 947.3L1319.4 952L1319.8 955.5L1320.3 957.6L1320.7 958.4L1321.1 958.1L1321.5 956.8L1322 954.8L1322.4 952.6L1322.8 950.6L1323.2 949.5L1323.7 949.5L1324.1 950.7L1324.5 952.6L1324.9 954.9L1325.4 957L1325.8 958.5L1326.2 959.5L1326.7 960L1327.1 960L1327.5 959.7L1327.9 959L1328.4 958L1328.8 957.1L1329.2 956.4L1329.6 956.4L1330.1 957.1L1330.5 958L1330.9 959L1331.3 959.8L1331.8 960.3L1332.2 960.5L1332.6 960.6L1333.5 960.6L1333.5 960.6Z" fill="#E78AC3" stroke="#2E2E2E" stroke-width="1.15" stroke-linejoin="round"/>
<path d="M1196.1 960.6H1414.3" stroke="#2E2E2E" stroke-width="1"/>
<path d="M1196.2 960.6h0M1208.3 960.6h0M1214.4 960.6h0M1232.6 960.6h0M1244.7 960.6h0M1256.8 960.6h0M1268.9 960.6h0M1275 960.6h0M1281 960.6h0M1287.1 960.6h0M1293.1 960.6h0M1299.2 960.6h0M1305.2 960.6h0M1335.5 960.6h0M1341.6 960.6h0M1347.6 960.6h0M1359.8 960.6h0M1414.3 960.6h0" stroke="#2E2E2E" stroke-width="3.7" stroke-linecap="round" fill="none"/>
<circle cx="1371.9" cy="960.6" r="2.2" fill="#EA0000"/>
<rect x="1317.5" y="1013.9" width="11.9" height="12" fill="#BEBEBE" stroke="#2E2E2E" stroke-width="1.1"/>
<path d="M1323.5 1013.9v12" stroke="#2E2E2E" stroke-width="1.9"/>
<path d="M1298.3 1019.9L1298.3 1019.7C1299 1019.6 1305.7 1019.1 1306.8 1018.9C1308 1018.6 1311.4 1017.5 1312.2 1017.2C1313 1016.8 1315.8 1014.6 1316.4 1014.4C1317 1014.1 1319 1014 1319.6 1014C1320.2 1013.9 1322.9 1013.7 1323.5 1013.5C1324 1013.4 1325.5 1012.5 1326 1012.2C1326.5 1012 1328.9 1010.1 1329.4 1010.1C1329.9 1010.2 1331.6 1012.3 1332 1012.9C1332.4 1013.5 1334 1016.6 1334.5 1017.2C1335.1 1017.7 1337.9 1018.9 1338.8 1019.1C1339.7 1019.3 1344.1 1019.6 1345.2 1019.7C1346.3 1019.8 1351.1 1019.9 1351.6 1019.9L1351.6 1019.9Z" fill="#8DA0CB" stroke="#2E2E2E" stroke-width="1.15" stroke-linejoin="round"/>
<path d="M1196.1 1019.9H1359.7" stroke="#2E2E2E" stroke-width="1"/>
<path d="M1196.2 1019.9h0M1208.3 1019.9h0M1214.4 1019.9h0M1250.7 1019.9h0M1256.8 1019.9h0M1262.8 1019.9h0M1268.9 1019.9h0M1275 1019.9h0M1281 1019.9h0M1287.1 1019.9h0M1293.1 1019.9h0M1359.8 1019.9h0" stroke="#2E2E2E" stroke-width="3.7" stroke-linecap="round" fill="none"/>
<rect x="1351.5" y="1017.8" width="4.4" height="4.2" rx=".6" fill="#EA0000"/>
<rect x="1317.5" y="1073.2" width="11.9" height="12" fill="#BEBEBE" stroke="#2E2E2E" stroke-width="1.1"/>
<path d="M1323.5 1073.2v12" stroke="#2E2E2E" stroke-width="1.9"/>
<path d="M1298.3 1079.2L1298.3 1079C1299 1079 1305.7 1078.6 1306.8 1078.4C1308 1078.1 1311.4 1076.6 1312.2 1076.2C1313 1075.8 1315.8 1073.9 1316.4 1073.7C1317 1073.5 1319 1073.9 1319.6 1073.7C1320.2 1073.5 1322.9 1071.5 1323.5 1071.5C1324 1071.5 1325.5 1073.5 1326 1073.7C1326.5 1073.9 1328.9 1073.9 1329.4 1074.1C1330 1074.3 1331.8 1075.9 1332.4 1076.2C1333 1076.6 1335.8 1077.7 1336.7 1077.9C1337.6 1078.2 1341.8 1078.9 1343.1 1079C1344.3 1079.1 1350.9 1079.2 1351.6 1079.2L1351.6 1079.2Z" fill="#FC8D62" stroke="#2E2E2E" stroke-width="1.15" stroke-linejoin="round"/>
<path d="M1220.4 1079.2H1371.9" stroke="#2E2E2E" stroke-width="1"/>
<path d="M1220.4 1079.2h0M1226.5 1079.2h0M1244.7 1079.2h0M1250.7 1079.2h0M1256.8 1079.2h0M1262.8 1079.2h0M1275 1079.2h0M1281 1079.2h0M1287.1 1079.2h0M1293.1 1079.2h0M1353.7 1079.2h0" stroke="#2E2E2E" stroke-width="3.7" stroke-linecap="round" fill="none"/>
<circle cx="1371.9" cy="1079.2" r="2.5" fill="#EA0000"/>
</g>
<g>
<rect x="1464.6" y="807.1" width="312.7" height="313.6" fill="#EBEBEB"/>
<path d="M1478.8 807.1V1120.7M1536.4 807.1V1120.7M1594.2 807.1V1120.7M1651.8 807.1V1120.7M1709.6 807.1V1120.7M1767.4 807.1V1120.7" stroke="#fff" stroke-opacity=".9" stroke-width=".6" fill="none"/>
<path d="M1507.6 807.1V1120.7M1565.2 807.1V1120.7M1623 807.1V1120.7M1680.8 807.1V1120.7M1738.4 807.1V1120.7M1464.6 843.5H1777.2M1464.6 903.7H1777.2M1464.6 963.8H1777.2M1464.6 1024H1777.2M1464.6 1084.1H1777.2" stroke="#fff" stroke-width="1.1" fill="none"/>
<path d="M1507.6 1120.7v1.8M1565.2 1120.7v1.8M1623 1120.7v1.8M1680.8 1120.7v1.8M1738.4 1120.7v1.8M1464.6 843.5h-1.8M1464.6 903.7h-1.8M1464.6 963.8h-1.8M1464.6 1024h-1.8M1464.6 1084.1h-1.8" stroke="#2E2E2E" stroke-width="1.1" fill="none"/>
<g font-size="6.2" fill="#4D4D4D" text-anchor="middle">
<text x="1507.6" y="1128.3">10</text>
<text x="1565.2" y="1128.3">20</text>
<text x="1623" y="1128.3">30</text>
<text x="1680.8" y="1128.3">40</text>
<text x="1738.4" y="1128.3">50</text>
</g>
<g font-size="6.2" fill="#4D4D4D" text-anchor="end">
<text x="1461.2" y="845.7">AFR</text>
<text x="1461.2" y="905.9">AMR</text>
<text x="1461.2" y="966">EAS</text>
<text x="1461.2" y="1026.2">EUR</text>
<text x="1461.2" y="1086.3">SAS</text>
</g>
<text x="1622.7" y="802" font-size="9" text-anchor="middle" fill="#000">FMR1</text>
<rect x="1617.3" y="837.5" width="11.5" height="12" fill="#BEBEBE" stroke="#2E2E2E" stroke-width="1.1"/>
<path d="M1623 837.5v12" stroke="#2E2E2E" stroke-width="1.9"/>
<path d="M1600.6 843.5L1600.6 843.3C1601.3 843.2 1608.1 842.5 1609.2 842.3C1610.2 842 1612.8 840.6 1613.4 840.1C1614 839.7 1616.1 837.2 1616.6 836.9C1617.2 836.7 1619.3 837.4 1619.8 837.3C1620.4 837.3 1622.5 836 1623 836.1C1623.6 836.1 1625.7 837.6 1626.2 837.8C1626.8 838 1628.9 838 1629.4 838.2C1630 838.5 1632 840.4 1632.6 840.8C1633.2 841.1 1636 842.5 1636.9 842.7C1637.8 842.9 1642.8 843.3 1643.3 843.3L1643.3 843.5Z" fill="#FFD92F" stroke="#2E2E2E" stroke-width="1.15" stroke-linejoin="round"/>
<path d="M1501.9 843.5H1767.4" stroke="#2E2E2E" stroke-width="1"/>
<path d="M1501.9 843.5h0M1507.6 843.5h0M1513.4 843.5h0M1519.2 843.5h0M1525 843.5h0M1542.3 843.5h0M1548 843.5h0M1553.8 843.5h0M1559.6 843.5h0M1565.4 843.5h0M1571.1 843.5h0M1576.9 843.5h0M1582.7 843.5h0M1588.4 843.5h0M1594.2 843.5h0M1651.9 843.5h0M1657.7 843.5h0M1663.5 843.5h0M1669.2 843.5h0M1675 843.5h0M1680.8 843.5h0M1686.6 843.5h0M1692.3 843.5h0M1698.1 843.5h0M1703.9 843.5h0M1709.6 843.5h0M1715.4 843.5h0M1721.2 843.5h0M1727 843.5h0M1744.3 843.5h0M1750 843.5h0M1767.4 843.5h0" stroke="#2E2E2E" stroke-width="3.7" stroke-linecap="round" fill="none"/>
<circle cx="1757.4" cy="843.5" r="2.5" fill="#EA0000"/>
<rect x="1617.3" y="897.7" width="5.8" height="12" fill="#BEBEBE" stroke="#2E2E2E" stroke-width="1.1"/>
<path d="M1617.7 897.7v12" stroke="#2E2E2E" stroke-width="1.9"/>
<path d="M1560.6 903.7L1560.6 903.7L1561.5 903.7L1561.9 903.6L1562.3 903.5L1562.8 903.4L1563.2 903.1L1563.6 902.7L1564 902.3L1564.5 901.9L1564.9 901.6L1565.3 901.6L1565.7 901.7L1566.2 902.1L1566.6 902.5L1567 902.9L1567.4 903.2L1567.9 903.4L1568.3 903.6L1568.7 903.6L1569.1 903.7L1611.8 903.7L1612.2 903.6L1612.7 903.5L1613.1 903.4L1613.5 903L1613.9 902.3L1614.4 901.2L1614.8 899.5L1615.2 897.2L1615.6 894.5L1616.1 891.6L1616.5 889.1L1616.9 887.5L1617.4 887.1L1617.8 888L1618.2 889.9L1618.6 892.5L1619.1 895.1L1619.5 897.2L1619.9 898.3L1620.3 898.4L1620.8 897.3L1621.2 895.3L1621.6 892.8L1622 890.2L1622.5 888.1L1622.9 887.1L1623.3 887.4L1623.8 888.9L1624.2 891.3L1624.6 894.2L1625 896.9L1625.5 899.3L1625.9 901L1626.3 902.1L1626.7 902.7L1627.2 902.8L1627.6 902.6L1628 902.3L1628.4 902L1628.9 902L1629.3 902.2L1629.7 902.5L1630.1 902.9L1630.6 903.3L1631 903.5L1631.4 903.6L1631.9 903.7L1632.7 903.7L1632.7 903.7Z" fill="#A6D854" stroke="#2E2E2E" stroke-width="1.15" stroke-linejoin="round"/>
<path d="M1536.4 903.7H1761.7" stroke="#2E2E2E" stroke-width="1"/>
<path d="M1536.5 903.7h0M1565.4 903.7h0M1571.1 903.7h0M1576.9 903.7h0M1582.7 903.7h0M1588.4 903.7h0M1594.2 903.7h0M1605.8 903.7h0M1634.6 903.7h0M1640.4 903.7h0M1646.2 903.7h0M1651.9 903.7h0M1657.7 903.7h0M1663.5 903.7h0M1669.2 903.7h0M1675 903.7h0M1680.8 903.7h0M1686.6 903.7h0M1692.3 903.7h0M1698.1 903.7h0M1703.9 903.7h0M1727 903.7h0M1750 903.7h0M1761.6 903.7h0" stroke="#2E2E2E" stroke-width="3.7" stroke-linecap="round" fill="none"/>
<rect x="1755.2" y="901.6" width="4.4" height="4.2" rx=".6" fill="#EA0000"/>
<rect x="1617.3" y="957.8" width="5.8" height="12" fill="#BEBEBE" stroke="#2E2E2E" stroke-width="1.1"/>
<path d="M1617.7 957.8v12" stroke="#2E2E2E" stroke-width="1.9"/>
<path d="M1612.7 963.8L1612.7 963.8L1613.1 963.7L1613.5 963.5L1613.9 962.9L1614.4 961.8L1614.8 959.7L1615.2 956.3L1615.6 951.7L1616.1 946.3L1616.5 941.2L1616.9 937.7L1617.4 936.8L1617.8 938.8L1618.2 943.1L1618.6 948.5L1619.1 953.6L1619.5 957.5L1619.9 960L1620.3 960.9L1620.8 960.5L1621.2 959L1621.6 956.8L1622 954.3L1622.5 952.2L1622.9 951.1L1623.3 951.4L1623.8 952.9L1624.2 955.3L1624.6 957.8L1625 960.1L1625.5 961.7L1625.9 962.8L1626.3 963.4L1626.7 963.6L1627.2 963.8L1627.6 963.8L1654 963.8L1654.5 963.8L1654.9 963.7L1655.3 963.4L1655.7 962.9L1656.2 962L1656.6 961L1657 960.1L1657.5 959.6L1657.9 959.7L1658.3 960.4L1658.7 961.4L1659.2 962.4L1659.6 963.1L1660 963.5L1660.4 963.7L1660.9 963.8L1661.7 963.8L1661.7 963.8Z" fill="#E78AC3" stroke="#2E2E2E" stroke-width="1.15" stroke-linejoin="round"/>
<path d="M1496.1 963.8H1755.9" stroke="#2E2E2E" stroke-width="1"/>
<path d="M1496.1 963.8h0M1507.6 963.8h0M1542.3 963.8h0M1548 963.8h0M1559.6 963.8h0M1565.4 963.8h0M1571.1 963.8h0M1582.7 963.8h0M1588.4 963.8h0M1594.2 963.8h0M1600 963.8h0M1605.8 963.8h0M1634.6 963.8h0M1640.4 963.8h0M1646.2 963.8h0M1651.9 963.8h0M1657.7 963.8h0M1663.5 963.8h0M1669.2 963.8h0M1675 963.8h0M1680.8 963.8h0M1686.6 963.8h0M1692.3 963.8h0M1698.1 963.8h0M1709.6 963.8h0M1721.2 963.8h0M1727 963.8h0M1755.8 963.8h0" stroke="#2E2E2E" stroke-width="3.7" stroke-linecap="round" fill="none"/>
<rect x="1748.8" y="961.7" width="4.4" height="4.2" rx=".6" fill="#EA0000"/>
<rect x="1617.3" y="1018" width="5.8" height="12" fill="#BEBEBE" stroke="#2E2E2E" stroke-width="1.1"/>
<path d="M1622.6 1018v12" stroke="#2E2E2E" stroke-width="1.9"/>
<path d="M1561.4 1024L1561.4 1024L1561.8 1024L1562.2 1023.9L1562.7 1023.8L1563.1 1023.6L1563.5 1023.1L1563.9 1022.5L1564.4 1021.8L1564.8 1021.2L1565.2 1021L1565.7 1021.2L1566.1 1021.8L1566.5 1022.5L1566.9 1023.1L1567.4 1023.6L1567.8 1023.8L1568.2 1023.9L1568.6 1024L1579.3 1024L1579.7 1023.9L1580.2 1023.8L1580.6 1023.5L1581 1023L1581.4 1022.2L1581.9 1021.3L1582.3 1020.6L1582.7 1020.4L1583.1 1020.6L1583.6 1021.3L1584 1022.2L1584.4 1023L1584.8 1023.5L1585.3 1023.8L1585.7 1023.9L1586.1 1024L1613 1024L1613.4 1023.9L1613.9 1023.8L1614.3 1023.6L1614.7 1023.1L1615.1 1022.4L1615.6 1021.3L1616 1020.1L1616.4 1018.9L1616.8 1017.9L1617.3 1017.6L1617.7 1017.9L1618.1 1018.8L1618.5 1020.1L1619 1021.2L1619.4 1022L1619.8 1022.3L1620.3 1021.8L1620.7 1020.3L1621.1 1017.8L1621.5 1014.4L1622 1010.7L1622.4 1007.4L1622.8 1005.5L1623.2 1005.5L1623.7 1007.4L1624.1 1010.7L1624.5 1014.5L1624.9 1017.9L1625.4 1020.5L1625.8 1022.1L1626.2 1022.9L1626.7 1023.1L1627.1 1022.8L1627.5 1022.2L1627.9 1021.3L1628.4 1020.6L1628.8 1020.4L1629.2 1020.6L1629.6 1021.3L1630.1 1022.2L1630.5 1023L1630.9 1023.5L1631.3 1023.7L1631.8 1023.8L1632.2 1023.8L1632.6 1023.5L1633.1 1023.2L1633.5 1022.7L1633.9 1022.2L1634.3 1021.9L1634.8 1021.9L1635.2 1022.2L1635.6 1022.7L1636 1023.2L1636.5 1023.6L1636.9 1023.8L1637.3 1023.9L1637.7 1024L1638.6 1024L1638.6 1024Z" fill="#8DA0CB" stroke="#2E2E2E" stroke-width="1.15" stroke-linejoin="round"/>
<path d="M1496.1 1024H1767.4" stroke="#2E2E2E" stroke-width="1"/>
<path d="M1496.1 1024h0M1507.6 1024h0M1519.2 1024h0M1536.5 1024h0M1542.3 1024h0M1548 1024h0M1559.6 1024h0M1565.4 1024h0M1571.1 1024h0M1576.9 1024h0M1582.7 1024h0M1588.4 1024h0M1594.2 1024h0M1600 1024h0M1605.8 1024h0M1634.6 1024h0M1640.4 1024h0M1646.2 1024h0M1651.9 1024h0M1657.7 1024h0M1663.5 1024h0M1669.2 1024h0M1675 1024h0M1680.8 1024h0M1686.6 1024h0M1692.3 1024h0M1698.1 1024h0M1703.9 1024h0M1709.6 1024h0M1715.4 1024h0M1721.2 1024h0M1750 1024h0M1755.8 1024h0M1767.4 1024h0" stroke="#2E2E2E" stroke-width="3.7" stroke-linecap="round" fill="none"/>
<rect x="1757.3" y="1021.9" width="4.4" height="4.2" rx=".6" fill="#EA0000"/>
<rect x="1617.3" y="1078.1" width="5.8" height="12" fill="#BEBEBE" stroke="#2E2E2E" stroke-width="1.1"/>
<path d="M1617.7 1078.1v12" stroke="#2E2E2E" stroke-width="1.9"/>
<path d="M1611.9 1084.1L1611.9 1084.1L1612.5 1084L1613.1 1083.9L1613.7 1083.4L1614.3 1082.3L1614.9 1080.4L1615.5 1077.7L1616.1 1074.5L1616.7 1071.9L1617.3 1070.9L1617.9 1071.9L1618.5 1074.3L1619.1 1077.1L1619.7 1078.9L1620.3 1078.8L1620.8 1076.6L1621.4 1072.6L1622 1068.2L1622.6 1065.1L1623.2 1064.7L1623.8 1067.2L1624.4 1071.5L1625 1076.2L1625.6 1079.8L1626.2 1082.1L1626.8 1083.4L1627.4 1083.9L1628 1084.1L1628.6 1084.1L1628.6 1084.1Z" fill="#FC8D62" stroke="#2E2E2E" stroke-width="1.15" stroke-linejoin="round"/>
<path d="M1478.8 1084.1H1767.4" stroke="#2E2E2E" stroke-width="1"/>
<path d="M1478.8 1084.1h0M1519.2 1084.1h0M1525 1084.1h0M1553.8 1084.1h0M1559.6 1084.1h0M1565.4 1084.1h0M1571.1 1084.1h0M1576.9 1084.1h0M1582.7 1084.1h0M1588.4 1084.1h0M1600 1084.1h0M1605.8 1084.1h0M1634.6 1084.1h0M1640.4 1084.1h0M1646.2 1084.1h0M1651.9 1084.1h0M1657.7 1084.1h0M1663.5 1084.1h0M1669.2 1084.1h0M1675 1084.1h0M1680.8 1084.1h0M1686.6 1084.1h0M1698.1 1084.1h0M1715.4 1084.1h0M1721.2 1084.1h0M1750 1084.1h0M1767.4 1084.1h0" stroke="#2E2E2E" stroke-width="3.7" stroke-linecap="round" fill="none"/>
<rect x="1756.9" y="1082" width="4.4" height="4.2" rx=".6" fill="#EA0000"/>
</g>
<g>
<rect x="1807.3" y="805.5" width="312" height="307" fill="#EBEBEB"/>
<path d="M1848.7 805.5V1112.5M1928.3 805.5V1112.5M2007.6 805.5V1112.5M2087.2 805.5V1112.5" stroke="#fff" stroke-opacity=".9" stroke-width=".6" fill="none"/>
<path d="M1809.1 805.5V1112.5M1888.4 805.5V1112.5M1968 805.5V1112.5M2047.5 805.5V1112.5M1807.3 840.9H2119.4M1807.3 899.7H2119.4M1807.3 958.6H2119.4M1807.3 1017.5H2119.4M1807.3 1076.4H2119.4" stroke="#fff" stroke-width="1.1" fill="none"/>
<path d="M1809.1 1112.5v1.8M1888.4 1112.5v1.8M1968 1112.5v1.8M2047.5 1112.5v1.8M1807.3 840.9h-1.8M1807.3 899.7h-1.8M1807.3 958.6h-1.8M1807.3 1017.5h-1.8M1807.3 1076.4h-1.8" stroke="#2E2E2E" stroke-width="1.1" fill="none"/>
<g font-size="6.2" fill="#4D4D4D" text-anchor="middle">
<text x="1809.1" y="1120.1">0</text>
<text x="1888.4" y="1120.1">25</text>
<text x="1968" y="1120.1">50</text>
<text x="2047.5" y="1120.1">75</text>
</g>
<g font-size="6.2" fill="#4D4D4D" text-anchor="end">
<text x="1803.9" y="843.1">AFR</text>
<text x="1803.9" y="901.9">AMR</text>
<text x="1803.9" y="960.8">EAS</text>
<text x="1803.9" y="1019.7">EUR</text>
<text x="1803.9" y="1078.6">SAS</text>
</g>
<text x="1963.4" y="800" font-size="9" text-anchor="middle" fill="#000">DIP2B</text>
<path d="M1831.2 834.9v12" stroke="#2E2E2E" stroke-width="1.8"/>
<path d="M1831.2 840.9L1831.2 838.3C1831.3 838.4 1832.2 838.5 1832.5 838.7C1832.8 839 1834.5 840.7 1834.7 840.9L1834.7 840.9Z" fill="#FFD92F" stroke="#2E2E2E" stroke-width="1.15" stroke-linejoin="round"/>
<path d="M1831.2 840.9H1974.1" stroke="#2E2E2E" stroke-width="1"/>
<path d="M1834.5 840.9h0M1837.7 840.9h0M1840.8 840.9h0M1844 840.9h0M1850.4 840.9h0M1853.5 840.9h0M1856.7 840.9h0M1859.9 840.9h0M1863.1 840.9h0M1866.3 840.9h0M1869.4 840.9h0M1872.6 840.9h0M1875.8 840.9h0M1879 840.9h0M1882.1 840.9h0M1885.3 840.9h0M1891.7 840.9h0M1894.9 840.9h0M1907.6 840.9h0M1910.8 840.9h0M1933 840.9h0M1974.3 840.9h0" stroke="#2E2E2E" stroke-width="3.7" stroke-linecap="round" fill="none"/>
<rect x="1955.1" y="838.8" width="4.4" height="4.2" rx=".6" fill="#EA0000"/>
<path d="M1831.2 893.7v12" stroke="#2E2E2E" stroke-width="1.8"/>
<path d="M1831.2 899.7H2104.2" stroke="#2E2E2E" stroke-width="1"/>
<path d="M1834.5 899.7h0M1837.7 899.7h0M1840.8 899.7h0M1844 899.7h0M1847.2 899.7h0M1850.4 899.7h0M1853.5 899.7h0M1856.7 899.7h0M1859.9 899.7h0M1863.1 899.7h0M1866.3 899.7h0M1869.4 899.7h0M1872.6 899.7h0M1875.8 899.7h0M1879 899.7h0M1882.1 899.7h0M1885.3 899.7h0M1888.5 899.7h0M1894.9 899.7h0M1898 899.7h0M1901.2 899.7h0M1904.4 899.7h0M1923.5 899.7h0M1926.6 899.7h0M1939.4 899.7h0M2104.6 899.7h0" stroke="#2E2E2E" stroke-width="3.7" stroke-linecap="round" fill="none"/>
<rect x="1969" y="897.6" width="4.4" height="4.2" rx=".6" fill="#EA0000"/>
<path d="M1831.2 952.6v12" stroke="#2E2E2E" stroke-width="1.8"/>
<path d="M1830.8 958.6L1830.8 932.2C1830.9 932.2 1831.6 931.1 1831.7 932.2C1831.8 933.2 1832 942.8 1832.1 945C1832.2 947.2 1832.5 957.5 1832.5 958.6L1832.5 958.6Z" fill="#E78AC3" stroke="#2E2E2E" stroke-width="1.15" stroke-linejoin="round"/>
<path d="M1831.2 958.6H1875.8" stroke="#2E2E2E" stroke-width="1"/>
<path d="M1834.5 958.6h0M1837.7 958.6h0M1840.8 958.6h0M1875.8 958.6h0" stroke="#2E2E2E" stroke-width="3.7" stroke-linecap="round" fill="none"/>
<circle cx="1859.8" cy="958.6" r="2.5" fill="#EA0000"/>
<rect x="1831.2" y="1011.5" width="25.6" height="12" fill="#BEBEBE" stroke="#2E2E2E" stroke-width="1.1"/>
<path d="M1831.7 1011.5v12" stroke="#2E2E2E" stroke-width="1.9"/>
<path d="M1821.9 1017.5L1821.9 1017.5C1822.9 1017.3 1826.5 1017 1828.3 1016.6C1830 1016.3 1830.7 1015.4 1832.5 1015.4C1834.3 1015.4 1835 1016.3 1838.9 1016.6C1842.8 1016.9 1852.1 1016.9 1856 1017.1C1859.9 1017.2 1861.3 1017.4 1862.4 1017.5L1862.4 1017.5Z" fill="#8DA0CB" stroke="#2E2E2E" stroke-width="1.15" stroke-linejoin="round"/>
<path d="M1821.9 1017.5H2056.5" stroke="#2E2E2E" stroke-width="1"/>
<path d="M1898 1017.5h0M1901.2 1017.5h0M1904.4 1017.5h0M1907.6 1017.5h0M1910.8 1017.5h0M1913.9 1017.5h0M1920.3 1017.5h0M1923.5 1017.5h0M1929.8 1017.5h0M1933 1017.5h0M1936.2 1017.5h0M1955.2 1017.5h0M1983.8 1017.5h0M2006.1 1017.5h0M2015.6 1017.5h0M2056.9 1017.5h0" stroke="#2E2E2E" stroke-width="3.7" stroke-linecap="round" fill="none"/>
<circle cx="2043.7" cy="1017.5" r="2.5" fill="#EA0000"/>
<path d="M1831.2 1070.4v12" stroke="#2E2E2E" stroke-width="1.8"/>
<path d="M1831.2 1076.4H1934.9" stroke="#2E2E2E" stroke-width="1"/>
<path d="M1834.5 1076.4h0M1837.7 1076.4h0M1840.8 1076.4h0M1844 1076.4h0M1847.2 1076.4h0M1850.4 1076.4h0M1853.5 1076.4h0M1856.7 1076.4h0M1859.9 1076.4h0M1863.1 1076.4h0M1866.3 1076.4h0M1869.4 1076.4h0M1872.6 1076.4h0M1875.8 1076.4h0M1879 1076.4h0M1882.1 1076.4h0M1885.3 1076.4h0M1888.5 1076.4h0M1891.7 1076.4h0M1894.9 1076.4h0M1898 1076.4h0M1901.2 1076.4h0M1910.8 1076.4h0M1913.9 1076.4h0M1926.6 1076.4h0" stroke="#2E2E2E" stroke-width="3.7" stroke-linecap="round" fill="none"/>
<circle cx="1934.9" cy="1076.4" r="2.5" fill="#EA0000"/>
</g>
<g>
<rect x="73.7" y="1217.2" width="310.8" height="307" fill="#EBEBEB"/>
<path d="M118.1 1217.2V1524.2M218.9 1217.2V1524.2M319.8 1217.2V1524.2" stroke="#fff" stroke-opacity=".9" stroke-width=".6" fill="none"/>
<path d="M168.4 1217.2V1524.2M269.5 1217.2V1524.2M370.4 1217.2V1524.2M73.7 1252.4H384.5M73.7 1311.5H384.5M73.7 1370.5H384.5M73.7 1429.6H384.5M73.7 1488.5H384.5" stroke="#fff" stroke-width="1.1" fill="none"/>
<path d="M168.4 1524.2v1.8M269.5 1524.2v1.8M370.4 1524.2v1.8M73.7 1252.4h-1.8M73.7 1311.5h-1.8M73.7 1370.5h-1.8M73.7 1429.6h-1.8M73.7 1488.5h-1.8" stroke="#2E2E2E" stroke-width="1.1" fill="none"/>
<g font-size="6.2" fill="#4D4D4D" text-anchor="middle">
<text x="168.4" y="1531.8">10</text>
<text x="269.5" y="1531.8">20</text>
<text x="370.4" y="1531.8">30</text>
</g>
<g font-size="6.2" fill="#4D4D4D" text-anchor="end">
<text x="70.3" y="1254.6">AFR</text>
<text x="70.3" y="1313.7">AMR</text>
<text x="70.3" y="1372.7">EAS</text>
<text x="70.3" y="1431.8">EUR</text>
<text x="70.3" y="1490.7">SAS</text>
</g>
<text x="229.1" y="1212" font-size="9" text-anchor="middle" fill="#000">LRP12</text>
<rect x="138.3" y="1246.4" width="30.1" height="12" fill="#BEBEBE" stroke="#2E2E2E" stroke-width="1.1"/>
<path d="M148.4 1246.4v12" stroke="#2E2E2E" stroke-width="1.9"/>
<path d="M87.8 1252.4L87.8 1252.2C89.4 1252 94.5 1251.3 97.6 1251.3C100.6 1251.3 103.6 1252 106.1 1251.9C108.6 1251.9 110.6 1251.7 112.5 1250.9C114.5 1250.1 116.1 1248.7 117.9 1247.3C119.6 1245.8 121.4 1243.7 123.2 1242.3C125 1241 126.7 1239.8 128.5 1239.4C130.3 1238.9 132.2 1239.8 133.8 1239.8C135.4 1239.8 136.7 1240 138.1 1239.4C139.5 1238.7 141 1237 142.4 1236C143.8 1234.9 145.5 1233.5 146.6 1233C147.8 1232.4 148.3 1232.5 149.2 1232.8C150.1 1233 150.8 1233.4 152 1234.5C153.1 1235.6 154.6 1237.8 156.2 1239.4C157.8 1240.9 159.6 1242.7 161.6 1243.6C163.5 1244.6 165.8 1244.4 168 1244.9C170.1 1245.4 172.4 1246.1 174.4 1246.6C176.3 1247.1 177.9 1247.9 179.7 1247.9C181.5 1247.9 183.4 1246.9 185 1246.6C186.6 1246.3 187.9 1246 189.3 1246.2C190.7 1246.4 192 1247 193.6 1247.7C195.2 1248.3 196.8 1249.6 198.9 1250C201 1250.4 204.1 1250 206.4 1250C208.7 1250.1 210.6 1250.1 212.8 1250.5C214.9 1250.8 217 1251.6 219.2 1251.9C221.3 1252.3 224.5 1252.3 225.6 1252.4L225.6 1252.4Z" fill="#FFD92F" stroke="#2E2E2E" stroke-width="1.15" stroke-linejoin="round"/>
<path d="M87.8 1252.4H370.4" stroke="#2E2E2E" stroke-width="1"/>
<path d="M87.6 1252.4h0M218.9 1252.4h0M239.1 1252.4h0M269.4 1252.4h0M279.5 1252.4h0M370.4 1252.4h0" stroke="#2E2E2E" stroke-width="3.7" stroke-linecap="round" fill="none"/>
<circle cx="292.7" cy="1252.4" r="2.2" fill="#EA0000"/>
<rect x="148.4" y="1305.5" width="40.3" height="12" fill="#BEBEBE" stroke="#2E2E2E" stroke-width="1.1"/>
<path d="M168.4 1305.5v12" stroke="#2E2E2E" stroke-width="1.9"/>
<path d="M97.6 1311.5L97.6 1309.7C98.7 1309.8 101.5 1310 104 1310.2C106.5 1310.4 109 1311 112.5 1311C116.1 1311.1 121.8 1311.1 125.3 1310.6C128.9 1310.1 131.4 1309.4 133.8 1308C136.3 1306.7 138.1 1304.4 140.2 1302.7C142.4 1301 144.7 1299.1 146.6 1298C148.6 1297 150.2 1296.4 152 1296.3C153.8 1296.2 155.4 1296.5 157.3 1297.4C159.3 1298.3 161.6 1300.3 163.7 1301.6C165.8 1303 168.2 1304.8 170.1 1305.5C172.1 1306.2 173.7 1306.2 175.4 1305.9C177.2 1305.6 179 1304.6 180.8 1303.8C182.5 1303 184.3 1301.7 186.1 1301.2C187.9 1300.7 189.5 1300.6 191.4 1300.8C193.4 1301 195.7 1301.9 197.8 1302.3C200 1302.6 202.1 1302.8 204.2 1302.9C206.4 1303 208.7 1302.5 210.6 1302.9C212.6 1303.4 214.2 1304.5 216 1305.5C217.7 1306.5 219.3 1308.2 221.3 1309.1C223.2 1310 225.2 1310.4 227.7 1310.8C230.2 1311.2 234.8 1311.3 236.2 1311.5L236.2 1311.5Z" fill="#A6D854" stroke="#2E2E2E" stroke-width="1.15" stroke-linejoin="round"/>
<path d="M97.6 1311.5H299.8" stroke="#2E2E2E" stroke-width="1"/>
<path d="M259.3 1311.5h0M279.5 1311.5h0M299.7 1311.5h0" stroke="#2E2E2E" stroke-width="3.7" stroke-linecap="round" fill="none"/>
<circle cx="287.8" cy="1311.5" r="2.2" fill="#EA0000"/>
<rect x="158.4" y="1364.5" width="30.3" height="12" fill="#BEBEBE" stroke="#2E2E2E" stroke-width="1.1"/>
<path d="M158.8 1364.5v12" stroke="#2E2E2E" stroke-width="1.9"/>
<path d="M129.6 1370.5L129.6 1370.3C130.6 1370 134 1369.7 136 1368.2C137.9 1366.7 139.5 1363.9 141.3 1361.4C143.1 1358.8 144.9 1355.3 146.6 1352.8C148.4 1350.3 150.3 1348 152 1346.4C153.7 1344.9 155.3 1343.7 156.9 1343.7C158.5 1343.6 160.1 1344.5 161.6 1346C163.1 1347.5 164.4 1350.5 165.8 1352.8C167.3 1355.2 168.5 1358.3 170.1 1360.3C171.7 1362.3 173.7 1363.8 175.4 1364.6C177.2 1365.3 179 1365.3 180.8 1365C182.5 1364.7 184.7 1363.3 186.1 1362.9C187.5 1362.4 188.1 1362.1 189.3 1362.4C190.5 1362.7 192 1363.9 193.6 1364.6C195.2 1365.3 197.1 1366.5 198.9 1366.7C200.7 1366.9 202.5 1366.1 204.2 1365.6C206 1365.2 208 1364.1 209.6 1364.1C211.2 1364.1 212.2 1365 213.8 1365.6C215.4 1366.3 217.2 1367.5 219.2 1368.2C221.1 1368.9 222.7 1369.5 225.6 1369.9C228.4 1370.3 234.4 1370.4 236.2 1370.5L236.2 1370.5Z" fill="#E78AC3" stroke="#2E2E2E" stroke-width="1.15" stroke-linejoin="round"/>
<path d="M97.6 1370.5H289.5" stroke="#2E2E2E" stroke-width="1"/>
<path d="M97.7 1370.5h0M239.1 1370.5h0M249.2 1370.5h0M259.3 1370.5h0M279.5 1370.5h0M289.6 1370.5h0" stroke="#2E2E2E" stroke-width="3.7" stroke-linecap="round" fill="none"/>
<circle cx="282.1" cy="1370.5" r="2.2" fill="#EA0000"/>
<rect x="148.4" y="1423.6" width="40.3" height="12" fill="#BEBEBE" stroke="#2E2E2E" stroke-width="1.1"/>
<path d="M158.4 1423.6v12" stroke="#2E2E2E" stroke-width="1.9"/>
<path d="M97.6 1429.6L97.6 1426.4C98.5 1426.4 101.1 1426.1 102.9 1426.4C104.7 1426.7 106.3 1427.7 108.3 1428.1C110.2 1428.6 111.5 1429 114.7 1429.2C117.9 1429.3 124.2 1429.4 127.4 1429C130.6 1428.5 131.7 1427.7 133.8 1426.4C136 1425.1 138.1 1422.9 140.2 1421.1C142.4 1419.3 144.7 1417.1 146.6 1415.8C148.6 1414.4 150.4 1413.5 152 1413C153.6 1412.4 154.6 1412.1 156.2 1412.3C157.8 1412.6 159.8 1413.5 161.6 1414.7C163.4 1415.9 165 1418 166.9 1419.4C168.9 1420.7 171.3 1422.7 173.3 1422.8C175.3 1422.9 176.9 1421.3 178.6 1420C180.4 1418.7 182.3 1416.3 184 1415.1C185.6 1414 187.1 1413.3 188.7 1413.2C190.3 1413.1 191.9 1413.5 193.6 1414.7C195.3 1415.8 196.9 1418.2 198.9 1420C200.9 1421.8 203 1424 205.3 1425.4C207.6 1426.7 210.1 1427.5 212.8 1428.1C215.4 1428.8 218.8 1428.9 221.3 1429.2C223.8 1429.4 226.6 1429.5 227.7 1429.6L227.7 1429.6Z" fill="#8DA0CB" stroke="#2E2E2E" stroke-width="1.15" stroke-linejoin="round"/>
<path d="M97.6 1429.6H309.8" stroke="#2E2E2E" stroke-width="1"/>
<path d="M259.3 1429.6h0M309.8 1429.6h0" stroke="#2E2E2E" stroke-width="3.7" stroke-linecap="round" fill="none"/>
<circle cx="284.9" cy="1429.6" r="2.2" fill="#EA0000"/>
<rect x="158.4" y="1482.5" width="30.3" height="12" fill="#BEBEBE" stroke="#2E2E2E" stroke-width="1.1"/>
<path d="M158.8 1482.5v12" stroke="#2E2E2E" stroke-width="1.9"/>
<path d="M87.8 1488.5L87.8 1487.2C88.7 1486.9 91.7 1486 93.3 1485.5C95 1485 96 1484.3 97.6 1484.4C99.2 1484.5 101.1 1485.6 102.9 1486.1C104.7 1486.7 105.2 1487.6 108.3 1487.8C111.3 1488.1 117.5 1487.6 121 1487.4C124.6 1487.2 126.7 1487 129.6 1486.8C132.4 1486.6 135.8 1487.1 138.1 1486.1C140.4 1485.1 141.7 1482.9 143.4 1480.8C145.2 1478.7 147 1475.4 148.8 1473.3C150.6 1471.3 152.7 1469.6 154.1 1468.6C155.5 1467.7 156.1 1467.4 157.3 1467.6C158.6 1467.7 160 1468.1 161.6 1469.5C163.2 1470.9 165.1 1474.1 166.9 1476.1C168.7 1478.2 170.5 1480.7 172.2 1481.9C174 1483.1 176 1483.7 177.6 1483.4C179.2 1483 180.4 1481.1 181.8 1479.7C183.3 1478.4 184.7 1476.4 186.1 1475.5C187.5 1474.6 188.8 1474.1 190.4 1474.4C192 1474.8 193.7 1476.5 195.7 1477.6C197.7 1478.7 199.6 1479.9 202.1 1480.8C204.6 1481.7 208.1 1482 210.6 1482.9C213.1 1483.8 214.5 1485.3 217 1486.1C219.5 1487 222.4 1487.7 225.6 1488.1C228.8 1488.4 234.4 1488.4 236.2 1488.5L236.2 1488.5Z" fill="#FC8D62" stroke="#2E2E2E" stroke-width="1.15" stroke-linejoin="round"/>
<path d="M87.8 1488.5H249" stroke="#2E2E2E" stroke-width="1"/>
<path d="M87.6 1488.5h0M97.7 1488.5h0M107.8 1488.5h0M239.1 1488.5h0M249.2 1488.5h0" stroke="#2E2E2E" stroke-width="3.7" stroke-linecap="round" fill="none"/>
<circle cx="241.8" cy="1488.5" r="2.2" fill="#EA0000"/>
</g>
<g>
<rect x="421.6" y="1217.8" width="311.2" height="307" fill="#EBEBEB"/>
<path d="M462.7 1217.8V1524.8M533.3 1217.8V1524.8M603.9 1217.8V1524.8M674.3 1217.8V1524.8" stroke="#fff" stroke-opacity=".9" stroke-width=".6" fill="none"/>
<path d="M427.5 1217.8V1524.8M497.9 1217.8V1524.8M568.5 1217.8V1524.8M639.1 1217.8V1524.8M709.7 1217.8V1524.8M421.6 1253H732.8M421.6 1312.1H732.8M421.6 1371.2H732.8M421.6 1429.8H732.8M421.6 1488.9H732.8" stroke="#fff" stroke-width="1.1" fill="none"/>
<path d="M427.5 1524.8v1.8M497.9 1524.8v1.8M568.5 1524.8v1.8M639.1 1524.8v1.8M709.7 1524.8v1.8M421.6 1253h-1.8M421.6 1312.1h-1.8M421.6 1371.2h-1.8M421.6 1429.8h-1.8M421.6 1488.9h-1.8" stroke="#2E2E2E" stroke-width="1.1" fill="none"/>
<g font-size="6.2" fill="#4D4D4D" text-anchor="middle">
<text x="427.5" y="1532.4">0</text>
<text x="497.9" y="1532.4">25</text>
<text x="568.5" y="1532.4">50</text>
<text x="639.1" y="1532.4">75</text>
<text x="709.7" y="1532.4">100</text>
</g>
<g font-size="6.2" fill="#4D4D4D" text-anchor="end">
<text x="418.2" y="1255.2">AFR</text>
<text x="418.2" y="1314.3">AMR</text>
<text x="418.2" y="1373.4">EAS</text>
<text x="418.2" y="1432">EUR</text>
<text x="418.2" y="1491.1">SAS</text>
</g>
<text x="577.2" y="1212" font-size="9" text-anchor="middle" fill="#000">GIPC1</text>
<rect x="455.4" y="1247" width="6.4" height="12" fill="#BEBEBE" stroke="#2E2E2E" stroke-width="1.1"/>
<path d="M458.6 1247v12" stroke="#2E2E2E" stroke-width="1.9"/>
<path d="M451.9 1253L451.9 1252.8C452 1252.6 453.3 1251.4 453.6 1250.9C453.8 1250.3 454.5 1246.8 454.6 1246.2C454.8 1245.6 455.2 1244 455.4 1243.8C455.6 1243.7 456.7 1244.3 457 1244.5C457.2 1244.6 458.4 1245.4 458.6 1245.5C458.8 1245.7 459.4 1246.6 459.5 1246.8C459.7 1247 460.2 1247.6 460.4 1247.9C460.6 1248.2 461.9 1250.3 462.3 1250.7C462.7 1251.1 464.8 1252.4 465.1 1252.6L465.1 1253Z" fill="#FFD92F" stroke="#2E2E2E" stroke-width="1.15" stroke-linejoin="round"/>
<path d="M440.3 1253H718.5" stroke="#2E2E2E" stroke-width="1"/>
<path d="M440.2 1253h0M441.6 1253h0M444.5 1253h0M472.7 1253h0M475.5 1253h0M478.3 1253h0M481.2 1253h0M484 1253h0M486.8 1253h0M489.6 1253h0M492.4 1253h0M495.3 1253h0M498.1 1253h0M500.9 1253h0M506.5 1253h0M509.4 1253h0M520.7 1253h0M534.8 1253h0M537.6 1253h0M540.4 1253h0M551.7 1253h0M554.5 1253h0M574.3 1253h0M594 1253h0M608.1 1253h0M718.2 1253h0" stroke="#2E2E2E" stroke-width="3.7" stroke-linecap="round" fill="none"/>
<rect x="638.8" y="1250.9" width="4.4" height="4.2" rx=".6" fill="#EA0000"/>
<rect x="457.6" y="1306.1" width="3.8" height="12" fill="#BEBEBE" stroke="#2E2E2E" stroke-width="1.1"/>
<path d="M459.5 1306.1v12" stroke="#2E2E2E" stroke-width="1.9"/>
<path d="M453.5 1312.1L453.5 1312.1L453.7 1312L453.9 1311.9L454.1 1311.4L454.3 1310.5L454.6 1308.8L454.8 1306.4L455 1303.6L455.2 1301.3L455.4 1300.4L455.6 1301.3L455.8 1303.6L456 1306.4L456.2 1308.8L456.4 1310.5L456.6 1311.4L456.8 1311.7L457 1311.4L457.2 1310.5L457.4 1308.4L457.6 1304.8L457.8 1300L458 1294.9L458.2 1291.4L458.4 1290.7L458.6 1293.3L458.9 1298L459.1 1303.1L459.3 1307.1L459.5 1309.4L459.7 1310.1L459.9 1309.3L460.1 1307.2L460.3 1304.3L460.5 1301.2L460.7 1299.2L460.9 1299.1L461.1 1300.9L461.3 1303.9L461.5 1307L461.7 1309.3L461.9 1310.8L462.1 1311.5L462.3 1311.7L462.5 1311.5L462.7 1311.1L462.9 1310.4L463.2 1309.5L463.4 1308.7L463.6 1308.3L463.8 1308.3L464 1308.9L464.2 1309.7L464.4 1310.5L464.6 1311.2L464.8 1311.6L465 1311.9L465.2 1312L465.4 1312.1L465.8 1312.1L465.8 1312.1Z" fill="#A6D854" stroke="#2E2E2E" stroke-width="1.15" stroke-linejoin="round"/>
<path d="M441.2 1312.1H523.3" stroke="#2E2E2E" stroke-width="1"/>
<path d="M441.6 1312.1h0M444.5 1312.1h0M450.1 1312.1h0M467 1312.1h0M469.9 1312.1h0M472.7 1312.1h0M475.5 1312.1h0M478.3 1312.1h0M481.2 1312.1h0M484 1312.1h0M486.8 1312.1h0M489.6 1312.1h0M523.5 1312.1h0" stroke="#2E2E2E" stroke-width="3.7" stroke-linecap="round" fill="none"/>
<rect x="504.7" y="1310" width="4.4" height="4.2" rx=".6" fill="#EA0000"/>
<rect x="457.6" y="1365.2" width="3.8" height="12" fill="#BEBEBE" stroke="#2E2E2E" stroke-width="1.1"/>
<path d="M459.5 1365.2v12" stroke="#2E2E2E" stroke-width="1.9"/>
<path d="M453.5 1371.2L453.5 1371.2L453.7 1371.1L453.9 1371.1L454.1 1370.8L454.3 1370.4L454.5 1369.6L454.7 1368.4L454.8 1366.8L455 1365.2L455.2 1364L455.4 1363.7L455.6 1364.4L455.8 1365.8L456 1367.4L456.2 1368.9L456.3 1369.9L456.5 1370.6L456.7 1370.9L456.9 1370.9L457.1 1370.6L457.3 1369.6L457.5 1367.5L457.7 1363.8L457.8 1358.5L458 1352.8L458.2 1348.4L458.4 1347.1L458.6 1349.5L458.8 1354.6L459 1360.3L459.2 1365.1L459.3 1368.1L459.5 1369.5L459.7 1369.5L459.9 1368.5L460.1 1366.5L460.3 1364L460.5 1361.4L460.7 1359.5L460.8 1359.1L461 1360.1L461.2 1362.4L461.4 1365.1L461.6 1367.5L461.8 1369.2L462 1370.3L462.2 1370.8L462.4 1371L462.5 1371.1L462.7 1371.2L462.7 1371.2Z" fill="#E78AC3" stroke="#2E2E2E" stroke-width="1.15" stroke-linejoin="round"/>
<path d="M435.2 1371.2H582.6" stroke="#2E2E2E" stroke-width="1"/>
<path d="M436 1371.2h0M438.8 1371.2h0M441.6 1371.2h0M444.5 1371.2h0M450.1 1371.2h0M467 1371.2h0M469.9 1371.2h0M472.7 1371.2h0M475.5 1371.2h0M478.3 1371.2h0M481.2 1371.2h0M484 1371.2h0M486.8 1371.2h0M489.6 1371.2h0M495.3 1371.2h0M498.1 1371.2h0M500.9 1371.2h0M506.5 1371.2h0M512.2 1371.2h0M523.5 1371.2h0M582.7 1371.2h0" stroke="#2E2E2E" stroke-width="3.7" stroke-linecap="round" fill="none"/>
<circle cx="548.5" cy="1371.2" r="2.2" fill="#EA0000"/>
<rect x="455.4" y="1423.8" width="6.4" height="12" fill="#BEBEBE" stroke="#2E2E2E" stroke-width="1.1"/>
<path d="M458.6 1423.8v12" stroke="#2E2E2E" stroke-width="1.9"/>
<path d="M451.4 1429.8L451.4 1429.8C451.6 1429.7 452.9 1428.4 453.1 1427.9C453.4 1427.5 454.3 1425.1 454.6 1424.5C454.9 1423.9 456.2 1421.4 456.5 1420.9C456.9 1420.3 458.1 1418.1 458.4 1418.1C458.7 1418.1 459.8 1420.7 460.2 1421.3C460.5 1421.9 462 1425 462.3 1425.6C462.6 1426.1 463.9 1427.4 464.2 1427.7C464.6 1428 466.4 1429.2 466.8 1429.4C467.2 1429.6 468.7 1429.8 468.9 1429.8L468.9 1429.8Z" fill="#8DA0CB" stroke="#2E2E2E" stroke-width="1.15" stroke-linejoin="round"/>
<path d="M441.2 1429.8H588.4" stroke="#2E2E2E" stroke-width="1"/>
<path d="M441.6 1429.8h0M489.6 1429.8h0M492.4 1429.8h0M588.4 1429.8h0" stroke="#2E2E2E" stroke-width="3.7" stroke-linecap="round" fill="none"/>
<rect x="554.8" y="1427.7" width="4.4" height="4.2" rx=".6" fill="#EA0000"/>
<rect x="455.1" y="1482.9" width="4.5" height="12" fill="#BEBEBE" stroke="#2E2E2E" stroke-width="1.1"/>
<path d="M456.9 1482.9v12" stroke="#2E2E2E" stroke-width="1.9"/>
<path d="M453.1 1488.9L453.1 1488.9L453.3 1488.8L453.5 1488.7L453.7 1488.3L453.9 1487.5L454.1 1486.1L454.3 1483.9L454.5 1481L454.6 1478.2L454.8 1476.1L455 1475.5L455.2 1476.7L455.4 1479.2L455.6 1482.1L455.8 1484.8L456 1486.7L456.1 1487.9L456.3 1488.5L456.5 1488.8L456.7 1488.8L456.9 1488.7L457.1 1488.3L457.3 1487.3L457.5 1485L457.7 1481.1L457.8 1475.4L458 1469.2L458.2 1464.3L458.4 1462.7L458.6 1465.2L458.8 1470.6L459 1476.8L459.2 1482.1L459.3 1485.6L459.5 1487.4L459.7 1487.9L459.9 1487.6L460.1 1486.8L460.3 1485.7L460.5 1484.5L460.7 1483.6L460.8 1483.4L461 1483.8L461.2 1484.9L461.4 1486.1L461.6 1487.2L461.8 1488L462 1488.5L462.2 1488.7L462.3 1488.8L462.5 1488.9L462.7 1488.9L462.7 1488.9Z" fill="#FC8D62" stroke="#2E2E2E" stroke-width="1.15" stroke-linejoin="round"/>
<path d="M437.3 1488.9H574.5" stroke="#2E2E2E" stroke-width="1"/>
<path d="M437.4 1488.9h0M438.8 1488.9h0M444.5 1488.9h0M447.3 1488.9h0M464.2 1488.9h0M467 1488.9h0M469.9 1488.9h0M472.7 1488.9h0M475.5 1488.9h0M478.3 1488.9h0M481.2 1488.9h0M484 1488.9h0M486.8 1488.9h0M492.4 1488.9h0M495.3 1488.9h0M498.1 1488.9h0M503.7 1488.9h0M509.4 1488.9h0M515 1488.9h0M574.3 1488.9h0" stroke="#2E2E2E" stroke-width="3.7" stroke-linecap="round" fill="none"/>
<rect x="538.8" y="1486.8" width="4.4" height="4.2" rx=".6" fill="#EA0000"/>
</g>
<g>
<rect x="767.3" y="1210.9" width="315.5" height="313.6" fill="#EBEBEB"/>
<path d="M822.1 1210.9V1524.5M923 1210.9V1524.5M1024.1 1210.9V1524.5" stroke="#fff" stroke-opacity=".9" stroke-width=".6" fill="none"/>
<path d="M771.6 1210.9V1524.5M872.5 1210.9V1524.5M973.6 1210.9V1524.5M1074.6 1210.9V1524.5M767.3 1247.4H1082.8M767.3 1307.5H1082.8M767.3 1367.7H1082.8M767.3 1427.8H1082.8M767.3 1488H1082.8" stroke="#fff" stroke-width="1.1" fill="none"/>
<path d="M771.6 1524.5v1.8M872.5 1524.5v1.8M973.6 1524.5v1.8M1074.6 1524.5v1.8M767.3 1247.4h-1.8M767.3 1307.5h-1.8M767.3 1367.7h-1.8M767.3 1427.8h-1.8M767.3 1488h-1.8" stroke="#2E2E2E" stroke-width="1.1" fill="none"/>
<g font-size="6.2" fill="#4D4D4D" text-anchor="middle">
<text x="771.6" y="1532.1">0</text>
<text x="872.5" y="1532.1">50</text>
<text x="973.6" y="1532.1">100</text>
<text x="1074.6" y="1532.1">150</text>
</g>
<g font-size="6.2" fill="#4D4D4D" text-anchor="end">
<text x="763.9" y="1249.6">AFR</text>
<text x="763.9" y="1309.7">AMR</text>
<text x="763.9" y="1369.9">EAS</text>
<text x="763.9" y="1430">EUR</text>
<text x="763.9" y="1490.2">SAS</text>
</g>
<text x="925" y="1206" font-size="9" text-anchor="middle" fill="#000">ATXN8OS</text>
<rect x="793.7" y="1241.4" width="10.7" height="12" fill="#BEBEBE" stroke="#2E2E2E" stroke-width="1.1"/>
<path d="M799.7 1241.4v12" stroke="#2E2E2E" stroke-width="1.9"/>
<path d="M782.7 1247.4L782.7 1247.4L783.8 1247.3L784.3 1247.3L784.8 1247.1L785.3 1246.8L785.8 1246.4L786.3 1245.7L786.8 1244.9L787.3 1244L787.9 1243.1L788.4 1242.1L788.9 1241.2L789.4 1240.5L789.9 1240.3L790.4 1240.4L790.9 1240.7L791.4 1240.8L792 1240.4L792.5 1239.5L793 1238.3L793.5 1237.2L794 1236.6L794.5 1236.9L795 1238L795.5 1239.6L796.1 1241.4L796.6 1243L797.1 1244L797.6 1244.3L798.1 1243.8L798.6 1242.6L799.1 1240.6L799.6 1238.3L800.1 1235.7L800.7 1233.5L801.2 1231.9L801.7 1231.4L802.2 1231.9L802.7 1233.4L803.2 1235.6L803.7 1238.1L804.2 1240.4L804.8 1242.4L805.3 1243.7L805.8 1244.5L806.3 1244.9L806.8 1244.9L807.3 1244.7L807.8 1244.4L808.3 1244.1L808.8 1244L809.4 1243.9L809.9 1244L810.4 1244.2L810.9 1244.5L811.4 1244.8L811.9 1245.1L812.4 1245.4L812.9 1245.6L813.5 1245.9L814 1246.1L814.5 1246.4L815 1246.6L815.5 1246.8L816 1247L816.5 1247.2L817 1247.3L817.6 1247.3L818.1 1247.3L820.1 1247.4L820.1 1247.4Z" fill="#FFD92F" stroke="#2E2E2E" stroke-width="1.15" stroke-linejoin="round"/>
<path d="M785.2 1247.4H991.7" stroke="#2E2E2E" stroke-width="1"/>
<path d="M820 1247.4h0M829.6 1247.4h0M832.1 1247.4h0M836.4 1247.4h0M838.5 1247.4h0M840.7 1247.4h0M842.8 1247.4h0M844.5 1247.4h0M846.6 1247.4h0M848.8 1247.4h0M850.5 1247.4h0M854.5 1247.4h0M896.6 1247.4h0M918.7 1247.4h0M928.8 1247.4h0M991.7 1247.4h0" stroke="#2E2E2E" stroke-width="3.7" stroke-linecap="round" fill="none"/>
<circle cx="982.5" cy="1247.4" r="2.5" fill="#EA0000"/>
<rect x="795.9" y="1301.5" width="6.6" height="12" fill="#BEBEBE" stroke="#2E2E2E" stroke-width="1.1"/>
<path d="M801.9 1301.5v12" stroke="#2E2E2E" stroke-width="1.9"/>
<path d="M785.4 1307.5L785.4 1307.5L785.9 1307.5L786.3 1307.3L786.8 1307L787.2 1306.3L787.7 1305.1L788.1 1303.3L788.6 1301.2L789 1299.4L789.4 1298.8L789.9 1299.4L790.3 1301.2L790.8 1303.2L791.2 1305L791.7 1306.1L792.1 1306.4L792.5 1306L793 1304.8L793.4 1302.6L793.9 1299.5L794.3 1295.7L794.8 1292.1L795.2 1289.3L795.7 1288.3L796.1 1289.4L796.5 1292.1L797 1295.7L797.4 1299.4L797.9 1302.2L798.3 1303.9L798.8 1304.2L799.2 1303.1L799.6 1300.6L800.1 1296.8L800.5 1292.1L801 1287.3L801.4 1283.4L801.9 1281.2L802.3 1281.4L802.7 1283.8L803.2 1287.9L803.6 1292.6L804.1 1297.1L804.5 1300.6L805 1303.1L805.4 1304.6L805.9 1305.3L806.3 1305.6L806.7 1305.6L807.2 1305.5L807.6 1305.4L808.1 1305.3L808.5 1305.3L809 1305.3L809.4 1305.4L809.8 1305.5L810.3 1305.6L810.7 1305.7L811.2 1305.7L811.6 1305.8L812.1 1305.8L812.5 1305.9L813 1305.9L813.4 1306L813.8 1306.1L814.3 1306.2L814.7 1306.3L815.2 1306.5L815.6 1306.7L816.1 1306.8L816.5 1307L816.9 1307.1L817.4 1307.3L817.8 1307.3L818.3 1307.4L818.7 1307.5L819.2 1307.5L821.4 1307.5L821.4 1307.5Z" fill="#A6D854" stroke="#2E2E2E" stroke-width="1.15" stroke-linejoin="round"/>
<path d="M782.7 1307.5H989.5" stroke="#2E2E2E" stroke-width="1"/>
<path d="M783.7 1307.5h0M785.2 1307.5h0M812.5 1307.5h0M814.7 1307.5h0M816.8 1307.5h0M818.9 1307.5h0M820.6 1307.5h0M826.2 1307.5h0M888.7 1307.5h0M927.1 1307.5h0M989.5 1307.5h0" stroke="#2E2E2E" stroke-width="3.7" stroke-linecap="round" fill="none"/>
<circle cx="939" cy="1307.5" r="2.2" fill="#EA0000"/>
<rect x="789.5" y="1361.7" width="20.9" height="12" fill="#BEBEBE" stroke="#2E2E2E" stroke-width="1.1"/>
<path d="M801.9 1361.7v12" stroke="#2E2E2E" stroke-width="1.9"/>
<path d="M781.6 1367.7L781.6 1367.2C782.1 1366.8 783.7 1365.6 784.8 1364.5C785.9 1363.4 787 1361.5 788 1360.6C789 1359.8 789.7 1359.3 790.8 1359.4C791.8 1359.4 793.1 1360.6 794.4 1361.1C795.7 1361.5 797.2 1361.9 798.7 1361.9C800.1 1361.9 801.6 1361.5 802.9 1361.1C804.2 1360.6 805.5 1359.7 806.5 1359.4C807.6 1359 808.3 1358.5 809.3 1358.7C810.3 1358.9 811.5 1359.8 812.5 1360.6C813.6 1361.5 814.7 1362.9 815.7 1363.8C816.8 1364.8 817.5 1365.7 818.9 1366.4C820.3 1367 823.4 1367.5 824.2 1367.7L824.2 1367.7Z" fill="#E78AC3" stroke="#2E2E2E" stroke-width="1.15" stroke-linejoin="round"/>
<path d="M781.6 1367.7H1013.9" stroke="#2E2E2E" stroke-width="1"/>
<path d="M890.6 1367.7h0M969.5 1367.7h0M971.6 1367.7h0M1013.9 1367.7h0" stroke="#2E2E2E" stroke-width="3.7" stroke-linecap="round" fill="none"/>
<rect x="975" y="1365.6" width="4.4" height="4.2" rx=".6" fill="#EA0000"/>
<rect x="795.9" y="1421.8" width="8.5" height="12" fill="#BEBEBE" stroke="#2E2E2E" stroke-width="1.1"/>
<path d="M801.9 1421.8v12" stroke="#2E2E2E" stroke-width="1.9"/>
<path d="M784.4 1427.8L784.4 1427.8L785 1427.8L785.6 1427.6L786.1 1427.3L786.7 1426.5L787.2 1425.1L787.8 1423L788.3 1420.7L788.9 1418.8L789.4 1418L790 1418.7L790.5 1420.6L791.1 1422.9L791.7 1424.6L792.2 1425.4L792.8 1424.8L793.3 1422.9L793.9 1419.9L794.4 1416.5L795 1413.5L795.5 1412.1L796.1 1412.7L796.6 1415.1L797.2 1418.4L797.8 1421.4L798.3 1423.3L798.9 1423.8L799.4 1422.9L800 1420.8L800.5 1417.9L801.1 1414.7L801.6 1411.8L802.2 1409.9L802.7 1409.5L803.3 1410.6L803.9 1413L804.4 1416.2L805 1419.4L805.5 1422.2L806.1 1424.3L806.6 1425.7L807.2 1426.5L807.7 1426.9L808.3 1427L808.8 1427L809.4 1426.9L810 1426.7L810.5 1426.6L811.1 1426.5L811.6 1426.5L812.2 1426.6L812.7 1426.7L813.3 1426.8L813.8 1427L814.4 1427.2L814.9 1427.3L815.5 1427.5L816.1 1427.6L816.6 1427.6L817.2 1427.7L817.7 1427.8L818.3 1427.8L821 1427.8L821 1427.8Z" fill="#8DA0CB" stroke="#2E2E2E" stroke-width="1.15" stroke-linejoin="round"/>
<path d="M781.6 1427.8H1070.2" stroke="#2E2E2E" stroke-width="1"/>
<path d="M781.6 1427.8h0M817.9 1427.8h0M820 1427.8h0M822.1 1427.8h0M824.2 1427.8h0M826.4 1427.8h0M860.5 1427.8h0M886.5 1427.8h0M896.8 1427.8h0M910.6 1427.8h0M917 1427.8h0M959 1427.8h0M1007.7 1427.8h0M1070.2 1427.8h0" stroke="#2E2E2E" stroke-width="3.7" stroke-linecap="round" fill="none"/>
<rect x="1047.7" y="1425.7" width="4.4" height="4.2" rx=".6" fill="#EA0000"/>
<rect x="795.9" y="1482" width="8.5" height="12" fill="#BEBEBE" stroke="#2E2E2E" stroke-width="1.1"/>
<path d="M798 1482v12" stroke="#2E2E2E" stroke-width="1.9"/>
<path d="M784.8 1488L784.8 1488L785.3 1487.9L785.9 1487.8L786.4 1487.5L786.9 1486.8L787.4 1485.6L787.9 1483.8L788.4 1481.8L788.9 1480.1L789.4 1479.4L790 1480.1L790.5 1481.8L791 1483.8L791.5 1485.5L792 1486.7L792.5 1487L793 1486.4L793.5 1484.5L794 1481.1L794.6 1476.3L795.1 1470.9L795.6 1466.7L796.1 1465.4L796.6 1467.5L797.1 1472.1L797.6 1477.4L798.1 1481.7L798.7 1484.3L799.2 1485.1L799.7 1484.5L800.2 1482.9L800.7 1480.9L801.2 1478.8L801.7 1477.2L802.2 1476.5L802.7 1476.9L803.3 1478.2L803.8 1479.9L804.3 1481.6L804.8 1482.9L805.3 1483.7L805.8 1484L806.3 1484L806.8 1483.7L807.4 1483.5L807.9 1483.3L808.4 1483.3L808.9 1483.4L809.4 1483.7L809.9 1484.1L810.4 1484.6L810.9 1485.2L811.5 1485.7L812 1486.2L812.5 1486.7L813 1487L813.5 1487.3L814 1487.5L814.5 1487.7L815 1487.8L815.5 1487.9L816.1 1487.9L816.6 1487.9L818.1 1488L818.1 1488Z" fill="#FC8D62" stroke="#2E2E2E" stroke-width="1.15" stroke-linejoin="round"/>
<path d="M783.7 1488H923.4" stroke="#2E2E2E" stroke-width="1"/>
<path d="M817.9 1488h0M820 1488h0M876.5 1488h0M878.6 1488h0M882.5 1488h0M917 1488h0" stroke="#2E2E2E" stroke-width="3.7" stroke-linecap="round" fill="none"/>
<rect x="919.1" y="1485.9" width="4.4" height="4.2" rx=".6" fill="#EA0000"/>
</g>
<g>
<rect x="1113.4" y="1210.9" width="317.6" height="313.6" fill="#EBEBEB"/>
<path d="M1147.5 1210.9V1524.5M1235.2 1210.9V1524.5M1322.8 1210.9V1524.5M1410.7 1210.9V1524.5" stroke="#fff" stroke-opacity=".9" stroke-width=".6" fill="none"/>
<path d="M1191.4 1210.9V1524.5M1279.1 1210.9V1524.5M1366.8 1210.9V1524.5M1113.4 1247.4H1431M1113.4 1307.5H1431M1113.4 1367.7H1431M1113.4 1427.8H1431M1113.4 1488H1431" stroke="#fff" stroke-width="1.1" fill="none"/>
<path d="M1191.4 1524.5v1.8M1279.1 1524.5v1.8M1366.8 1524.5v1.8M1113.4 1247.4h-1.8M1113.4 1307.5h-1.8M1113.4 1367.7h-1.8M1113.4 1427.8h-1.8M1113.4 1488h-1.8" stroke="#2E2E2E" stroke-width="1.1" fill="none"/>
<g font-size="6.2" fill="#4D4D4D" text-anchor="middle">
<text x="1191.4" y="1532.1">25</text>
<text x="1279.1" y="1532.1">50</text>
<text x="1366.8" y="1532.1">75</text>
</g>
<g font-size="6.2" fill="#4D4D4D" text-anchor="end">
<text x="1110" y="1249.6">AFR</text>
<text x="1110" y="1309.7">AMR</text>
<text x="1110" y="1369.9">EAS</text>
<text x="1110" y="1430">EUR</text>
<text x="1110" y="1490.2">SAS</text>
</g>
<text x="1272.2" y="1206" font-size="9" text-anchor="middle" fill="#000">ATXN10</text>
<rect x="1145.8" y="1241.4" width="6.8" height="12" fill="#BEBEBE" stroke="#2E2E2E" stroke-width="1.1"/>
<path d="M1149 1241.4v12" stroke="#2E2E2E" stroke-width="1.9"/>
<path d="M1137.6 1247.4L1137.6 1247.4L1138.7 1247.3L1139.1 1247.3L1139.5 1247.2L1139.9 1247.1L1140.3 1247L1140.7 1246.8L1141.1 1246.6L1141.5 1246.4L1141.9 1246.3L1142.3 1246.3L1142.7 1246.3L1143 1246.3L1143.4 1246.2L1143.8 1245.6L1144.2 1244.4L1144.6 1242.7L1145 1240.7L1145.4 1239.2L1145.8 1238.8L1146.2 1239.5L1146.6 1240.8L1147 1241.8L1147.4 1241.7L1147.8 1240.2L1148.2 1237.7L1148.5 1235.6L1148.9 1234.7L1149.3 1235.7L1149.7 1238L1150.1 1240.4L1150.5 1241.9L1150.9 1241.7L1151.3 1240.1L1151.7 1237.9L1152.1 1236.3L1152.5 1236.2L1152.9 1237.6L1153.3 1240L1153.6 1242.4L1154 1243.9L1154.4 1244.3L1154.8 1244L1155.2 1243.3L1155.6 1242.9L1156 1243L1156.4 1243.8L1156.8 1244.7L1157.2 1245.6L1157.6 1246.1L1158 1246.3L1158.4 1246.4L1158.7 1246.5L1159.1 1246.6L1159.5 1246.8L1159.9 1247L1160.3 1247.1L1160.7 1247.3L1161.1 1247.3L1161.5 1247.4L1162.7 1247.4L1162.7 1247.4Z" fill="#FFD92F" stroke="#2E2E2E" stroke-width="1.15" stroke-linejoin="round"/>
<path d="M1127.7 1247.4H1170.3" stroke="#2E2E2E" stroke-width="1"/>
<path d="M1127.7 1247.4h0M1131.3 1247.4h0M1170.3 1247.4h0" stroke="#2E2E2E" stroke-width="3.7" stroke-linecap="round" fill="none"/>
<circle cx="1166.9" cy="1247.4" r="2.2" fill="#EA0000"/>
<rect x="1149" y="1301.5" width="3.6" height="12" fill="#BEBEBE" stroke="#2E2E2E" stroke-width="1.1"/>
<path d="M1150.7 1301.5v12" stroke="#2E2E2E" stroke-width="1.9"/>
<path d="M1143.1 1307.5L1143.1 1307.5L1143.3 1307.5L1143.6 1307.4L1143.8 1307L1144.1 1306.4L1144.3 1305.1L1144.6 1303.4L1144.8 1301.3L1145.1 1299.6L1145.4 1299L1145.6 1299.6L1145.9 1301.3L1146.1 1303.4L1146.4 1305.1L1146.6 1306.3L1146.9 1306.9L1147.2 1307L1147.4 1306.6L1147.7 1305.5L1147.9 1303.4L1148.2 1300.4L1148.4 1297L1148.7 1294.4L1148.9 1293.5L1149.2 1294.7L1149.5 1297.6L1149.7 1300.9L1150 1303.8L1150.2 1305.6L1150.5 1306.5L1150.7 1306.3L1151 1305L1151.2 1302.3L1151.5 1298.2L1151.8 1293.3L1152 1289L1152.3 1286.9L1152.5 1288L1152.8 1291.7L1153 1296.6L1153.3 1301.1L1153.6 1304.3L1153.8 1306.1L1154.1 1307L1154.3 1307.2L1154.6 1306.9L1154.8 1306.2L1155.1 1305L1155.3 1303.3L1155.6 1301.5L1155.9 1300.3L1156.1 1300.1L1156.4 1301L1156.6 1302.7L1156.9 1304.4L1157.1 1305.8L1157.4 1306.6L1157.6 1306.8L1157.9 1306.6L1158.2 1306.1L1158.4 1305.4L1158.7 1304.9L1158.9 1304.8L1159.2 1305L1159.4 1305.6L1159.7 1306.2L1159.9 1306.8L1160.2 1307.2L1160.5 1307.4L1160.7 1307.5L1161 1307.5L1161.2 1307.5L1161.2 1307.5Z" fill="#A6D854" stroke="#2E2E2E" stroke-width="1.15" stroke-linejoin="round"/>
<path d="M1127.7 1307.5H1416.2" stroke="#2E2E2E" stroke-width="1"/>
<path d="M1128.3 1307.5h0M1135.3 1307.5h0M1142.3 1307.5h0M1159.9 1307.5h0M1163.4 1307.5h0M1166.9 1307.5h0M1170.4 1307.5h0M1173.9 1307.5h0M1180.9 1307.5h0M1194.9 1307.5h0M1212.5 1307.5h0M1230 1307.5h0M1247.5 1307.5h0M1279.1 1307.5h0M1289.6 1307.5h0M1293.1 1307.5h0M1296.6 1307.5h0M1300.1 1307.5h0M1307.1 1307.5h0M1310.6 1307.5h0M1415.8 1307.5h0" stroke="#2E2E2E" stroke-width="3.7" stroke-linecap="round" fill="none"/>
<circle cx="1318.8" cy="1307.5" r="2.2" fill="#EA0000"/>
<rect x="1151.5" y="1361.7" width="4.5" height="12" fill="#BEBEBE" stroke="#2E2E2E" stroke-width="1.1"/>
<path d="M1153.7 1361.7v12" stroke="#2E2E2E" stroke-width="1.9"/>
<path d="M1143.5 1367.7L1143.5 1367.7L1143.7 1367.6L1143.9 1367.6L1144.1 1367.4L1144.3 1367.1L1144.5 1366.5L1144.7 1365.7L1144.9 1364.6L1145.1 1363.6L1145.3 1363L1145.5 1363.1L1145.7 1363.8L1145.9 1364.8L1146.1 1365.9L1146.3 1366.7L1146.5 1367.2L1146.7 1367.5L1146.9 1367.6L1147 1367.6L1147.2 1367.6L1147.4 1367.5L1147.6 1367.2L1147.8 1366.5L1148 1365.2L1148.2 1363.2L1148.4 1360.6L1148.6 1358.2L1148.8 1356.6L1149 1356.5L1149.2 1358L1149.4 1360.4L1149.6 1363L1149.8 1365L1150 1366.4L1150.2 1367.1L1150.4 1367.5L1150.6 1367.6L1150.8 1367.4L1151 1367L1151.2 1365.9L1151.4 1363.4L1151.6 1359.2L1151.8 1353.3L1152 1346.8L1152.2 1341.8L1152.3 1340.4L1152.5 1343.2L1152.7 1349L1152.9 1355.5L1153.1 1360.9L1153.3 1364.5L1153.5 1366.4L1153.7 1367.2L1153.9 1367.5L1154.1 1367.6L1154.3 1367.6L1154.5 1367.5L1154.7 1367.2L1154.9 1366.5L1155.1 1365L1155.3 1362.6L1155.5 1359.3L1155.7 1355.6L1155.9 1352.7L1156.1 1351.7L1156.3 1352.9L1156.5 1355.9L1156.7 1359.6L1156.9 1362.9L1157.1 1365.2L1157.3 1366.6L1157.4 1367.3L1157.6 1367.5L1157.8 1367.6L1158 1367.6L1158.2 1367.5L1158.4 1367.2L1158.6 1366.5L1158.8 1365.4L1159 1363.7L1159.2 1361.7L1159.4 1360L1159.6 1359.2L1159.8 1359.5L1160 1360.9L1160.2 1362.8L1160.4 1364.7L1160.6 1366.1L1160.8 1366.9L1161 1367.4L1161.2 1367.6L1161.4 1367.6L1161.6 1367.6L1161.8 1367.5L1162 1367.3L1162.2 1366.9L1162.4 1366.3L1162.6 1365.5L1162.7 1364.8L1162.9 1364.3L1163.1 1364.3L1163.3 1364.8L1163.5 1365.5L1163.7 1366.3L1163.9 1366.9L1164.1 1367.3L1164.3 1367.5L1164.5 1367.6L1164.7 1367.7L1164.9 1367.7L1164.9 1367.7Z" fill="#E78AC3" stroke="#2E2E2E" stroke-width="1.15" stroke-linejoin="round"/>
<path d="M1134.5 1367.7H1212.3" stroke="#2E2E2E" stroke-width="1"/>
<path d="M1135.3 1367.7h0M1138.8 1367.7h0M1142.3 1367.7h0M1145.8 1367.7h0M1163.4 1367.7h0M1166.9 1367.7h0M1170.4 1367.7h0M1173.9 1367.7h0M1177.4 1367.7h0M1180.9 1367.7h0M1191.4 1367.7h0M1212.5 1367.7h0" stroke="#2E2E2E" stroke-width="3.7" stroke-linecap="round" fill="none"/>
<rect x="1198.6" y="1365.6" width="4.4" height="4.2" rx=".6" fill="#EA0000"/>
<rect x="1149" y="1421.8" width="7" height="12" fill="#BEBEBE" stroke="#2E2E2E" stroke-width="1.1"/>
<path d="M1152.6 1421.8v12" stroke="#2E2E2E" stroke-width="1.9"/>
<path d="M1136.1 1427.8L1136.1 1427.8L1137.6 1427.8L1138 1427.7L1138.5 1427.7L1139 1427.6L1139.4 1427.4L1139.9 1427.2L1140.4 1427L1140.8 1426.8L1141.3 1426.7L1141.8 1426.6L1142.2 1426.4L1142.7 1426L1143.2 1425.2L1143.7 1424.2L1144.1 1423.2L1144.6 1422.6L1145.1 1422.7L1145.5 1423.5L1146 1424.4L1146.5 1425.1L1146.9 1424.9L1147.4 1423.8L1147.9 1422.1L1148.3 1420.4L1148.8 1419.4L1149.3 1419.5L1149.8 1420.4L1150.2 1421.3L1150.7 1421.3L1151.2 1420.3L1151.6 1418.8L1152.1 1417.7L1152.6 1417.9L1153 1419.3L1153.5 1421.3L1154 1423L1154.4 1423.8L1154.9 1423.5L1155.4 1422.8L1155.9 1422.2L1156.3 1422.2L1156.8 1422.8L1157.3 1423.7L1157.7 1424.2L1158.2 1424.4L1158.7 1424.2L1159.1 1424L1159.6 1424.3L1160.1 1424.9L1160.5 1425.8L1161 1426.5L1161.5 1427L1162 1427.3L1162.4 1427.3L1162.9 1427.1L1163.4 1426.9L1163.8 1426.8L1164.3 1426.7L1164.8 1426.8L1165.2 1426.9L1165.7 1427.1L1166.2 1427.3L1166.6 1427.5L1167.1 1427.6L1167.6 1427.7L1168.1 1427.8L1169.9 1427.8L1169.9 1427.8Z" fill="#8DA0CB" stroke="#2E2E2E" stroke-width="1.15" stroke-linejoin="round"/>
<path d="M1138.3 1427.8H1173.5" stroke="#2E2E2E" stroke-width="1"/>
<path d="M1170.3 1427.8h0" stroke="#2E2E2E" stroke-width="3.7" stroke-linecap="round" fill="none"/>
<circle cx="1173.5" cy="1427.8" r="2.2" fill="#EA0000"/>
<rect x="1149" y="1482" width="7" height="12" fill="#BEBEBE" stroke="#2E2E2E" stroke-width="1.1"/>
<path d="M1152.6 1482v12" stroke="#2E2E2E" stroke-width="1.9"/>
<path d="M1136.8 1488L1136.8 1488L1138.2 1487.9L1138.7 1487.9L1139.1 1487.9L1139.6 1487.8L1140.1 1487.6L1140.5 1487.5L1141 1487.3L1141.5 1487.2L1141.9 1487.1L1142.4 1487L1142.9 1487L1143.4 1486.8L1143.8 1486.4L1144.3 1485.6L1144.8 1484.7L1145.2 1483.9L1145.7 1483.5L1146.2 1483.4L1146.6 1483.6L1147.1 1483.3L1147.6 1482.4L1148 1481.1L1148.5 1479.8L1149 1479.4L1149.5 1479.9L1149.9 1480.9L1150.4 1481.5L1150.9 1481.1L1151.3 1479.7L1151.8 1478.2L1152.3 1477.6L1152.7 1478.2L1153.2 1480L1153.7 1482.1L1154.1 1483.6L1154.6 1484.1L1155.1 1483.7L1155.6 1483.1L1156 1482.7L1156.5 1483L1157 1483.8L1157.4 1484.6L1157.9 1485.2L1158.4 1485.3L1158.8 1485.2L1159.3 1485.3L1159.8 1485.6L1160.2 1486.1L1160.7 1486.6L1161.2 1487L1161.7 1487.2L1162.1 1487.3L1162.6 1487.2L1163.1 1487.1L1163.5 1487.1L1164 1487.2L1164.5 1487.3L1164.9 1487.4L1165.4 1487.6L1165.9 1487.7L1166.3 1487.8L1166.8 1487.9L1167.3 1487.9L1169.2 1488L1169.2 1488Z" fill="#FC8D62" stroke="#2E2E2E" stroke-width="1.15" stroke-linejoin="round"/>
<path d="M1134.5 1488H1188.4" stroke="#2E2E2E" stroke-width="1"/>
<path d="M1134.5 1488h0M1170.3 1488h0M1173.5 1488h0M1188.4 1488h0" stroke="#2E2E2E" stroke-width="3.7" stroke-linecap="round" fill="none"/>
<rect x="1183" y="1485.9" width="4.4" height="4.2" rx=".6" fill="#EA0000"/>
</g>
<rect x="1623" y="1261.9" width="35.6" height="35.7" fill="#FFD92F"/>
<rect x="1623" y="1298" width="35.6" height="35.6" fill="#A6D854"/>
<rect x="1623" y="1334" width="35.6" height="35.4" fill="#E78AC3"/>
<rect x="1623" y="1369.8" width="35.6" height="35.6" fill="#8DA0CB"/>
<rect x="1623" y="1405.8" width="35.6" height="27.2" fill="#FC8D62"/>
<g font-size="18.7" fill="#000">
<text x="1670.4" y="1286.9">AFR</text>
<text x="1670.4" y="1321.8">AMR</text>
<text x="1670.4" y="1357.7">EAS</text>
<text x="1670.4" y="1393.7">EUR</text>
<text x="1670.4" y="1429.5">SAS</text>
</g>
<text x="1131.4" y="1584.8" font-size="43" text-anchor="middle" fill="#000">Repeat count</text>
<text transform="translate(31,816) rotate(-90)" font-size="43" text-anchor="middle" fill="#000">Population</text>
</svg>
</body></html>
